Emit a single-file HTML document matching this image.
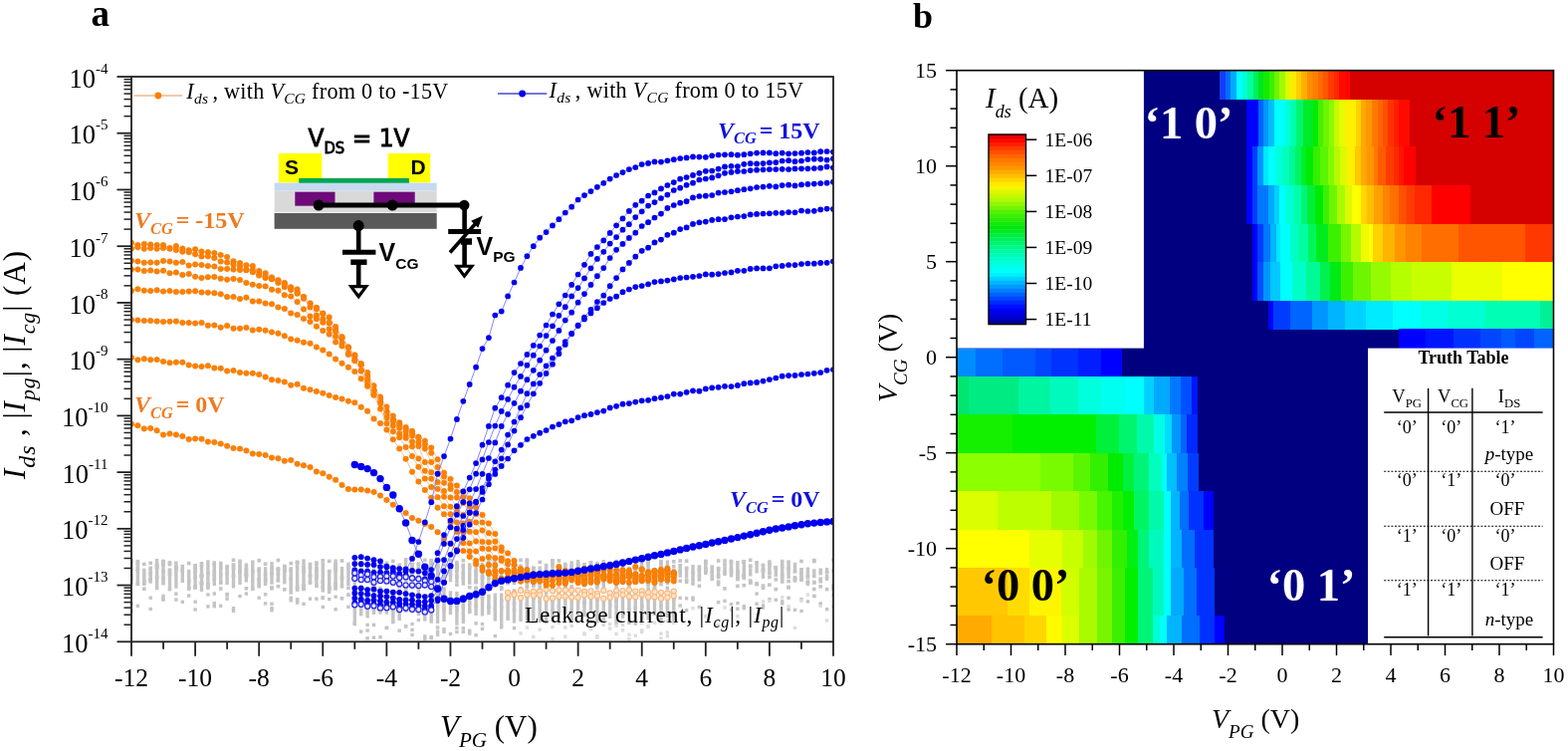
<!DOCTYPE html>
<html><head><meta charset="utf-8"><title>Figure</title>
<style>
html,body{margin:0;padding:0;background:#fff;}
body{width:1575px;height:754px;overflow:hidden;}
svg{display:block;}
</style></head><body>
<svg width="1575" height="754" viewBox="0 0 1575 754">
<rect x="0" y="0" width="1575" height="754" fill="#fff"/>
<rect x="961.0" y="70.7" width="599.5" height="576.0" fill="#000080"/>
<rect x="1225.20" y="70.70" width="5.90" height="29.60" fill="#143cff" shape-rendering="crispEdges"/>
<rect x="1230.80" y="70.70" width="5.80" height="29.60" fill="#006eff" shape-rendering="crispEdges"/>
<rect x="1236.30" y="70.70" width="5.90" height="29.60" fill="#00aaff" shape-rendering="crispEdges"/>
<rect x="1241.90" y="70.70" width="5.90" height="29.60" fill="#00ffff" shape-rendering="crispEdges"/>
<rect x="1247.50" y="70.70" width="5.90" height="29.60" fill="#00ffd2" shape-rendering="crispEdges"/>
<rect x="1253.10" y="70.70" width="5.90" height="29.60" fill="#00ffa0" shape-rendering="crispEdges"/>
<rect x="1258.70" y="70.70" width="5.40" height="29.60" fill="#00f05a" shape-rendering="crispEdges"/>
<rect x="1263.80" y="70.70" width="5.40" height="29.60" fill="#00e61e" shape-rendering="crispEdges"/>
<rect x="1268.90" y="70.70" width="6.40" height="29.60" fill="#14eb00" shape-rendering="crispEdges"/>
<rect x="1275.00" y="70.70" width="5.30" height="29.60" fill="#3cf000" shape-rendering="crispEdges"/>
<rect x="1280.00" y="70.70" width="5.30" height="29.60" fill="#6ef500" shape-rendering="crispEdges"/>
<rect x="1285.00" y="70.70" width="6.00" height="29.60" fill="#a0fa00" shape-rendering="crispEdges"/>
<rect x="1290.70" y="70.70" width="5.90" height="29.60" fill="#dcfa00" shape-rendering="crispEdges"/>
<rect x="1296.30" y="70.70" width="5.90" height="29.60" fill="#ffeb00" shape-rendering="crispEdges"/>
<rect x="1301.90" y="70.70" width="5.40" height="29.60" fill="#ffcd00" shape-rendering="crispEdges"/>
<rect x="1307.00" y="70.70" width="5.90" height="29.60" fill="#ffaf00" shape-rendering="crispEdges"/>
<rect x="1312.60" y="70.70" width="5.80" height="29.60" fill="#ff8c00" shape-rendering="crispEdges"/>
<rect x="1318.10" y="70.70" width="5.90" height="29.60" fill="#ff8000" shape-rendering="crispEdges"/>
<rect x="1323.70" y="70.70" width="5.40" height="29.60" fill="#ff6900" shape-rendering="crispEdges"/>
<rect x="1328.80" y="70.70" width="5.90" height="29.60" fill="#ff5500" shape-rendering="crispEdges"/>
<rect x="1334.40" y="70.70" width="5.90" height="29.60" fill="#ff3c00" shape-rendering="crispEdges"/>
<rect x="1340.00" y="70.70" width="5.30" height="29.60" fill="#ff2800" shape-rendering="crispEdges"/>
<rect x="1345.00" y="70.70" width="6.50" height="29.60" fill="#ff0a00" shape-rendering="crispEdges"/>
<rect x="1351.20" y="70.70" width="5.40" height="29.60" fill="#ff0500" shape-rendering="crispEdges"/>
<rect x="1356.30" y="70.70" width="204.50" height="29.60" fill="#d50000" shape-rendering="crispEdges"/>
<rect x="1252.00" y="100.00" width="11.80" height="47.40" fill="#0000ff" shape-rendering="crispEdges"/>
<rect x="1263.50" y="100.00" width="6.00" height="47.40" fill="#0064ff" shape-rendering="crispEdges"/>
<rect x="1269.20" y="100.00" width="5.40" height="47.40" fill="#0096ff" shape-rendering="crispEdges"/>
<rect x="1274.30" y="100.00" width="6.00" height="47.40" fill="#00beff" shape-rendering="crispEdges"/>
<rect x="1280.00" y="100.00" width="11.10" height="47.40" fill="#00ffff" shape-rendering="crispEdges"/>
<rect x="1290.80" y="100.00" width="6.00" height="47.40" fill="#00ffd2" shape-rendering="crispEdges"/>
<rect x="1296.50" y="100.00" width="6.00" height="47.40" fill="#00ffaa" shape-rendering="crispEdges"/>
<rect x="1302.20" y="100.00" width="6.70" height="47.40" fill="#00f56e" shape-rendering="crispEdges"/>
<rect x="1308.60" y="100.00" width="10.40" height="47.40" fill="#00eb28" shape-rendering="crispEdges"/>
<rect x="1318.70" y="100.00" width="5.40" height="47.40" fill="#00eb00" shape-rendering="crispEdges"/>
<rect x="1323.80" y="100.00" width="5.40" height="47.40" fill="#46f000" shape-rendering="crispEdges"/>
<rect x="1328.90" y="100.00" width="6.60" height="47.40" fill="#6ef500" shape-rendering="crispEdges"/>
<rect x="1335.20" y="100.00" width="5.40" height="47.40" fill="#8cfa00" shape-rendering="crispEdges"/>
<rect x="1340.30" y="100.00" width="5.40" height="47.40" fill="#c8fa00" shape-rendering="crispEdges"/>
<rect x="1345.40" y="100.00" width="5.40" height="47.40" fill="#e6fa00" shape-rendering="crispEdges"/>
<rect x="1350.50" y="100.00" width="11.80" height="47.40" fill="#fff000" shape-rendering="crispEdges"/>
<rect x="1362.00" y="100.00" width="5.30" height="47.40" fill="#ffd200" shape-rendering="crispEdges"/>
<rect x="1367.00" y="100.00" width="5.30" height="47.40" fill="#ffaa00" shape-rendering="crispEdges"/>
<rect x="1372.00" y="100.00" width="6.10" height="47.40" fill="#ff9600" shape-rendering="crispEdges"/>
<rect x="1377.80" y="100.00" width="6.00" height="47.40" fill="#ff7800" shape-rendering="crispEdges"/>
<rect x="1383.50" y="100.00" width="5.40" height="47.40" fill="#ff6400" shape-rendering="crispEdges"/>
<rect x="1388.60" y="100.00" width="6.00" height="47.40" fill="#ff5000" shape-rendering="crispEdges"/>
<rect x="1394.30" y="100.00" width="6.00" height="47.40" fill="#ff3200" shape-rendering="crispEdges"/>
<rect x="1400.00" y="100.00" width="5.30" height="47.40" fill="#ff1e00" shape-rendering="crispEdges"/>
<rect x="1405.00" y="100.00" width="11.20" height="47.40" fill="#ff0a00" shape-rendering="crispEdges"/>
<rect x="1415.90" y="100.00" width="144.90" height="47.40" fill="#d50000" shape-rendering="crispEdges"/>
<rect x="1252.00" y="147.10" width="6.60" height="39.20" fill="#0000ff" shape-rendering="crispEdges"/>
<rect x="1258.30" y="147.10" width="5.00" height="39.20" fill="#003cff" shape-rendering="crispEdges"/>
<rect x="1263.00" y="147.10" width="6.70" height="39.20" fill="#0096ff" shape-rendering="crispEdges"/>
<rect x="1269.40" y="147.10" width="4.90" height="39.20" fill="#00e6ff" shape-rendering="crispEdges"/>
<rect x="1274.00" y="147.10" width="7.60" height="39.20" fill="#00ffff" shape-rendering="crispEdges"/>
<rect x="1281.30" y="147.10" width="6.60" height="39.20" fill="#00ffdc" shape-rendering="crispEdges"/>
<rect x="1287.60" y="147.10" width="7.50" height="39.20" fill="#00ffbe" shape-rendering="crispEdges"/>
<rect x="1294.80" y="147.10" width="6.50" height="39.20" fill="#00fa96" shape-rendering="crispEdges"/>
<rect x="1301.00" y="147.10" width="6.00" height="39.20" fill="#00f564" shape-rendering="crispEdges"/>
<rect x="1306.70" y="147.10" width="5.80" height="39.20" fill="#00f028" shape-rendering="crispEdges"/>
<rect x="1312.20" y="147.10" width="7.50" height="39.20" fill="#00eb00" shape-rendering="crispEdges"/>
<rect x="1319.40" y="147.10" width="6.60" height="39.20" fill="#32f000" shape-rendering="crispEdges"/>
<rect x="1325.70" y="147.10" width="8.30" height="39.20" fill="#5af500" shape-rendering="crispEdges"/>
<rect x="1333.70" y="147.10" width="6.60" height="39.20" fill="#82fa00" shape-rendering="crispEdges"/>
<rect x="1340.00" y="147.10" width="6.60" height="39.20" fill="#b4fa00" shape-rendering="crispEdges"/>
<rect x="1346.30" y="147.10" width="6.70" height="39.20" fill="#dcfa00" shape-rendering="crispEdges"/>
<rect x="1352.70" y="147.10" width="8.20" height="39.20" fill="#fff000" shape-rendering="crispEdges"/>
<rect x="1360.60" y="147.10" width="6.70" height="39.20" fill="#ffc800" shape-rendering="crispEdges"/>
<rect x="1367.00" y="147.10" width="6.60" height="39.20" fill="#ffaa00" shape-rendering="crispEdges"/>
<rect x="1373.30" y="147.10" width="6.70" height="39.20" fill="#ff9600" shape-rendering="crispEdges"/>
<rect x="1379.70" y="147.10" width="5.00" height="39.20" fill="#ff7800" shape-rendering="crispEdges"/>
<rect x="1384.40" y="147.10" width="8.30" height="39.20" fill="#ff5a00" shape-rendering="crispEdges"/>
<rect x="1392.40" y="147.10" width="7.40" height="39.20" fill="#ff3c00" shape-rendering="crispEdges"/>
<rect x="1399.50" y="147.10" width="5.80" height="39.20" fill="#ff2800" shape-rendering="crispEdges"/>
<rect x="1405.00" y="147.10" width="5.10" height="39.20" fill="#ff1400" shape-rendering="crispEdges"/>
<rect x="1409.80" y="147.10" width="12.20" height="39.20" fill="#ff0000" shape-rendering="crispEdges"/>
<rect x="1421.70" y="147.10" width="139.10" height="39.20" fill="#d50000" shape-rendering="crispEdges"/>
<rect x="1252.00" y="186.00" width="6.60" height="39.00" fill="#0000ff" shape-rendering="crispEdges"/>
<rect x="1258.30" y="186.00" width="5.00" height="39.00" fill="#003cff" shape-rendering="crispEdges"/>
<rect x="1263.00" y="186.00" width="11.30" height="39.00" fill="#0078ff" shape-rendering="crispEdges"/>
<rect x="1274.00" y="186.00" width="6.00" height="39.00" fill="#00aaff" shape-rendering="crispEdges"/>
<rect x="1279.70" y="186.00" width="5.80" height="39.00" fill="#00d2ff" shape-rendering="crispEdges"/>
<rect x="1285.20" y="186.00" width="7.50" height="39.00" fill="#00ffff" shape-rendering="crispEdges"/>
<rect x="1292.40" y="186.00" width="8.20" height="39.00" fill="#00ffd2" shape-rendering="crispEdges"/>
<rect x="1300.30" y="186.00" width="6.70" height="39.00" fill="#00ffaa" shape-rendering="crispEdges"/>
<rect x="1306.70" y="186.00" width="6.60" height="39.00" fill="#00f578" shape-rendering="crispEdges"/>
<rect x="1313.00" y="186.00" width="8.30" height="39.00" fill="#00f03c" shape-rendering="crispEdges"/>
<rect x="1321.00" y="186.00" width="8.20" height="39.00" fill="#00eb00" shape-rendering="crispEdges"/>
<rect x="1328.90" y="186.00" width="6.60" height="39.00" fill="#3cf000" shape-rendering="crispEdges"/>
<rect x="1335.20" y="186.00" width="8.30" height="39.00" fill="#6ef500" shape-rendering="crispEdges"/>
<rect x="1343.20" y="186.00" width="8.10" height="39.00" fill="#aafa00" shape-rendering="crispEdges"/>
<rect x="1351.00" y="186.00" width="6.80" height="39.00" fill="#dcfa00" shape-rendering="crispEdges"/>
<rect x="1357.50" y="186.00" width="9.80" height="39.00" fill="#ffff00" shape-rendering="crispEdges"/>
<rect x="1367.00" y="186.00" width="6.60" height="39.00" fill="#ffd700" shape-rendering="crispEdges"/>
<rect x="1373.30" y="186.00" width="6.70" height="39.00" fill="#ffbe00" shape-rendering="crispEdges"/>
<rect x="1379.70" y="186.00" width="9.80" height="39.00" fill="#ffa000" shape-rendering="crispEdges"/>
<rect x="1389.20" y="186.00" width="7.40" height="39.00" fill="#ff8200" shape-rendering="crispEdges"/>
<rect x="1396.30" y="186.00" width="9.00" height="39.00" fill="#ff6e00" shape-rendering="crispEdges"/>
<rect x="1405.00" y="186.00" width="8.30" height="39.00" fill="#ff5000" shape-rendering="crispEdges"/>
<rect x="1413.00" y="186.00" width="8.30" height="39.00" fill="#ff3c00" shape-rendering="crispEdges"/>
<rect x="1421.00" y="186.00" width="17.70" height="39.00" fill="#ff2800" shape-rendering="crispEdges"/>
<rect x="1438.40" y="186.00" width="38.40" height="39.00" fill="#ff0000" shape-rendering="crispEdges"/>
<rect x="1476.50" y="186.00" width="84.30" height="39.00" fill="#d50000" shape-rendering="crispEdges"/>
<rect x="1257.60" y="224.70" width="6.00" height="38.40" fill="#0000ff" shape-rendering="crispEdges"/>
<rect x="1263.30" y="224.70" width="6.40" height="38.40" fill="#003cff" shape-rendering="crispEdges"/>
<rect x="1269.40" y="224.70" width="6.40" height="38.40" fill="#0078ff" shape-rendering="crispEdges"/>
<rect x="1275.50" y="224.70" width="6.40" height="38.40" fill="#00b4ff" shape-rendering="crispEdges"/>
<rect x="1281.60" y="224.70" width="4.30" height="38.40" fill="#00e6ff" shape-rendering="crispEdges"/>
<rect x="1285.60" y="224.70" width="10.50" height="38.40" fill="#00ffff" shape-rendering="crispEdges"/>
<rect x="1295.80" y="224.70" width="8.40" height="38.40" fill="#00ffc8" shape-rendering="crispEdges"/>
<rect x="1303.90" y="224.70" width="10.40" height="38.40" fill="#00ffa0" shape-rendering="crispEdges"/>
<rect x="1314.00" y="224.70" width="8.50" height="38.40" fill="#00f55a" shape-rendering="crispEdges"/>
<rect x="1322.20" y="224.70" width="12.50" height="38.40" fill="#00eb1e" shape-rendering="crispEdges"/>
<rect x="1334.40" y="224.70" width="12.50" height="38.40" fill="#3cf000" shape-rendering="crispEdges"/>
<rect x="1346.60" y="224.70" width="10.40" height="38.40" fill="#78f500" shape-rendering="crispEdges"/>
<rect x="1356.70" y="224.70" width="10.60" height="38.40" fill="#b4fa00" shape-rendering="crispEdges"/>
<rect x="1367.00" y="224.70" width="8.30" height="38.40" fill="#f0fa00" shape-rendering="crispEdges"/>
<rect x="1375.00" y="224.70" width="4.30" height="38.40" fill="#ffff00" shape-rendering="crispEdges"/>
<rect x="1379.00" y="224.70" width="10.60" height="38.40" fill="#ffd200" shape-rendering="crispEdges"/>
<rect x="1389.30" y="224.70" width="12.40" height="38.40" fill="#ffb400" shape-rendering="crispEdges"/>
<rect x="1401.40" y="224.70" width="10.50" height="38.40" fill="#ff9600" shape-rendering="crispEdges"/>
<rect x="1411.60" y="224.70" width="16.60" height="38.40" fill="#ff8200" shape-rendering="crispEdges"/>
<rect x="1427.90" y="224.70" width="37.80" height="38.40" fill="#ff6e00" shape-rendering="crispEdges"/>
<rect x="1465.40" y="224.70" width="66.40" height="38.40" fill="#ff5500" shape-rendering="crispEdges"/>
<rect x="1531.50" y="224.70" width="29.30" height="38.40" fill="#ff3700" shape-rendering="crispEdges"/>
<rect x="1257.60" y="262.80" width="6.00" height="39.00" fill="#0000ff" shape-rendering="crispEdges"/>
<rect x="1263.30" y="262.80" width="6.40" height="39.00" fill="#0050ff" shape-rendering="crispEdges"/>
<rect x="1269.40" y="262.80" width="6.40" height="39.00" fill="#0096ff" shape-rendering="crispEdges"/>
<rect x="1275.50" y="262.80" width="10.40" height="39.00" fill="#00c8ff" shape-rendering="crispEdges"/>
<rect x="1285.60" y="262.80" width="12.50" height="39.00" fill="#00ffff" shape-rendering="crispEdges"/>
<rect x="1297.80" y="262.80" width="14.50" height="39.00" fill="#00ffc8" shape-rendering="crispEdges"/>
<rect x="1312.00" y="262.80" width="14.60" height="39.00" fill="#00fa96" shape-rendering="crispEdges"/>
<rect x="1326.30" y="262.80" width="10.40" height="39.00" fill="#00f050" shape-rendering="crispEdges"/>
<rect x="1336.40" y="262.80" width="10.50" height="39.00" fill="#00eb14" shape-rendering="crispEdges"/>
<rect x="1346.60" y="262.80" width="12.50" height="39.00" fill="#3cf000" shape-rendering="crispEdges"/>
<rect x="1358.80" y="262.80" width="18.50" height="39.00" fill="#6ef500" shape-rendering="crispEdges"/>
<rect x="1377.00" y="262.80" width="20.70" height="39.00" fill="#96fa00" shape-rendering="crispEdges"/>
<rect x="1397.40" y="262.80" width="20.60" height="39.00" fill="#b4ff00" shape-rendering="crispEdges"/>
<rect x="1417.70" y="262.80" width="40.90" height="39.00" fill="#c8ff00" shape-rendering="crispEdges"/>
<rect x="1458.30" y="262.80" width="51.00" height="39.00" fill="#ebff00" shape-rendering="crispEdges"/>
<rect x="1509.00" y="262.80" width="51.80" height="39.00" fill="#ffff00" shape-rendering="crispEdges"/>
<rect x="1273.90" y="301.50" width="5.80" height="29.10" fill="#0000ff" shape-rendering="crispEdges"/>
<rect x="1279.40" y="301.50" width="16.70" height="29.10" fill="#003cff" shape-rendering="crispEdges"/>
<rect x="1295.80" y="301.50" width="22.50" height="29.10" fill="#0064ff" shape-rendering="crispEdges"/>
<rect x="1318.00" y="301.50" width="15.90" height="29.10" fill="#0096ff" shape-rendering="crispEdges"/>
<rect x="1333.60" y="301.50" width="17.70" height="29.10" fill="#00b4ff" shape-rendering="crispEdges"/>
<rect x="1351.00" y="301.50" width="21.60" height="29.10" fill="#00d2ff" shape-rendering="crispEdges"/>
<rect x="1372.30" y="301.50" width="27.40" height="29.10" fill="#00ebff" shape-rendering="crispEdges"/>
<rect x="1399.40" y="301.50" width="27.40" height="29.10" fill="#00ffff" shape-rendering="crispEdges"/>
<rect x="1426.50" y="301.50" width="27.40" height="29.10" fill="#00ffe6" shape-rendering="crispEdges"/>
<rect x="1453.60" y="301.50" width="39.10" height="29.10" fill="#00ffd2" shape-rendering="crispEdges"/>
<rect x="1492.40" y="301.50" width="54.50" height="29.10" fill="#00ffb4" shape-rendering="crispEdges"/>
<rect x="1546.60" y="301.50" width="14.20" height="29.10" fill="#00f096" shape-rendering="crispEdges"/>
<rect x="1405.20" y="330.30" width="27.40" height="19.60" fill="#0000ff" shape-rendering="crispEdges"/>
<rect x="1432.30" y="330.30" width="27.50" height="19.60" fill="#0014ff" shape-rendering="crispEdges"/>
<rect x="1459.50" y="330.30" width="27.40" height="19.60" fill="#0032ff" shape-rendering="crispEdges"/>
<rect x="1486.60" y="330.30" width="21.70" height="19.60" fill="#0046ff" shape-rendering="crispEdges"/>
<rect x="1508.00" y="330.30" width="13.80" height="19.60" fill="#005aff" shape-rendering="crispEdges"/>
<rect x="1521.50" y="330.30" width="19.60" height="19.60" fill="#0046ff" shape-rendering="crispEdges"/>
<rect x="1540.80" y="330.30" width="20.00" height="19.60" fill="#0064ff" shape-rendering="crispEdges"/>
<rect x="961.00" y="349.60" width="19.20" height="28.90" fill="#008cff" shape-rendering="crispEdges"/>
<rect x="979.90" y="349.60" width="27.00" height="28.90" fill="#006eff" shape-rendering="crispEdges"/>
<rect x="1006.60" y="349.60" width="34.00" height="28.90" fill="#005aff" shape-rendering="crispEdges"/>
<rect x="1040.30" y="349.60" width="16.30" height="28.90" fill="#0046ff" shape-rendering="crispEdges"/>
<rect x="1056.30" y="349.60" width="27.00" height="28.90" fill="#0032ff" shape-rendering="crispEdges"/>
<rect x="1083.00" y="349.60" width="23.30" height="28.90" fill="#001eff" shape-rendering="crispEdges"/>
<rect x="1106.00" y="349.60" width="20.90" height="28.90" fill="#0000ff" shape-rendering="crispEdges"/>
<rect x="1126.60" y="349.60" width="434.20" height="28.90" fill="#000080" shape-rendering="crispEdges"/>
<rect x="961.00" y="378.20" width="12.10" height="38.50" fill="#00e66e" shape-rendering="crispEdges"/>
<rect x="972.80" y="378.20" width="50.10" height="38.50" fill="#00eb82" shape-rendering="crispEdges"/>
<rect x="1022.60" y="378.20" width="32.30" height="38.50" fill="#00f5a0" shape-rendering="crispEdges"/>
<rect x="1054.60" y="378.20" width="28.70" height="38.50" fill="#00fabe" shape-rendering="crispEdges"/>
<rect x="1083.00" y="378.20" width="23.30" height="38.50" fill="#00ffdc" shape-rendering="crispEdges"/>
<rect x="1106.00" y="378.20" width="25.30" height="38.50" fill="#00fff0" shape-rendering="crispEdges"/>
<rect x="1131.00" y="378.20" width="18.10" height="38.50" fill="#00ffff" shape-rendering="crispEdges"/>
<rect x="1148.80" y="378.20" width="10.90" height="38.50" fill="#00d2ff" shape-rendering="crispEdges"/>
<rect x="1159.40" y="378.20" width="16.30" height="38.50" fill="#00aaff" shape-rendering="crispEdges"/>
<rect x="1175.40" y="378.20" width="10.90" height="38.50" fill="#0078ff" shape-rendering="crispEdges"/>
<rect x="1186.00" y="378.20" width="11.10" height="38.50" fill="#0050ff" shape-rendering="crispEdges"/>
<rect x="1196.80" y="378.20" width="6.50" height="38.50" fill="#0014ff" shape-rendering="crispEdges"/>
<rect x="1203.00" y="378.20" width="357.80" height="38.50" fill="#000080" shape-rendering="crispEdges"/>
<rect x="961.00" y="416.40" width="56.50" height="38.50" fill="#14f000" shape-rendering="crispEdges"/>
<rect x="1017.20" y="416.40" width="83.90" height="38.50" fill="#00f000" shape-rendering="crispEdges"/>
<rect x="1100.80" y="416.40" width="23.40" height="38.50" fill="#00f03c" shape-rendering="crispEdges"/>
<rect x="1123.90" y="416.40" width="18.10" height="38.50" fill="#00f56e" shape-rendering="crispEdges"/>
<rect x="1141.70" y="416.40" width="18.00" height="38.50" fill="#00faaa" shape-rendering="crispEdges"/>
<rect x="1159.40" y="416.40" width="10.90" height="38.50" fill="#00ffe6" shape-rendering="crispEdges"/>
<rect x="1170.00" y="416.40" width="7.50" height="38.50" fill="#00dcff" shape-rendering="crispEdges"/>
<rect x="1177.20" y="416.40" width="9.10" height="38.50" fill="#0096ff" shape-rendering="crispEdges"/>
<rect x="1186.00" y="416.40" width="6.60" height="38.50" fill="#0064ff" shape-rendering="crispEdges"/>
<rect x="1192.30" y="416.40" width="11.00" height="38.50" fill="#0028ff" shape-rendering="crispEdges"/>
<rect x="1203.00" y="416.40" width="357.80" height="38.50" fill="#000080" shape-rendering="crispEdges"/>
<rect x="961.00" y="454.60" width="84.50" height="39.00" fill="#8cff00" shape-rendering="crispEdges"/>
<rect x="1045.20" y="454.60" width="33.50" height="39.00" fill="#78fa00" shape-rendering="crispEdges"/>
<rect x="1078.40" y="454.60" width="16.90" height="39.00" fill="#5af500" shape-rendering="crispEdges"/>
<rect x="1095.00" y="454.60" width="18.70" height="39.00" fill="#32f000" shape-rendering="crispEdges"/>
<rect x="1113.40" y="454.60" width="14.90" height="39.00" fill="#00eb00" shape-rendering="crispEdges"/>
<rect x="1128.00" y="454.60" width="11.30" height="39.00" fill="#00f03c" shape-rendering="crispEdges"/>
<rect x="1139.00" y="454.60" width="15.20" height="39.00" fill="#00f578" shape-rendering="crispEdges"/>
<rect x="1153.90" y="454.60" width="13.10" height="39.00" fill="#00ffbe" shape-rendering="crispEdges"/>
<rect x="1166.70" y="454.60" width="5.90" height="39.00" fill="#00ffff" shape-rendering="crispEdges"/>
<rect x="1172.30" y="454.60" width="9.50" height="39.00" fill="#00beff" shape-rendering="crispEdges"/>
<rect x="1181.50" y="454.60" width="11.30" height="39.00" fill="#0082ff" shape-rendering="crispEdges"/>
<rect x="1192.50" y="454.60" width="11.40" height="39.00" fill="#003cff" shape-rendering="crispEdges"/>
<rect x="1203.60" y="454.60" width="357.20" height="39.00" fill="#000080" shape-rendering="crispEdges"/>
<rect x="961.00" y="493.30" width="41.30" height="39.00" fill="#dcff00" shape-rendering="crispEdges"/>
<rect x="1002.00" y="493.30" width="54.60" height="39.00" fill="#beff00" shape-rendering="crispEdges"/>
<rect x="1056.30" y="493.30" width="27.90" height="39.00" fill="#a0fa00" shape-rendering="crispEdges"/>
<rect x="1083.90" y="493.30" width="18.70" height="39.00" fill="#78fa00" shape-rendering="crispEdges"/>
<rect x="1102.30" y="493.30" width="15.00" height="39.00" fill="#46f500" shape-rendering="crispEdges"/>
<rect x="1117.00" y="493.30" width="11.30" height="39.00" fill="#1ef000" shape-rendering="crispEdges"/>
<rect x="1128.00" y="493.30" width="11.30" height="39.00" fill="#00f000" shape-rendering="crispEdges"/>
<rect x="1139.00" y="493.30" width="15.20" height="39.00" fill="#00f564" shape-rendering="crispEdges"/>
<rect x="1153.90" y="493.30" width="15.00" height="39.00" fill="#00faaa" shape-rendering="crispEdges"/>
<rect x="1168.60" y="493.30" width="7.70" height="39.00" fill="#00ffff" shape-rendering="crispEdges"/>
<rect x="1176.00" y="493.30" width="9.50" height="39.00" fill="#00b4ff" shape-rendering="crispEdges"/>
<rect x="1185.20" y="493.30" width="9.50" height="39.00" fill="#006eff" shape-rendering="crispEdges"/>
<rect x="1194.40" y="493.30" width="14.90" height="39.00" fill="#0032ff" shape-rendering="crispEdges"/>
<rect x="1209.00" y="493.30" width="10.50" height="39.00" fill="#0000ff" shape-rendering="crispEdges"/>
<rect x="1219.20" y="493.30" width="341.60" height="39.00" fill="#000080" shape-rendering="crispEdges"/>
<rect x="961.00" y="532.00" width="73.50" height="38.40" fill="#ffff00" shape-rendering="crispEdges"/>
<rect x="1034.20" y="532.00" width="33.40" height="38.40" fill="#e6ff00" shape-rendering="crispEdges"/>
<rect x="1067.30" y="532.00" width="20.60" height="38.40" fill="#c8ff00" shape-rendering="crispEdges"/>
<rect x="1087.60" y="532.00" width="15.00" height="38.40" fill="#a0fa00" shape-rendering="crispEdges"/>
<rect x="1102.30" y="532.00" width="15.00" height="38.40" fill="#6ef500" shape-rendering="crispEdges"/>
<rect x="1117.00" y="532.00" width="15.10" height="38.40" fill="#32f000" shape-rendering="crispEdges"/>
<rect x="1131.80" y="532.00" width="11.30" height="38.40" fill="#00f014" shape-rendering="crispEdges"/>
<rect x="1142.80" y="532.00" width="11.40" height="38.40" fill="#00f578" shape-rendering="crispEdges"/>
<rect x="1153.90" y="532.00" width="15.00" height="38.40" fill="#00fabe" shape-rendering="crispEdges"/>
<rect x="1168.60" y="532.00" width="7.70" height="38.40" fill="#00ffff" shape-rendering="crispEdges"/>
<rect x="1176.00" y="532.00" width="11.30" height="38.40" fill="#00b4ff" shape-rendering="crispEdges"/>
<rect x="1187.00" y="532.00" width="13.30" height="38.40" fill="#006eff" shape-rendering="crispEdges"/>
<rect x="1200.00" y="532.00" width="19.50" height="38.40" fill="#0032ff" shape-rendering="crispEdges"/>
<rect x="1219.20" y="532.00" width="341.60" height="38.40" fill="#000080" shape-rendering="crispEdges"/>
<rect x="961.00" y="570.10" width="51.30" height="48.20" fill="#ffc800" shape-rendering="crispEdges"/>
<rect x="1012.00" y="570.10" width="22.50" height="48.20" fill="#ffdc00" shape-rendering="crispEdges"/>
<rect x="1034.20" y="570.10" width="31.60" height="48.20" fill="#fff500" shape-rendering="crispEdges"/>
<rect x="1065.50" y="570.10" width="18.70" height="48.20" fill="#d2ff00" shape-rendering="crispEdges"/>
<rect x="1083.90" y="570.10" width="18.70" height="48.20" fill="#aafa00" shape-rendering="crispEdges"/>
<rect x="1102.30" y="570.10" width="15.00" height="48.20" fill="#78f500" shape-rendering="crispEdges"/>
<rect x="1117.00" y="570.10" width="13.30" height="48.20" fill="#3cf000" shape-rendering="crispEdges"/>
<rect x="1130.00" y="570.10" width="13.10" height="48.20" fill="#00f000" shape-rendering="crispEdges"/>
<rect x="1142.80" y="570.10" width="15.00" height="48.20" fill="#00f578" shape-rendering="crispEdges"/>
<rect x="1157.50" y="570.10" width="11.40" height="48.20" fill="#00fabe" shape-rendering="crispEdges"/>
<rect x="1168.60" y="570.10" width="7.70" height="48.20" fill="#00ffff" shape-rendering="crispEdges"/>
<rect x="1176.00" y="570.10" width="13.10" height="48.20" fill="#00aaff" shape-rendering="crispEdges"/>
<rect x="1188.80" y="570.10" width="13.20" height="48.20" fill="#006eff" shape-rendering="crispEdges"/>
<rect x="1201.70" y="570.10" width="18.70" height="48.20" fill="#0032ff" shape-rendering="crispEdges"/>
<rect x="1220.10" y="570.10" width="340.70" height="48.20" fill="#000080" shape-rendering="crispEdges"/>
<rect x="961.00" y="618.00" width="34.80" height="29.00" fill="#ffaa00" shape-rendering="crispEdges"/>
<rect x="995.50" y="618.00" width="33.40" height="29.00" fill="#ffc300" shape-rendering="crispEdges"/>
<rect x="1028.60" y="618.00" width="22.40" height="29.00" fill="#ffd700" shape-rendering="crispEdges"/>
<rect x="1050.70" y="618.00" width="16.90" height="29.00" fill="#fffa00" shape-rendering="crispEdges"/>
<rect x="1067.30" y="618.00" width="16.90" height="29.00" fill="#dcff00" shape-rendering="crispEdges"/>
<rect x="1083.90" y="618.00" width="18.70" height="29.00" fill="#aafa00" shape-rendering="crispEdges"/>
<rect x="1102.30" y="618.00" width="15.00" height="29.00" fill="#78f500" shape-rendering="crispEdges"/>
<rect x="1117.00" y="618.00" width="13.30" height="29.00" fill="#3cf000" shape-rendering="crispEdges"/>
<rect x="1130.00" y="618.00" width="13.10" height="29.00" fill="#00f000" shape-rendering="crispEdges"/>
<rect x="1142.80" y="618.00" width="15.00" height="29.00" fill="#00f578" shape-rendering="crispEdges"/>
<rect x="1157.50" y="618.00" width="7.80" height="29.00" fill="#00ffd2" shape-rendering="crispEdges"/>
<rect x="1165.00" y="618.00" width="7.60" height="29.00" fill="#00ffff" shape-rendering="crispEdges"/>
<rect x="1172.30" y="618.00" width="15.00" height="29.00" fill="#00b4ff" shape-rendering="crispEdges"/>
<rect x="1187.00" y="618.00" width="18.70" height="29.00" fill="#006eff" shape-rendering="crispEdges"/>
<rect x="1205.40" y="618.00" width="15.00" height="29.00" fill="#0032ff" shape-rendering="crispEdges"/>
<rect x="1220.10" y="618.00" width="10.50" height="29.00" fill="#0000ff" shape-rendering="crispEdges"/>
<rect x="1230.30" y="618.00" width="330.50" height="29.00" fill="#000080" shape-rendering="crispEdges"/>
<rect x="961.0" y="70.7" width="187.9" height="278.9" fill="#fff"/>
<rect x="1374.0" y="349.6" width="186.5" height="297.1" fill="#fff"/>
<rect x="993.0" y="135.00" width="37.5" height="4.37" fill="#e40000"/>
<rect x="993.0" y="138.97" width="37.5" height="4.37" fill="#ff0500"/>
<rect x="993.0" y="142.94" width="37.5" height="4.37" fill="#ff1f00"/>
<rect x="993.0" y="146.91" width="37.5" height="4.37" fill="#ff3a00"/>
<rect x="993.0" y="150.88" width="37.5" height="4.37" fill="#ff5000"/>
<rect x="993.0" y="154.85" width="37.5" height="4.37" fill="#ff6600"/>
<rect x="993.0" y="158.82" width="37.5" height="4.37" fill="#ff7700"/>
<rect x="993.0" y="162.80" width="37.5" height="4.37" fill="#ff8600"/>
<rect x="993.0" y="166.77" width="37.5" height="4.37" fill="#ff9500"/>
<rect x="993.0" y="170.74" width="37.5" height="4.37" fill="#ffaa00"/>
<rect x="993.0" y="174.71" width="37.5" height="4.37" fill="#ffc000"/>
<rect x="993.0" y="178.68" width="37.5" height="4.37" fill="#ffd500"/>
<rect x="993.0" y="182.65" width="37.5" height="4.37" fill="#ffe900"/>
<rect x="993.0" y="186.62" width="37.5" height="4.37" fill="#f6f600"/>
<rect x="993.0" y="190.59" width="37.5" height="4.37" fill="#dff700"/>
<rect x="993.0" y="194.56" width="37.5" height="4.37" fill="#c7f800"/>
<rect x="993.0" y="198.53" width="37.5" height="4.37" fill="#b0fa00"/>
<rect x="993.0" y="202.50" width="37.5" height="4.37" fill="#93f800"/>
<rect x="993.0" y="206.48" width="37.5" height="4.37" fill="#73f500"/>
<rect x="993.0" y="210.45" width="37.5" height="4.37" fill="#54f100"/>
<rect x="993.0" y="214.42" width="37.5" height="4.37" fill="#3bee02"/>
<rect x="993.0" y="218.39" width="37.5" height="4.37" fill="#28ec04"/>
<rect x="993.0" y="222.36" width="37.5" height="4.37" fill="#15e907"/>
<rect x="993.0" y="226.33" width="37.5" height="4.37" fill="#01e60a"/>
<rect x="993.0" y="230.30" width="37.5" height="4.37" fill="#00e923"/>
<rect x="993.0" y="234.27" width="37.5" height="4.37" fill="#00ed3e"/>
<rect x="993.0" y="238.24" width="37.5" height="4.37" fill="#00f159"/>
<rect x="993.0" y="242.21" width="37.5" height="4.37" fill="#00f474"/>
<rect x="993.0" y="246.18" width="37.5" height="4.37" fill="#00f78a"/>
<rect x="993.0" y="250.15" width="37.5" height="4.37" fill="#00faa1"/>
<rect x="993.0" y="254.12" width="37.5" height="4.37" fill="#00fdb7"/>
<rect x="993.0" y="258.10" width="37.5" height="4.37" fill="#00ffcb"/>
<rect x="993.0" y="262.07" width="37.5" height="4.37" fill="#00ffda"/>
<rect x="993.0" y="266.04" width="37.5" height="4.37" fill="#00ffe9"/>
<rect x="993.0" y="270.01" width="37.5" height="4.37" fill="#00fff9"/>
<rect x="993.0" y="273.98" width="37.5" height="4.37" fill="#00efff"/>
<rect x="993.0" y="277.95" width="37.5" height="4.37" fill="#00d2ff"/>
<rect x="993.0" y="281.92" width="37.5" height="4.37" fill="#00b6ff"/>
<rect x="993.0" y="285.89" width="37.5" height="4.37" fill="#0099ff"/>
<rect x="993.0" y="289.86" width="37.5" height="4.37" fill="#007dff"/>
<rect x="993.0" y="293.83" width="37.5" height="4.37" fill="#0061ff"/>
<rect x="993.0" y="297.80" width="37.5" height="4.37" fill="#0045ff"/>
<rect x="993.0" y="301.77" width="37.5" height="4.37" fill="#002aff"/>
<rect x="993.0" y="305.75" width="37.5" height="4.37" fill="#000eff"/>
<rect x="993.0" y="309.72" width="37.5" height="4.37" fill="#0000f5"/>
<rect x="993.0" y="313.69" width="37.5" height="4.37" fill="#0000e2"/>
<rect x="993.0" y="317.66" width="37.5" height="4.37" fill="#0000c8"/>
<rect x="993.0" y="321.63" width="37.5" height="4.37" fill="#00009b"/>
<rect x="993.0" y="135.0" width="37.5" height="190.6" fill="none" stroke="#000" stroke-width="1.4"/>
<line x1="1030.5" y1="140.2" x2="1041.3" y2="140.2" stroke="#000" stroke-width="1.5"/>
<text x="1049.5" y="146.5" font-family="'Liberation Serif','Times New Roman',serif" font-size="19.5" fill="#000">1E-06</text>
<line x1="1030.5" y1="176.3" x2="1041.3" y2="176.3" stroke="#000" stroke-width="1.5"/>
<text x="1049.5" y="182.6" font-family="'Liberation Serif','Times New Roman',serif" font-size="19.5" fill="#000">1E-07</text>
<line x1="1030.5" y1="212.4" x2="1041.3" y2="212.4" stroke="#000" stroke-width="1.5"/>
<text x="1049.5" y="218.7" font-family="'Liberation Serif','Times New Roman',serif" font-size="19.5" fill="#000">1E-08</text>
<line x1="1030.5" y1="248.4" x2="1041.3" y2="248.4" stroke="#000" stroke-width="1.5"/>
<text x="1049.5" y="254.7" font-family="'Liberation Serif','Times New Roman',serif" font-size="19.5" fill="#000">1E-09</text>
<line x1="1030.5" y1="284.5" x2="1041.3" y2="284.5" stroke="#000" stroke-width="1.5"/>
<text x="1049.5" y="290.8" font-family="'Liberation Serif','Times New Roman',serif" font-size="19.5" fill="#000">1E-10</text>
<line x1="1030.5" y1="320.6" x2="1041.3" y2="320.6" stroke="#000" stroke-width="1.5"/>
<text x="1049.5" y="326.9" font-family="'Liberation Serif','Times New Roman',serif" font-size="19.5" fill="#000">1E-11</text>
<text x="990" y="107.9" font-family="'Liberation Serif','Times New Roman',serif" font-size="29" fill="#000"><tspan font-style="italic">I</tspan><tspan font-style="italic" font-size="18" dy="10">ds</tspan><tspan dy="-10"> (A)</tspan></text>
<rect x="961.0" y="70.7" width="599.5" height="576.0" fill="none" stroke="#000" stroke-width="1.6"/>
<line x1="950.0" y1="646.70" x2="961.0" y2="646.70" stroke="#000" stroke-width="1.5"/>
<text x="941" y="654.3" font-family="'Liberation Serif','Times New Roman',serif" font-size="22" text-anchor="end" fill="#000">-15</text>
<line x1="954.5" y1="627.50" x2="961.0" y2="627.50" stroke="#000" stroke-width="1.5"/>
<line x1="954.5" y1="608.30" x2="961.0" y2="608.30" stroke="#000" stroke-width="1.5"/>
<line x1="954.5" y1="589.10" x2="961.0" y2="589.10" stroke="#000" stroke-width="1.5"/>
<line x1="954.5" y1="569.90" x2="961.0" y2="569.90" stroke="#000" stroke-width="1.5"/>
<line x1="950.0" y1="550.70" x2="961.0" y2="550.70" stroke="#000" stroke-width="1.5"/>
<text x="941" y="558.3" font-family="'Liberation Serif','Times New Roman',serif" font-size="22" text-anchor="end" fill="#000">-10</text>
<line x1="954.5" y1="531.50" x2="961.0" y2="531.50" stroke="#000" stroke-width="1.5"/>
<line x1="954.5" y1="512.30" x2="961.0" y2="512.30" stroke="#000" stroke-width="1.5"/>
<line x1="954.5" y1="493.10" x2="961.0" y2="493.10" stroke="#000" stroke-width="1.5"/>
<line x1="954.5" y1="473.90" x2="961.0" y2="473.90" stroke="#000" stroke-width="1.5"/>
<line x1="950.0" y1="454.70" x2="961.0" y2="454.70" stroke="#000" stroke-width="1.5"/>
<text x="941" y="462.3" font-family="'Liberation Serif','Times New Roman',serif" font-size="22" text-anchor="end" fill="#000">-5</text>
<line x1="954.5" y1="435.50" x2="961.0" y2="435.50" stroke="#000" stroke-width="1.5"/>
<line x1="954.5" y1="416.30" x2="961.0" y2="416.30" stroke="#000" stroke-width="1.5"/>
<line x1="954.5" y1="397.10" x2="961.0" y2="397.10" stroke="#000" stroke-width="1.5"/>
<line x1="954.5" y1="377.90" x2="961.0" y2="377.90" stroke="#000" stroke-width="1.5"/>
<line x1="950.0" y1="358.70" x2="961.0" y2="358.70" stroke="#000" stroke-width="1.5"/>
<text x="941" y="366.3" font-family="'Liberation Serif','Times New Roman',serif" font-size="22" text-anchor="end" fill="#000">0</text>
<line x1="954.5" y1="339.50" x2="961.0" y2="339.50" stroke="#000" stroke-width="1.5"/>
<line x1="954.5" y1="320.30" x2="961.0" y2="320.30" stroke="#000" stroke-width="1.5"/>
<line x1="954.5" y1="301.10" x2="961.0" y2="301.10" stroke="#000" stroke-width="1.5"/>
<line x1="954.5" y1="281.90" x2="961.0" y2="281.90" stroke="#000" stroke-width="1.5"/>
<line x1="950.0" y1="262.70" x2="961.0" y2="262.70" stroke="#000" stroke-width="1.5"/>
<text x="941" y="270.3" font-family="'Liberation Serif','Times New Roman',serif" font-size="22" text-anchor="end" fill="#000">5</text>
<line x1="954.5" y1="243.50" x2="961.0" y2="243.50" stroke="#000" stroke-width="1.5"/>
<line x1="954.5" y1="224.30" x2="961.0" y2="224.30" stroke="#000" stroke-width="1.5"/>
<line x1="954.5" y1="205.10" x2="961.0" y2="205.10" stroke="#000" stroke-width="1.5"/>
<line x1="954.5" y1="185.90" x2="961.0" y2="185.90" stroke="#000" stroke-width="1.5"/>
<line x1="950.0" y1="166.70" x2="961.0" y2="166.70" stroke="#000" stroke-width="1.5"/>
<text x="941" y="174.3" font-family="'Liberation Serif','Times New Roman',serif" font-size="22" text-anchor="end" fill="#000">10</text>
<line x1="954.5" y1="147.50" x2="961.0" y2="147.50" stroke="#000" stroke-width="1.5"/>
<line x1="954.5" y1="128.30" x2="961.0" y2="128.30" stroke="#000" stroke-width="1.5"/>
<line x1="954.5" y1="109.10" x2="961.0" y2="109.10" stroke="#000" stroke-width="1.5"/>
<line x1="954.5" y1="89.90" x2="961.0" y2="89.90" stroke="#000" stroke-width="1.5"/>
<line x1="950.0" y1="70.70" x2="961.0" y2="70.70" stroke="#000" stroke-width="1.5"/>
<text x="941" y="78.3" font-family="'Liberation Serif','Times New Roman',serif" font-size="22" text-anchor="end" fill="#000">15</text>
<line x1="961.00" y1="646.7" x2="961.00" y2="658.1" stroke="#000" stroke-width="1.5"/>
<text x="961.0" y="684.5" font-family="'Liberation Serif','Times New Roman',serif" font-size="22" text-anchor="middle" fill="#000">-12</text>
<line x1="988.25" y1="646.7" x2="988.25" y2="653.0" stroke="#000" stroke-width="1.5"/>
<line x1="1015.50" y1="646.7" x2="1015.50" y2="658.1" stroke="#000" stroke-width="1.5"/>
<text x="1015.5" y="684.5" font-family="'Liberation Serif','Times New Roman',serif" font-size="22" text-anchor="middle" fill="#000">-10</text>
<line x1="1042.75" y1="646.7" x2="1042.75" y2="653.0" stroke="#000" stroke-width="1.5"/>
<line x1="1070.00" y1="646.7" x2="1070.00" y2="658.1" stroke="#000" stroke-width="1.5"/>
<text x="1070.0" y="684.5" font-family="'Liberation Serif','Times New Roman',serif" font-size="22" text-anchor="middle" fill="#000">-8</text>
<line x1="1097.25" y1="646.7" x2="1097.25" y2="653.0" stroke="#000" stroke-width="1.5"/>
<line x1="1124.50" y1="646.7" x2="1124.50" y2="658.1" stroke="#000" stroke-width="1.5"/>
<text x="1124.5" y="684.5" font-family="'Liberation Serif','Times New Roman',serif" font-size="22" text-anchor="middle" fill="#000">-6</text>
<line x1="1151.75" y1="646.7" x2="1151.75" y2="653.0" stroke="#000" stroke-width="1.5"/>
<line x1="1179.00" y1="646.7" x2="1179.00" y2="658.1" stroke="#000" stroke-width="1.5"/>
<text x="1179.0" y="684.5" font-family="'Liberation Serif','Times New Roman',serif" font-size="22" text-anchor="middle" fill="#000">-4</text>
<line x1="1206.25" y1="646.7" x2="1206.25" y2="653.0" stroke="#000" stroke-width="1.5"/>
<line x1="1233.50" y1="646.7" x2="1233.50" y2="658.1" stroke="#000" stroke-width="1.5"/>
<text x="1233.5" y="684.5" font-family="'Liberation Serif','Times New Roman',serif" font-size="22" text-anchor="middle" fill="#000">-2</text>
<line x1="1260.75" y1="646.7" x2="1260.75" y2="653.0" stroke="#000" stroke-width="1.5"/>
<line x1="1288.00" y1="646.7" x2="1288.00" y2="658.1" stroke="#000" stroke-width="1.5"/>
<text x="1288.0" y="684.5" font-family="'Liberation Serif','Times New Roman',serif" font-size="22" text-anchor="middle" fill="#000">0</text>
<line x1="1315.25" y1="646.7" x2="1315.25" y2="653.0" stroke="#000" stroke-width="1.5"/>
<line x1="1342.50" y1="646.7" x2="1342.50" y2="658.1" stroke="#000" stroke-width="1.5"/>
<text x="1342.5" y="684.5" font-family="'Liberation Serif','Times New Roman',serif" font-size="22" text-anchor="middle" fill="#000">2</text>
<line x1="1369.75" y1="646.7" x2="1369.75" y2="653.0" stroke="#000" stroke-width="1.5"/>
<line x1="1397.00" y1="646.7" x2="1397.00" y2="658.1" stroke="#000" stroke-width="1.5"/>
<text x="1397.0" y="684.5" font-family="'Liberation Serif','Times New Roman',serif" font-size="22" text-anchor="middle" fill="#000">4</text>
<line x1="1424.25" y1="646.7" x2="1424.25" y2="653.0" stroke="#000" stroke-width="1.5"/>
<line x1="1451.50" y1="646.7" x2="1451.50" y2="658.1" stroke="#000" stroke-width="1.5"/>
<text x="1451.5" y="684.5" font-family="'Liberation Serif','Times New Roman',serif" font-size="22" text-anchor="middle" fill="#000">6</text>
<line x1="1478.75" y1="646.7" x2="1478.75" y2="653.0" stroke="#000" stroke-width="1.5"/>
<line x1="1506.00" y1="646.7" x2="1506.00" y2="658.1" stroke="#000" stroke-width="1.5"/>
<text x="1506.0" y="684.5" font-family="'Liberation Serif','Times New Roman',serif" font-size="22" text-anchor="middle" fill="#000">8</text>
<line x1="1533.25" y1="646.7" x2="1533.25" y2="653.0" stroke="#000" stroke-width="1.5"/>
<line x1="1560.50" y1="646.7" x2="1560.50" y2="658.1" stroke="#000" stroke-width="1.5"/>
<text x="1560.5" y="684.5" font-family="'Liberation Serif','Times New Roman',serif" font-size="22" text-anchor="middle" fill="#000">10</text>
<text x="1217" y="731" font-family="'Liberation Serif','Times New Roman',serif" font-size="28" fill="#000"><tspan font-style="italic">V</tspan><tspan font-style="italic" font-size="19" dy="10">PG</tspan><tspan dy="-10"> (V)</tspan></text>
<text transform="translate(900.5,404) rotate(-90)" font-family="'Liberation Serif','Times New Roman',serif" font-size="28" fill="#000"><tspan font-style="italic">V</tspan><tspan font-style="italic" font-size="19" dy="10">CG</tspan><tspan dy="-10"> (V)</tspan></text>
<text x="917" y="27.5" font-family="'Liberation Serif','Times New Roman',serif" font-size="36" font-weight="bold" fill="#000">b</text>
<text x="1149.5" y="139" font-family="'Liberation Serif','Times New Roman',serif" font-size="46.5" font-weight="bold" fill="#fff">&#8216;1 0&#8217;</text>
<text x="1438.5" y="137.8" font-family="'Liberation Serif','Times New Roman',serif" font-size="46.5" font-weight="bold" fill="#000">&#8216;1 1&#8217;</text>
<text x="1272.5" y="603.4" font-family="'Liberation Serif','Times New Roman',serif" font-size="46.5" font-weight="bold" fill="#fff">&#8216;0 1&#8217;</text>
<text x="985.5" y="603.3" font-family="'Liberation Serif','Times New Roman',serif" font-size="46.5" font-weight="bold" fill="#000">&#8216;0 0&#8217;</text>
<text x="1470" y="364.7" font-family="'Liberation Serif','Times New Roman',serif" font-size="18" font-weight="bold" text-anchor="middle" fill="#000">Truth Table</text>
<line x1="1434.6" y1="389.8" x2="1434.6" y2="638.5" stroke="#000" stroke-width="1.4"/>
<line x1="1478.9" y1="389.8" x2="1478.9" y2="638.5" stroke="#000" stroke-width="1.4"/>
<line x1="1390.2" y1="414" x2="1549.6" y2="414" stroke="#000" stroke-width="1.4"/>
<line x1="1390.2" y1="639.7" x2="1549.6" y2="639.7" stroke="#000" stroke-width="1.4"/>
<line x1="1390.2" y1="473.3" x2="1549.6" y2="473.3" stroke="#000" stroke-width="1.1" stroke-dasharray="2,1.6"/>
<line x1="1390.2" y1="528.2" x2="1549.6" y2="528.2" stroke="#000" stroke-width="1.1" stroke-dasharray="2,1.6"/>
<line x1="1390.2" y1="582.8" x2="1549.6" y2="582.8" stroke="#000" stroke-width="1.1" stroke-dasharray="2,1.6"/>
<text x="1398.3" y="404.1" font-family="'Liberation Serif','Times New Roman',serif" font-size="18.5" fill="#000">V<tspan font-size="12.7" dy="4.8">PG</tspan></text>
<text x="1444" y="404.1" font-family="'Liberation Serif','Times New Roman',serif" font-size="18.5" fill="#000">V<tspan font-size="12.7" dy="4.8">CG</tspan></text>
<text x="1504.8" y="404.1" font-family="'Liberation Serif','Times New Roman',serif" font-size="18.5" fill="#000">I<tspan font-size="12.7" dy="4.8">DS</tspan></text>
<text x="1413.3" y="434.5" font-family="'Liberation Serif','Times New Roman',serif" font-size="18" text-anchor="middle" fill="#000">&#8216;0&#8217;</text>
<text x="1457.8" y="434.5" font-family="'Liberation Serif','Times New Roman',serif" font-size="18" text-anchor="middle" fill="#000">&#8216;0&#8217;</text>
<text x="1512" y="434.5" font-family="'Liberation Serif','Times New Roman',serif" font-size="18" text-anchor="middle" fill="#000">&#8216;1&#8217;</text>
<text x="1516" y="461.8" font-family="'Liberation Serif','Times New Roman',serif" font-size="19" text-anchor="middle" fill="#000"><tspan font-style="italic">p</tspan>-type</text>
<text x="1413.3" y="488.3" font-family="'Liberation Serif','Times New Roman',serif" font-size="18" text-anchor="middle" fill="#000">&#8216;0&#8217;</text>
<text x="1457.8" y="488.3" font-family="'Liberation Serif','Times New Roman',serif" font-size="18" text-anchor="middle" fill="#000">&#8216;1&#8217;</text>
<text x="1512" y="488.3" font-family="'Liberation Serif','Times New Roman',serif" font-size="18" text-anchor="middle" fill="#000">&#8216;0&#8217;</text>
<text x="1514" y="516.8" font-family="'Liberation Serif','Times New Roman',serif" font-size="19" text-anchor="middle" fill="#000">OFF</text>
<text x="1413.3" y="544.3" font-family="'Liberation Serif','Times New Roman',serif" font-size="18" text-anchor="middle" fill="#000">&#8216;1&#8217;</text>
<text x="1457.8" y="544.3" font-family="'Liberation Serif','Times New Roman',serif" font-size="18" text-anchor="middle" fill="#000">&#8216;0&#8217;</text>
<text x="1512" y="544.3" font-family="'Liberation Serif','Times New Roman',serif" font-size="18" text-anchor="middle" fill="#000">&#8216;0&#8217;</text>
<text x="1514" y="572.3" font-family="'Liberation Serif','Times New Roman',serif" font-size="19" text-anchor="middle" fill="#000">OFF</text>
<text x="1413.3" y="597.9" font-family="'Liberation Serif','Times New Roman',serif" font-size="18" text-anchor="middle" fill="#000">&#8216;1&#8217;</text>
<text x="1457.8" y="597.9" font-family="'Liberation Serif','Times New Roman',serif" font-size="18" text-anchor="middle" fill="#000">&#8216;1&#8217;</text>
<text x="1512" y="597.9" font-family="'Liberation Serif','Times New Roman',serif" font-size="18" text-anchor="middle" fill="#000">&#8216;1&#8217;</text>
<text x="1516" y="627.8" font-family="'Liberation Serif','Times New Roman',serif" font-size="19" text-anchor="middle" fill="#000"><tspan font-style="italic">n</tspan>-type</text>
<defs><clipPath id="cpa"><rect x="132.0" y="77.0" width="705.0" height="567.3"/></clipPath></defs>
<g clip-path="url(#cpa)"><rect x="130.2" y="569.7" width="3.6" height="3.6" fill="#c4c4c4"/>
<rect x="130.2" y="579.5" width="3.6" height="3.6" fill="#c4c4c4"/>
<rect x="130.2" y="576.1" width="3.6" height="3.6" fill="#c4c4c4"/>
<rect x="130.2" y="561.7" width="3.6" height="3.6" fill="#c4c4c4"/>
<rect x="130.2" y="561.1" width="3.6" height="3.6" fill="#c4c4c4"/>
<rect x="130.2" y="562.1" width="3.6" height="3.6" fill="#c4c4c4"/>
<rect x="130.3" y="562.4" width="3.4" height="24.5" fill="#c4c4c4"/>
<rect x="130.3" y="604.4" width="3.4" height="3.4" fill="#c4c4c4"/>
<rect x="130.3" y="611.6" width="3.4" height="3.4" fill="#c4c4c4"/>
<rect x="136.6" y="568.7" width="3.6" height="3.6" fill="#c4c4c4"/>
<rect x="136.6" y="563.5" width="3.6" height="3.6" fill="#c4c4c4"/>
<rect x="136.6" y="584.5" width="3.6" height="3.6" fill="#c4c4c4"/>
<rect x="136.6" y="571.2" width="3.6" height="3.6" fill="#c4c4c4"/>
<rect x="136.6" y="561.9" width="3.6" height="3.6" fill="#c4c4c4"/>
<rect x="136.7" y="565.7" width="3.4" height="22.4" fill="#c4c4c4"/>
<rect x="136.7" y="606.6" width="3.4" height="3.4" fill="#c4c4c4"/>
<rect x="143.0" y="581.9" width="3.6" height="3.6" fill="#c4c4c4"/>
<rect x="143.0" y="589.4" width="3.6" height="3.6" fill="#c4c4c4"/>
<rect x="143.0" y="564.6" width="3.6" height="3.6" fill="#c4c4c4"/>
<rect x="143.0" y="582.9" width="3.6" height="3.6" fill="#c4c4c4"/>
<rect x="143.1" y="570.6" width="3.4" height="17.4" fill="#c4c4c4"/>
<rect x="149.4" y="579.9" width="3.6" height="3.6" fill="#c4c4c4"/>
<rect x="149.4" y="568.5" width="3.6" height="3.6" fill="#c4c4c4"/>
<rect x="149.4" y="580.1" width="3.6" height="3.6" fill="#c4c4c4"/>
<rect x="149.4" y="573.9" width="3.6" height="3.6" fill="#c4c4c4"/>
<rect x="149.4" y="563.5" width="3.6" height="3.6" fill="#c4c4c4"/>
<rect x="149.5" y="569.5" width="3.4" height="16.2" fill="#c4c4c4"/>
<rect x="149.5" y="598.5" width="3.4" height="3.4" fill="#c4c4c4"/>
<rect x="149.5" y="609.7" width="3.4" height="3.4" fill="#c4c4c4"/>
<rect x="155.8" y="568.4" width="3.6" height="3.6" fill="#c4c4c4"/>
<rect x="155.8" y="588.7" width="3.6" height="3.6" fill="#c4c4c4"/>
<rect x="155.8" y="565.3" width="3.6" height="3.6" fill="#c4c4c4"/>
<rect x="155.8" y="567.0" width="3.6" height="3.6" fill="#c4c4c4"/>
<rect x="155.8" y="577.7" width="3.6" height="3.6" fill="#c4c4c4"/>
<rect x="155.9" y="561.0" width="3.4" height="28.4" fill="#c4c4c4"/>
<rect x="162.2" y="583.9" width="3.6" height="3.6" fill="#c4c4c4"/>
<rect x="162.2" y="572.0" width="3.6" height="3.6" fill="#c4c4c4"/>
<rect x="162.2" y="579.0" width="3.6" height="3.6" fill="#c4c4c4"/>
<rect x="162.2" y="562.0" width="3.6" height="3.6" fill="#c4c4c4"/>
<rect x="162.2" y="564.9" width="3.6" height="3.6" fill="#c4c4c4"/>
<rect x="162.3" y="561.6" width="3.4" height="22.4" fill="#c4c4c4"/>
<rect x="162.3" y="596.7" width="3.4" height="3.4" fill="#c4c4c4"/>
<rect x="162.3" y="600.5" width="3.4" height="3.4" fill="#c4c4c4"/>
<rect x="162.3" y="599.3" width="3.4" height="3.4" fill="#c4c4c4"/>
<rect x="168.7" y="570.4" width="3.6" height="3.6" fill="#c4c4c4"/>
<rect x="168.7" y="589.8" width="3.6" height="3.6" fill="#c4c4c4"/>
<rect x="168.7" y="574.5" width="3.6" height="3.6" fill="#c4c4c4"/>
<rect x="168.7" y="563.1" width="3.6" height="3.6" fill="#c4c4c4"/>
<rect x="168.7" y="564.8" width="3.6" height="3.6" fill="#c4c4c4"/>
<rect x="168.8" y="571.5" width="3.4" height="19.4" fill="#c4c4c4"/>
<rect x="175.1" y="567.8" width="3.6" height="3.6" fill="#c4c4c4"/>
<rect x="175.1" y="569.9" width="3.6" height="3.6" fill="#c4c4c4"/>
<rect x="175.2" y="563.5" width="3.4" height="27.2" fill="#c4c4c4"/>
<rect x="175.2" y="600.4" width="3.4" height="3.4" fill="#c4c4c4"/>
<rect x="175.2" y="594.5" width="3.4" height="3.4" fill="#c4c4c4"/>
<rect x="181.5" y="570.9" width="3.6" height="3.6" fill="#c4c4c4"/>
<rect x="181.5" y="566.8" width="3.6" height="3.6" fill="#c4c4c4"/>
<rect x="181.6" y="569.8" width="3.4" height="15.3" fill="#c4c4c4"/>
<rect x="181.6" y="602.6" width="3.4" height="3.4" fill="#c4c4c4"/>
<rect x="187.9" y="589.1" width="3.6" height="3.6" fill="#c4c4c4"/>
<rect x="187.9" y="581.7" width="3.6" height="3.6" fill="#c4c4c4"/>
<rect x="187.9" y="563.8" width="3.6" height="3.6" fill="#c4c4c4"/>
<rect x="188.0" y="571.8" width="3.4" height="20.8" fill="#c4c4c4"/>
<rect x="188.0" y="596.4" width="3.4" height="3.4" fill="#c4c4c4"/>
<rect x="194.3" y="588.0" width="3.6" height="3.6" fill="#c4c4c4"/>
<rect x="194.3" y="566.3" width="3.6" height="3.6" fill="#c4c4c4"/>
<rect x="194.3" y="568.8" width="3.6" height="3.6" fill="#c4c4c4"/>
<rect x="194.3" y="577.6" width="3.6" height="3.6" fill="#c4c4c4"/>
<rect x="194.3" y="572.6" width="3.6" height="3.6" fill="#c4c4c4"/>
<rect x="194.3" y="587.3" width="3.6" height="3.6" fill="#c4c4c4"/>
<rect x="194.4" y="566.0" width="3.4" height="25.5" fill="#c4c4c4"/>
<rect x="194.4" y="610.3" width="3.4" height="3.4" fill="#c4c4c4"/>
<rect x="194.4" y="602.5" width="3.4" height="3.4" fill="#c4c4c4"/>
<rect x="200.7" y="565.5" width="3.6" height="3.6" fill="#c4c4c4"/>
<rect x="200.7" y="584.0" width="3.6" height="3.6" fill="#c4c4c4"/>
<rect x="200.7" y="576.7" width="3.6" height="3.6" fill="#c4c4c4"/>
<rect x="200.7" y="575.6" width="3.6" height="3.6" fill="#c4c4c4"/>
<rect x="200.7" y="583.5" width="3.6" height="3.6" fill="#c4c4c4"/>
<rect x="200.7" y="576.8" width="3.6" height="3.6" fill="#c4c4c4"/>
<rect x="200.8" y="564.0" width="3.4" height="30.0" fill="#c4c4c4"/>
<rect x="207.1" y="573.6" width="3.6" height="3.6" fill="#c4c4c4"/>
<rect x="207.1" y="588.3" width="3.6" height="3.6" fill="#c4c4c4"/>
<rect x="207.1" y="585.2" width="3.6" height="3.6" fill="#c4c4c4"/>
<rect x="207.2" y="562.3" width="3.4" height="27.4" fill="#c4c4c4"/>
<rect x="207.2" y="595.3" width="3.4" height="3.4" fill="#c4c4c4"/>
<rect x="207.2" y="607.2" width="3.4" height="3.4" fill="#c4c4c4"/>
<rect x="213.5" y="579.8" width="3.6" height="3.6" fill="#c4c4c4"/>
<rect x="213.5" y="571.9" width="3.6" height="3.6" fill="#c4c4c4"/>
<rect x="213.5" y="564.8" width="3.6" height="3.6" fill="#c4c4c4"/>
<rect x="213.5" y="575.5" width="3.6" height="3.6" fill="#c4c4c4"/>
<rect x="213.6" y="563.2" width="3.4" height="25.0" fill="#c4c4c4"/>
<rect x="213.6" y="607.0" width="3.4" height="3.4" fill="#c4c4c4"/>
<rect x="213.6" y="604.0" width="3.4" height="3.4" fill="#c4c4c4"/>
<rect x="213.6" y="594.3" width="3.4" height="3.4" fill="#c4c4c4"/>
<rect x="219.9" y="575.4" width="3.6" height="3.6" fill="#c4c4c4"/>
<rect x="219.9" y="589.2" width="3.6" height="3.6" fill="#c4c4c4"/>
<rect x="219.9" y="568.0" width="3.6" height="3.6" fill="#c4c4c4"/>
<rect x="219.9" y="583.4" width="3.6" height="3.6" fill="#c4c4c4"/>
<rect x="219.9" y="563.9" width="3.6" height="3.6" fill="#c4c4c4"/>
<rect x="220.0" y="563.8" width="3.4" height="22.1" fill="#c4c4c4"/>
<rect x="220.0" y="606.6" width="3.4" height="3.4" fill="#c4c4c4"/>
<rect x="226.3" y="573.6" width="3.6" height="3.6" fill="#c4c4c4"/>
<rect x="226.3" y="568.0" width="3.6" height="3.6" fill="#c4c4c4"/>
<rect x="226.4" y="566.8" width="3.4" height="20.3" fill="#c4c4c4"/>
<rect x="226.4" y="596.0" width="3.4" height="3.4" fill="#c4c4c4"/>
<rect x="226.4" y="594.9" width="3.4" height="3.4" fill="#c4c4c4"/>
<rect x="226.4" y="599.6" width="3.4" height="3.4" fill="#c4c4c4"/>
<rect x="232.7" y="568.7" width="3.6" height="3.6" fill="#c4c4c4"/>
<rect x="232.7" y="565.3" width="3.6" height="3.6" fill="#c4c4c4"/>
<rect x="232.7" y="560.5" width="3.6" height="3.6" fill="#c4c4c4"/>
<rect x="232.7" y="576.5" width="3.6" height="3.6" fill="#c4c4c4"/>
<rect x="232.8" y="565.8" width="3.4" height="24.7" fill="#c4c4c4"/>
<rect x="232.8" y="609.0" width="3.4" height="3.4" fill="#c4c4c4"/>
<rect x="232.8" y="611.7" width="3.4" height="3.4" fill="#c4c4c4"/>
<rect x="239.2" y="572.1" width="3.6" height="3.6" fill="#c4c4c4"/>
<rect x="239.2" y="561.6" width="3.6" height="3.6" fill="#c4c4c4"/>
<rect x="239.2" y="567.7" width="3.6" height="3.6" fill="#c4c4c4"/>
<rect x="239.3" y="564.1" width="3.4" height="23.0" fill="#c4c4c4"/>
<rect x="239.3" y="596.8" width="3.4" height="3.4" fill="#c4c4c4"/>
<rect x="245.6" y="576.4" width="3.6" height="3.6" fill="#c4c4c4"/>
<rect x="245.6" y="589.0" width="3.6" height="3.6" fill="#c4c4c4"/>
<rect x="245.6" y="570.7" width="3.6" height="3.6" fill="#c4c4c4"/>
<rect x="245.6" y="571.4" width="3.6" height="3.6" fill="#c4c4c4"/>
<rect x="245.6" y="575.1" width="3.6" height="3.6" fill="#c4c4c4"/>
<rect x="245.6" y="575.1" width="3.6" height="3.6" fill="#c4c4c4"/>
<rect x="245.6" y="567.9" width="3.6" height="3.6" fill="#c4c4c4"/>
<rect x="245.7" y="565.4" width="3.4" height="19.1" fill="#c4c4c4"/>
<rect x="245.7" y="594.4" width="3.4" height="3.4" fill="#c4c4c4"/>
<rect x="252.0" y="571.7" width="3.6" height="3.6" fill="#c4c4c4"/>
<rect x="252.0" y="589.5" width="3.6" height="3.6" fill="#c4c4c4"/>
<rect x="252.1" y="562.5" width="3.4" height="28.3" fill="#c4c4c4"/>
<rect x="258.4" y="580.8" width="3.6" height="3.6" fill="#c4c4c4"/>
<rect x="258.4" y="560.9" width="3.6" height="3.6" fill="#c4c4c4"/>
<rect x="258.4" y="570.8" width="3.6" height="3.6" fill="#c4c4c4"/>
<rect x="258.4" y="585.1" width="3.6" height="3.6" fill="#c4c4c4"/>
<rect x="258.4" y="580.4" width="3.6" height="3.6" fill="#c4c4c4"/>
<rect x="258.5" y="569.2" width="3.4" height="21.3" fill="#c4c4c4"/>
<rect x="258.5" y="598.5" width="3.4" height="3.4" fill="#c4c4c4"/>
<rect x="264.8" y="581.9" width="3.6" height="3.6" fill="#c4c4c4"/>
<rect x="264.8" y="574.8" width="3.6" height="3.6" fill="#c4c4c4"/>
<rect x="264.8" y="579.3" width="3.6" height="3.6" fill="#c4c4c4"/>
<rect x="264.8" y="564.4" width="3.6" height="3.6" fill="#c4c4c4"/>
<rect x="264.9" y="569.2" width="3.4" height="18.8" fill="#c4c4c4"/>
<rect x="264.9" y="604.2" width="3.4" height="3.4" fill="#c4c4c4"/>
<rect x="264.9" y="595.1" width="3.4" height="3.4" fill="#c4c4c4"/>
<rect x="271.2" y="568.7" width="3.6" height="3.6" fill="#c4c4c4"/>
<rect x="271.2" y="573.9" width="3.6" height="3.6" fill="#c4c4c4"/>
<rect x="271.2" y="588.1" width="3.6" height="3.6" fill="#c4c4c4"/>
<rect x="271.2" y="589.0" width="3.6" height="3.6" fill="#c4c4c4"/>
<rect x="271.3" y="564.0" width="3.4" height="22.8" fill="#c4c4c4"/>
<rect x="271.3" y="611.0" width="3.4" height="3.4" fill="#c4c4c4"/>
<rect x="271.3" y="604.5" width="3.4" height="3.4" fill="#c4c4c4"/>
<rect x="271.3" y="608.9" width="3.4" height="3.4" fill="#c4c4c4"/>
<rect x="277.6" y="581.1" width="3.6" height="3.6" fill="#c4c4c4"/>
<rect x="277.6" y="586.9" width="3.6" height="3.6" fill="#c4c4c4"/>
<rect x="277.6" y="560.7" width="3.6" height="3.6" fill="#c4c4c4"/>
<rect x="277.6" y="574.8" width="3.6" height="3.6" fill="#c4c4c4"/>
<rect x="277.6" y="569.1" width="3.6" height="3.6" fill="#c4c4c4"/>
<rect x="277.6" y="570.3" width="3.6" height="3.6" fill="#c4c4c4"/>
<rect x="277.7" y="570.2" width="3.4" height="13.8" fill="#c4c4c4"/>
<rect x="284.0" y="571.2" width="3.6" height="3.6" fill="#c4c4c4"/>
<rect x="284.0" y="590.0" width="3.6" height="3.6" fill="#c4c4c4"/>
<rect x="284.0" y="570.8" width="3.6" height="3.6" fill="#c4c4c4"/>
<rect x="284.0" y="568.3" width="3.6" height="3.6" fill="#c4c4c4"/>
<rect x="284.0" y="567.5" width="3.6" height="3.6" fill="#c4c4c4"/>
<rect x="284.1" y="566.6" width="3.4" height="19.8" fill="#c4c4c4"/>
<rect x="290.4" y="579.3" width="3.6" height="3.6" fill="#c4c4c4"/>
<rect x="290.4" y="563.8" width="3.6" height="3.6" fill="#c4c4c4"/>
<rect x="290.4" y="570.3" width="3.6" height="3.6" fill="#c4c4c4"/>
<rect x="290.5" y="569.1" width="3.4" height="27.6" fill="#c4c4c4"/>
<rect x="290.5" y="601.1" width="3.4" height="3.4" fill="#c4c4c4"/>
<rect x="290.5" y="598.5" width="3.4" height="3.4" fill="#c4c4c4"/>
<rect x="296.8" y="587.2" width="3.6" height="3.6" fill="#c4c4c4"/>
<rect x="296.8" y="589.9" width="3.6" height="3.6" fill="#c4c4c4"/>
<rect x="296.8" y="564.2" width="3.6" height="3.6" fill="#c4c4c4"/>
<rect x="296.8" y="562.7" width="3.6" height="3.6" fill="#c4c4c4"/>
<rect x="296.8" y="562.7" width="3.6" height="3.6" fill="#c4c4c4"/>
<rect x="296.8" y="567.8" width="3.6" height="3.6" fill="#c4c4c4"/>
<rect x="296.9" y="570.8" width="3.4" height="23.0" fill="#c4c4c4"/>
<rect x="296.9" y="601.4" width="3.4" height="3.4" fill="#c4c4c4"/>
<rect x="296.9" y="603.4" width="3.4" height="3.4" fill="#c4c4c4"/>
<rect x="296.9" y="600.1" width="3.4" height="3.4" fill="#c4c4c4"/>
<rect x="303.2" y="589.0" width="3.6" height="3.6" fill="#c4c4c4"/>
<rect x="303.2" y="585.9" width="3.6" height="3.6" fill="#c4c4c4"/>
<rect x="303.2" y="568.1" width="3.6" height="3.6" fill="#c4c4c4"/>
<rect x="303.2" y="572.0" width="3.6" height="3.6" fill="#c4c4c4"/>
<rect x="303.2" y="586.2" width="3.6" height="3.6" fill="#c4c4c4"/>
<rect x="303.3" y="561.4" width="3.4" height="31.9" fill="#c4c4c4"/>
<rect x="303.3" y="604.6" width="3.4" height="3.4" fill="#c4c4c4"/>
<rect x="309.7" y="567.5" width="3.6" height="3.6" fill="#c4c4c4"/>
<rect x="309.7" y="564.6" width="3.6" height="3.6" fill="#c4c4c4"/>
<rect x="309.7" y="582.9" width="3.6" height="3.6" fill="#c4c4c4"/>
<rect x="309.7" y="576.5" width="3.6" height="3.6" fill="#c4c4c4"/>
<rect x="309.8" y="569.6" width="3.4" height="17.4" fill="#c4c4c4"/>
<rect x="309.8" y="599.5" width="3.4" height="3.4" fill="#c4c4c4"/>
<rect x="316.1" y="563.4" width="3.6" height="3.6" fill="#c4c4c4"/>
<rect x="316.1" y="575.7" width="3.6" height="3.6" fill="#c4c4c4"/>
<rect x="316.1" y="571.6" width="3.6" height="3.6" fill="#c4c4c4"/>
<rect x="316.1" y="578.0" width="3.6" height="3.6" fill="#c4c4c4"/>
<rect x="316.1" y="569.0" width="3.6" height="3.6" fill="#c4c4c4"/>
<rect x="316.1" y="586.5" width="3.6" height="3.6" fill="#c4c4c4"/>
<rect x="316.2" y="563.6" width="3.4" height="23.6" fill="#c4c4c4"/>
<rect x="316.2" y="599.5" width="3.4" height="3.4" fill="#c4c4c4"/>
<rect x="322.5" y="587.8" width="3.6" height="3.6" fill="#c4c4c4"/>
<rect x="322.5" y="561.0" width="3.6" height="3.6" fill="#c4c4c4"/>
<rect x="322.5" y="582.2" width="3.6" height="3.6" fill="#c4c4c4"/>
<rect x="322.6" y="564.4" width="3.4" height="30.2" fill="#c4c4c4"/>
<rect x="322.6" y="598.2" width="3.4" height="3.4" fill="#c4c4c4"/>
<rect x="322.6" y="607.7" width="3.4" height="3.4" fill="#c4c4c4"/>
<rect x="322.6" y="598.8" width="3.4" height="3.4" fill="#c4c4c4"/>
<rect x="328.9" y="588.5" width="3.6" height="3.6" fill="#c4c4c4"/>
<rect x="328.9" y="571.8" width="3.6" height="3.6" fill="#c4c4c4"/>
<rect x="328.9" y="589.2" width="3.6" height="3.6" fill="#c4c4c4"/>
<rect x="328.9" y="561.6" width="3.6" height="3.6" fill="#c4c4c4"/>
<rect x="329.0" y="572.0" width="3.4" height="24.1" fill="#c4c4c4"/>
<rect x="329.0" y="599.9" width="3.4" height="3.4" fill="#c4c4c4"/>
<rect x="335.3" y="571.2" width="3.6" height="3.6" fill="#c4c4c4"/>
<rect x="335.3" y="565.1" width="3.6" height="3.6" fill="#c4c4c4"/>
<rect x="335.3" y="568.4" width="3.6" height="3.6" fill="#c4c4c4"/>
<rect x="335.3" y="588.7" width="3.6" height="3.6" fill="#c4c4c4"/>
<rect x="335.3" y="588.9" width="3.6" height="3.6" fill="#c4c4c4"/>
<rect x="335.3" y="584.7" width="3.6" height="3.6" fill="#c4c4c4"/>
<rect x="335.4" y="561.5" width="3.4" height="28.6" fill="#c4c4c4"/>
<rect x="335.4" y="597.5" width="3.4" height="3.4" fill="#c4c4c4"/>
<rect x="335.4" y="610.1" width="3.4" height="3.4" fill="#c4c4c4"/>
<rect x="341.7" y="561.2" width="3.6" height="3.6" fill="#c4c4c4"/>
<rect x="341.7" y="587.0" width="3.6" height="3.6" fill="#c4c4c4"/>
<rect x="341.7" y="578.5" width="3.6" height="3.6" fill="#c4c4c4"/>
<rect x="341.8" y="568.9" width="3.4" height="19.2" fill="#c4c4c4"/>
<rect x="341.8" y="599.0" width="3.4" height="3.4" fill="#c4c4c4"/>
<rect x="341.8" y="599.0" width="3.4" height="3.4" fill="#c4c4c4"/>
<rect x="348.1" y="588.6" width="3.6" height="3.6" fill="#c4c4c4"/>
<rect x="348.1" y="567.5" width="3.6" height="3.6" fill="#c4c4c4"/>
<rect x="348.2" y="564.6" width="3.4" height="23.5" fill="#c4c4c4"/>
<rect x="348.2" y="595.4" width="3.4" height="3.4" fill="#c4c4c4"/>
<rect x="348.2" y="607.6" width="3.4" height="3.4" fill="#c4c4c4"/>
<rect x="348.2" y="595.6" width="3.4" height="3.4" fill="#c4c4c4"/>
<rect x="354.5" y="576.6" width="3.6" height="3.6" fill="#c4c4c4"/>
<rect x="354.5" y="589.6" width="3.6" height="3.6" fill="#c4c4c4"/>
<rect x="354.5" y="562.5" width="3.6" height="3.6" fill="#c4c4c4"/>
<rect x="354.5" y="573.4" width="3.6" height="3.6" fill="#c4c4c4"/>
<rect x="354.6" y="568.4" width="3.4" height="21.1" fill="#c4c4c4"/>
<rect x="354.6" y="593.7" width="3.4" height="30.9" fill="#c4c4c4"/>
<rect x="354.6" y="624.0" width="3.4" height="3.4" fill="#c4c4c4"/>
<rect x="354.6" y="624.9" width="3.4" height="3.4" fill="#c4c4c4"/>
<rect x="360.9" y="569.8" width="3.6" height="3.6" fill="#c4c4c4"/>
<rect x="360.9" y="589.8" width="3.6" height="3.6" fill="#c4c4c4"/>
<rect x="360.9" y="563.1" width="3.6" height="3.6" fill="#c4c4c4"/>
<rect x="360.9" y="587.4" width="3.6" height="3.6" fill="#c4c4c4"/>
<rect x="361.0" y="564.2" width="3.4" height="19.0" fill="#c4c4c4"/>
<rect x="361.0" y="594.5" width="3.4" height="23.9" fill="#c4c4c4"/>
<rect x="361.0" y="632.4" width="3.4" height="3.4" fill="#c4c4c4"/>
<rect x="367.3" y="571.1" width="3.6" height="3.6" fill="#c4c4c4"/>
<rect x="367.3" y="566.1" width="3.6" height="3.6" fill="#c4c4c4"/>
<rect x="367.3" y="566.1" width="3.6" height="3.6" fill="#c4c4c4"/>
<rect x="367.3" y="565.6" width="3.6" height="3.6" fill="#c4c4c4"/>
<rect x="367.4" y="567.0" width="3.4" height="15.6" fill="#c4c4c4"/>
<rect x="367.4" y="595.8" width="3.4" height="3.4" fill="#c4c4c4"/>
<rect x="367.4" y="595.6" width="3.4" height="3.4" fill="#c4c4c4"/>
<rect x="367.4" y="597.0" width="3.4" height="23.4" fill="#c4c4c4"/>
<rect x="367.4" y="625.7" width="3.4" height="3.4" fill="#c4c4c4"/>
<rect x="367.4" y="639.1" width="3.4" height="3.4" fill="#c4c4c4"/>
<rect x="367.4" y="631.3" width="3.4" height="3.4" fill="#c4c4c4"/>
<rect x="373.7" y="589.9" width="3.6" height="3.6" fill="#c4c4c4"/>
<rect x="373.7" y="566.1" width="3.6" height="3.6" fill="#c4c4c4"/>
<rect x="373.7" y="587.0" width="3.6" height="3.6" fill="#c4c4c4"/>
<rect x="373.7" y="584.6" width="3.6" height="3.6" fill="#c4c4c4"/>
<rect x="373.7" y="586.5" width="3.6" height="3.6" fill="#c4c4c4"/>
<rect x="373.8" y="562.8" width="3.4" height="19.4" fill="#c4c4c4"/>
<rect x="373.8" y="610.4" width="3.4" height="3.4" fill="#c4c4c4"/>
<rect x="373.8" y="605.2" width="3.4" height="3.4" fill="#c4c4c4"/>
<rect x="373.8" y="595.0" width="3.4" height="21.9" fill="#c4c4c4"/>
<rect x="373.8" y="625.7" width="3.4" height="3.4" fill="#c4c4c4"/>
<rect x="373.8" y="638.5" width="3.4" height="3.4" fill="#c4c4c4"/>
<rect x="380.2" y="589.0" width="3.6" height="3.6" fill="#c4c4c4"/>
<rect x="380.2" y="589.3" width="3.6" height="3.6" fill="#c4c4c4"/>
<rect x="380.3" y="563.4" width="3.4" height="22.6" fill="#c4c4c4"/>
<rect x="380.3" y="597.3" width="3.4" height="3.4" fill="#c4c4c4"/>
<rect x="380.3" y="593.8" width="3.4" height="22.8" fill="#c4c4c4"/>
<rect x="380.3" y="637.9" width="3.4" height="3.4" fill="#c4c4c4"/>
<rect x="386.6" y="563.5" width="3.6" height="3.6" fill="#c4c4c4"/>
<rect x="386.6" y="569.2" width="3.6" height="3.6" fill="#c4c4c4"/>
<rect x="386.6" y="577.5" width="3.6" height="3.6" fill="#c4c4c4"/>
<rect x="386.6" y="579.8" width="3.6" height="3.6" fill="#c4c4c4"/>
<rect x="386.6" y="573.2" width="3.6" height="3.6" fill="#c4c4c4"/>
<rect x="386.7" y="567.8" width="3.4" height="19.1" fill="#c4c4c4"/>
<rect x="386.7" y="591.1" width="3.4" height="25.6" fill="#c4c4c4"/>
<rect x="386.7" y="628.6" width="3.4" height="3.4" fill="#c4c4c4"/>
<rect x="386.7" y="628.8" width="3.4" height="3.4" fill="#c4c4c4"/>
<rect x="393.0" y="583.3" width="3.6" height="3.6" fill="#c4c4c4"/>
<rect x="393.0" y="561.6" width="3.6" height="3.6" fill="#c4c4c4"/>
<rect x="393.0" y="584.4" width="3.6" height="3.6" fill="#c4c4c4"/>
<rect x="393.1" y="571.8" width="3.4" height="15.1" fill="#c4c4c4"/>
<rect x="393.1" y="610.8" width="3.4" height="3.4" fill="#c4c4c4"/>
<rect x="393.1" y="593.5" width="3.4" height="31.3" fill="#c4c4c4"/>
<rect x="393.1" y="622.9" width="3.4" height="3.4" fill="#c4c4c4"/>
<rect x="399.4" y="587.6" width="3.6" height="3.6" fill="#c4c4c4"/>
<rect x="399.4" y="567.9" width="3.6" height="3.6" fill="#c4c4c4"/>
<rect x="399.4" y="569.6" width="3.6" height="3.6" fill="#c4c4c4"/>
<rect x="399.4" y="565.5" width="3.6" height="3.6" fill="#c4c4c4"/>
<rect x="399.4" y="586.9" width="3.6" height="3.6" fill="#c4c4c4"/>
<rect x="399.4" y="583.5" width="3.6" height="3.6" fill="#c4c4c4"/>
<rect x="399.5" y="566.8" width="3.4" height="21.5" fill="#c4c4c4"/>
<rect x="399.5" y="609.9" width="3.4" height="3.4" fill="#c4c4c4"/>
<rect x="399.5" y="599.9" width="3.4" height="23.3" fill="#c4c4c4"/>
<rect x="399.5" y="631.5" width="3.4" height="3.4" fill="#c4c4c4"/>
<rect x="405.8" y="582.9" width="3.6" height="3.6" fill="#c4c4c4"/>
<rect x="405.8" y="589.5" width="3.6" height="3.6" fill="#c4c4c4"/>
<rect x="405.8" y="579.9" width="3.6" height="3.6" fill="#c4c4c4"/>
<rect x="405.8" y="560.1" width="3.6" height="3.6" fill="#c4c4c4"/>
<rect x="405.9" y="562.6" width="3.4" height="25.5" fill="#c4c4c4"/>
<rect x="405.9" y="610.1" width="3.4" height="3.4" fill="#c4c4c4"/>
<rect x="405.9" y="590.2" width="3.4" height="24.8" fill="#c4c4c4"/>
<rect x="405.9" y="627.1" width="3.4" height="3.4" fill="#c4c4c4"/>
<rect x="405.9" y="627.1" width="3.4" height="3.4" fill="#c4c4c4"/>
<rect x="412.2" y="574.2" width="3.6" height="3.6" fill="#c4c4c4"/>
<rect x="412.2" y="588.1" width="3.6" height="3.6" fill="#c4c4c4"/>
<rect x="412.2" y="564.5" width="3.6" height="3.6" fill="#c4c4c4"/>
<rect x="412.2" y="583.5" width="3.6" height="3.6" fill="#c4c4c4"/>
<rect x="412.2" y="567.9" width="3.6" height="3.6" fill="#c4c4c4"/>
<rect x="412.3" y="568.1" width="3.4" height="19.5" fill="#c4c4c4"/>
<rect x="412.3" y="607.2" width="3.4" height="3.4" fill="#c4c4c4"/>
<rect x="412.3" y="599.0" width="3.4" height="16.5" fill="#c4c4c4"/>
<rect x="412.3" y="630.6" width="3.4" height="3.4" fill="#c4c4c4"/>
<rect x="412.3" y="624.8" width="3.4" height="3.4" fill="#c4c4c4"/>
<rect x="412.3" y="635.6" width="3.4" height="3.4" fill="#c4c4c4"/>
<rect x="418.6" y="564.3" width="3.6" height="3.6" fill="#c4c4c4"/>
<rect x="418.6" y="578.2" width="3.6" height="3.6" fill="#c4c4c4"/>
<rect x="418.6" y="565.2" width="3.6" height="3.6" fill="#c4c4c4"/>
<rect x="418.6" y="569.0" width="3.6" height="3.6" fill="#c4c4c4"/>
<rect x="418.7" y="568.9" width="3.4" height="13.2" fill="#c4c4c4"/>
<rect x="418.7" y="602.1" width="3.4" height="3.4" fill="#c4c4c4"/>
<rect x="418.7" y="591.1" width="3.4" height="27.0" fill="#c4c4c4"/>
<rect x="418.7" y="620.8" width="3.4" height="3.4" fill="#c4c4c4"/>
<rect x="425.0" y="568.0" width="3.6" height="3.6" fill="#c4c4c4"/>
<rect x="425.0" y="575.7" width="3.6" height="3.6" fill="#c4c4c4"/>
<rect x="425.0" y="560.5" width="3.6" height="3.6" fill="#c4c4c4"/>
<rect x="425.1" y="571.4" width="3.4" height="18.1" fill="#c4c4c4"/>
<rect x="425.1" y="599.9" width="3.4" height="3.4" fill="#c4c4c4"/>
<rect x="425.1" y="596.9" width="3.4" height="26.7" fill="#c4c4c4"/>
<rect x="425.1" y="639.6" width="3.4" height="3.4" fill="#c4c4c4"/>
<rect x="425.1" y="637.2" width="3.4" height="3.4" fill="#c4c4c4"/>
<rect x="431.4" y="581.7" width="3.6" height="3.6" fill="#c4c4c4"/>
<rect x="431.4" y="569.2" width="3.6" height="3.6" fill="#c4c4c4"/>
<rect x="431.4" y="578.7" width="3.6" height="3.6" fill="#c4c4c4"/>
<rect x="431.4" y="587.3" width="3.6" height="3.6" fill="#c4c4c4"/>
<rect x="431.4" y="560.8" width="3.6" height="3.6" fill="#c4c4c4"/>
<rect x="431.4" y="587.9" width="3.6" height="3.6" fill="#c4c4c4"/>
<rect x="431.4" y="564.3" width="3.6" height="3.6" fill="#c4c4c4"/>
<rect x="431.5" y="561.5" width="3.4" height="27.5" fill="#c4c4c4"/>
<rect x="431.5" y="607.3" width="3.4" height="3.4" fill="#c4c4c4"/>
<rect x="431.5" y="604.6" width="3.4" height="3.4" fill="#c4c4c4"/>
<rect x="431.5" y="598.2" width="3.4" height="27.5" fill="#c4c4c4"/>
<rect x="431.5" y="637.8" width="3.4" height="3.4" fill="#c4c4c4"/>
<rect x="431.5" y="638.9" width="3.4" height="3.4" fill="#c4c4c4"/>
<rect x="437.8" y="566.2" width="3.6" height="3.6" fill="#c4c4c4"/>
<rect x="437.8" y="568.6" width="3.6" height="3.6" fill="#c4c4c4"/>
<rect x="437.8" y="566.1" width="3.6" height="3.6" fill="#c4c4c4"/>
<rect x="437.9" y="565.7" width="3.4" height="16.5" fill="#c4c4c4"/>
<rect x="437.9" y="598.6" width="3.4" height="3.4" fill="#c4c4c4"/>
<rect x="437.9" y="606.9" width="3.4" height="3.4" fill="#c4c4c4"/>
<rect x="437.9" y="595.0" width="3.4" height="31.0" fill="#c4c4c4"/>
<rect x="437.9" y="632.4" width="3.4" height="3.4" fill="#c4c4c4"/>
<rect x="437.9" y="628.3" width="3.4" height="3.4" fill="#c4c4c4"/>
<rect x="437.9" y="635.5" width="3.4" height="3.4" fill="#c4c4c4"/>
<rect x="444.2" y="581.1" width="3.6" height="3.6" fill="#c4c4c4"/>
<rect x="444.2" y="565.1" width="3.6" height="3.6" fill="#c4c4c4"/>
<rect x="444.2" y="589.3" width="3.6" height="3.6" fill="#c4c4c4"/>
<rect x="444.2" y="574.7" width="3.6" height="3.6" fill="#c4c4c4"/>
<rect x="444.3" y="569.8" width="3.4" height="14.1" fill="#c4c4c4"/>
<rect x="444.3" y="602.9" width="3.4" height="3.4" fill="#c4c4c4"/>
<rect x="444.3" y="609.0" width="3.4" height="3.4" fill="#c4c4c4"/>
<rect x="444.3" y="611.0" width="3.4" height="3.4" fill="#c4c4c4"/>
<rect x="444.3" y="592.1" width="3.4" height="31.9" fill="#c4c4c4"/>
<rect x="444.3" y="630.0" width="3.4" height="3.4" fill="#c4c4c4"/>
<rect x="444.3" y="632.7" width="3.4" height="3.4" fill="#c4c4c4"/>
<rect x="450.7" y="570.7" width="3.6" height="3.6" fill="#c4c4c4"/>
<rect x="450.7" y="560.8" width="3.6" height="3.6" fill="#c4c4c4"/>
<rect x="450.7" y="575.0" width="3.6" height="3.6" fill="#c4c4c4"/>
<rect x="450.8" y="570.7" width="3.4" height="13.6" fill="#c4c4c4"/>
<rect x="450.8" y="605.6" width="3.4" height="3.4" fill="#c4c4c4"/>
<rect x="450.8" y="593.3" width="3.4" height="23.8" fill="#c4c4c4"/>
<rect x="450.8" y="634.8" width="3.4" height="3.4" fill="#c4c4c4"/>
<rect x="457.1" y="577.4" width="3.6" height="3.6" fill="#c4c4c4"/>
<rect x="457.1" y="567.1" width="3.6" height="3.6" fill="#c4c4c4"/>
<rect x="457.1" y="585.3" width="3.6" height="3.6" fill="#c4c4c4"/>
<rect x="457.1" y="564.7" width="3.6" height="3.6" fill="#c4c4c4"/>
<rect x="457.1" y="569.8" width="3.6" height="3.6" fill="#c4c4c4"/>
<rect x="457.2" y="562.8" width="3.4" height="22.5" fill="#c4c4c4"/>
<rect x="457.2" y="607.1" width="3.4" height="3.4" fill="#c4c4c4"/>
<rect x="457.2" y="611.3" width="3.4" height="3.4" fill="#c4c4c4"/>
<rect x="457.2" y="593.8" width="3.4" height="33.9" fill="#c4c4c4"/>
<rect x="457.2" y="628.7" width="3.4" height="3.4" fill="#c4c4c4"/>
<rect x="457.2" y="632.8" width="3.4" height="3.4" fill="#c4c4c4"/>
<rect x="463.5" y="566.2" width="3.6" height="3.6" fill="#c4c4c4"/>
<rect x="463.5" y="561.0" width="3.6" height="3.6" fill="#c4c4c4"/>
<rect x="463.5" y="573.9" width="3.6" height="3.6" fill="#c4c4c4"/>
<rect x="463.5" y="578.1" width="3.6" height="3.6" fill="#c4c4c4"/>
<rect x="463.6" y="565.7" width="3.4" height="22.0" fill="#c4c4c4"/>
<rect x="463.6" y="607.5" width="3.4" height="3.4" fill="#c4c4c4"/>
<rect x="463.6" y="597.0" width="3.4" height="29.1" fill="#c4c4c4"/>
<rect x="463.6" y="629.1" width="3.4" height="3.4" fill="#c4c4c4"/>
<rect x="463.6" y="632.6" width="3.4" height="3.4" fill="#c4c4c4"/>
<rect x="469.9" y="567.5" width="3.6" height="3.6" fill="#c4c4c4"/>
<rect x="469.9" y="587.9" width="3.6" height="3.6" fill="#c4c4c4"/>
<rect x="470.0" y="565.3" width="3.4" height="21.6" fill="#c4c4c4"/>
<rect x="470.0" y="611.5" width="3.4" height="3.4" fill="#c4c4c4"/>
<rect x="470.0" y="603.8" width="3.4" height="3.4" fill="#c4c4c4"/>
<rect x="470.0" y="595.2" width="3.4" height="21.1" fill="#c4c4c4"/>
<rect x="470.0" y="631.5" width="3.4" height="3.4" fill="#c4c4c4"/>
<rect x="470.0" y="634.3" width="3.4" height="3.4" fill="#c4c4c4"/>
<rect x="476.3" y="575.7" width="3.6" height="3.6" fill="#c4c4c4"/>
<rect x="476.3" y="588.4" width="3.6" height="3.6" fill="#c4c4c4"/>
<rect x="476.3" y="580.5" width="3.6" height="3.6" fill="#c4c4c4"/>
<rect x="476.3" y="582.9" width="3.6" height="3.6" fill="#c4c4c4"/>
<rect x="476.3" y="589.5" width="3.6" height="3.6" fill="#c4c4c4"/>
<rect x="476.3" y="561.7" width="3.6" height="3.6" fill="#c4c4c4"/>
<rect x="476.3" y="572.0" width="3.6" height="3.6" fill="#c4c4c4"/>
<rect x="476.4" y="565.6" width="3.4" height="20.6" fill="#c4c4c4"/>
<rect x="476.4" y="606.6" width="3.4" height="3.4" fill="#c4c4c4"/>
<rect x="476.4" y="598.8" width="3.4" height="3.4" fill="#c4c4c4"/>
<rect x="476.4" y="595.3" width="3.4" height="22.6" fill="#c4c4c4"/>
<rect x="476.4" y="636.0" width="3.4" height="3.4" fill="#c4c4c4"/>
<rect x="476.4" y="624.2" width="3.4" height="3.4" fill="#c4c4c4"/>
<rect x="482.7" y="579.0" width="3.6" height="3.6" fill="#c4c4c4"/>
<rect x="482.7" y="576.9" width="3.6" height="3.6" fill="#c4c4c4"/>
<rect x="482.7" y="588.9" width="3.6" height="3.6" fill="#c4c4c4"/>
<rect x="482.7" y="584.5" width="3.6" height="3.6" fill="#c4c4c4"/>
<rect x="482.7" y="568.8" width="3.6" height="3.6" fill="#c4c4c4"/>
<rect x="482.8" y="564.9" width="3.4" height="25.6" fill="#c4c4c4"/>
<rect x="482.8" y="598.8" width="3.4" height="3.4" fill="#c4c4c4"/>
<rect x="482.8" y="598.6" width="3.4" height="3.4" fill="#c4c4c4"/>
<rect x="482.8" y="597.3" width="3.4" height="3.4" fill="#c4c4c4"/>
<rect x="482.8" y="597.2" width="3.4" height="21.4" fill="#c4c4c4"/>
<rect x="482.8" y="624.9" width="3.4" height="3.4" fill="#c4c4c4"/>
<rect x="482.8" y="629.6" width="3.4" height="3.4" fill="#c4c4c4"/>
<rect x="489.1" y="585.6" width="3.6" height="3.6" fill="#c4c4c4"/>
<rect x="489.1" y="583.5" width="3.6" height="3.6" fill="#c4c4c4"/>
<rect x="489.1" y="560.4" width="3.6" height="3.6" fill="#c4c4c4"/>
<rect x="489.2" y="563.8" width="3.4" height="19.3" fill="#c4c4c4"/>
<rect x="489.2" y="596.6" width="3.4" height="3.4" fill="#c4c4c4"/>
<rect x="489.2" y="608.0" width="3.4" height="3.4" fill="#c4c4c4"/>
<rect x="489.2" y="597.9" width="3.4" height="19.3" fill="#c4c4c4"/>
<rect x="495.5" y="585.2" width="3.6" height="3.6" fill="#c4c4c4"/>
<rect x="495.5" y="580.8" width="3.6" height="3.6" fill="#c4c4c4"/>
<rect x="495.5" y="582.3" width="3.6" height="3.6" fill="#c4c4c4"/>
<rect x="495.5" y="586.5" width="3.6" height="3.6" fill="#c4c4c4"/>
<rect x="495.5" y="567.9" width="3.6" height="3.6" fill="#c4c4c4"/>
<rect x="495.5" y="564.2" width="3.6" height="3.6" fill="#c4c4c4"/>
<rect x="495.5" y="561.8" width="3.6" height="3.6" fill="#c4c4c4"/>
<rect x="495.6" y="562.6" width="3.4" height="24.3" fill="#c4c4c4"/>
<rect x="495.6" y="609.5" width="3.4" height="3.4" fill="#c4c4c4"/>
<rect x="495.6" y="595.6" width="3.4" height="28.0" fill="#c4c4c4"/>
<rect x="495.6" y="636.8" width="3.4" height="3.4" fill="#c4c4c4"/>
<rect x="501.9" y="579.1" width="3.6" height="3.6" fill="#c4c4c4"/>
<rect x="501.9" y="587.9" width="3.6" height="3.6" fill="#c4c4c4"/>
<rect x="501.9" y="589.5" width="3.6" height="3.6" fill="#c4c4c4"/>
<rect x="501.9" y="578.8" width="3.6" height="3.6" fill="#c4c4c4"/>
<rect x="502.0" y="570.5" width="3.4" height="15.2" fill="#c4c4c4"/>
<rect x="502.0" y="607.9" width="3.4" height="3.4" fill="#c4c4c4"/>
<rect x="502.0" y="601.8" width="3.4" height="3.4" fill="#c4c4c4"/>
<rect x="502.0" y="595.5" width="3.4" height="30.2" fill="#c4c4c4"/>
<rect x="502.0" y="628.1" width="3.4" height="3.4" fill="#c4c4c4"/>
<rect x="502.0" y="625.4" width="3.4" height="3.4" fill="#c4c4c4"/>
<rect x="508.3" y="583.8" width="3.6" height="3.6" fill="#c4c4c4"/>
<rect x="508.3" y="569.5" width="3.6" height="3.6" fill="#c4c4c4"/>
<rect x="508.3" y="583.5" width="3.6" height="3.6" fill="#c4c4c4"/>
<rect x="508.3" y="576.4" width="3.6" height="3.6" fill="#c4c4c4"/>
<rect x="508.4" y="564.3" width="3.4" height="17.8" fill="#c4c4c4"/>
<rect x="508.4" y="596.1" width="3.4" height="26.9" fill="#c4c4c4"/>
<rect x="514.7" y="563.0" width="3.6" height="3.6" fill="#c4c4c4"/>
<rect x="514.7" y="583.6" width="3.6" height="3.6" fill="#c4c4c4"/>
<rect x="514.7" y="567.7" width="3.6" height="3.6" fill="#c4c4c4"/>
<rect x="514.8" y="565.6" width="3.4" height="19.5" fill="#c4c4c4"/>
<rect x="514.8" y="610.8" width="3.4" height="3.4" fill="#c4c4c4"/>
<rect x="514.8" y="604.2" width="3.4" height="3.4" fill="#c4c4c4"/>
<rect x="514.8" y="591.2" width="3.4" height="34.3" fill="#c4c4c4"/>
<rect x="514.8" y="628.9" width="3.4" height="3.4" fill="#c4c4c4"/>
<rect x="521.2" y="574.3" width="3.6" height="3.6" fill="#c4c4c4"/>
<rect x="521.2" y="566.4" width="3.6" height="3.6" fill="#c4c4c4"/>
<rect x="521.2" y="560.5" width="3.6" height="3.6" fill="#c4c4c4"/>
<rect x="521.2" y="580.5" width="3.6" height="3.6" fill="#c4c4c4"/>
<rect x="521.2" y="589.0" width="3.6" height="3.6" fill="#c4c4c4"/>
<rect x="521.3" y="570.6" width="3.4" height="12.7" fill="#c4c4c4"/>
<rect x="521.3" y="597.4" width="3.4" height="3.4" fill="#c4c4c4"/>
<rect x="521.3" y="597.7" width="3.4" height="26.5" fill="#c4c4c4"/>
<rect x="521.3" y="634.2" width="3.4" height="3.4" fill="#dddddd"/>
<rect x="527.6" y="588.0" width="3.6" height="3.6" fill="#c4c4c4"/>
<rect x="527.6" y="560.3" width="3.6" height="3.6" fill="#c4c4c4"/>
<rect x="527.6" y="562.4" width="3.6" height="3.6" fill="#c4c4c4"/>
<rect x="527.6" y="581.9" width="3.6" height="3.6" fill="#c4c4c4"/>
<rect x="527.6" y="585.8" width="3.6" height="3.6" fill="#c4c4c4"/>
<rect x="527.7" y="561.7" width="3.4" height="24.0" fill="#c4c4c4"/>
<rect x="527.7" y="604.3" width="3.4" height="3.4" fill="#c4c4c4"/>
<rect x="527.7" y="606.2" width="3.4" height="3.4" fill="#c4c4c4"/>
<rect x="527.7" y="608.4" width="3.4" height="3.4" fill="#c4c4c4"/>
<rect x="527.7" y="596.4" width="3.4" height="26.7" fill="#c4c4c4"/>
<rect x="527.7" y="628.4" width="3.4" height="3.4" fill="#dddddd"/>
<rect x="534.0" y="568.8" width="3.6" height="3.6" fill="#c4c4c4"/>
<rect x="534.0" y="584.8" width="3.6" height="3.6" fill="#c4c4c4"/>
<rect x="534.0" y="569.3" width="3.6" height="3.6" fill="#c4c4c4"/>
<rect x="534.0" y="586.6" width="3.6" height="3.6" fill="#c4c4c4"/>
<rect x="534.1" y="568.5" width="3.4" height="19.5" fill="#c4c4c4"/>
<rect x="534.1" y="599.1" width="3.4" height="3.4" fill="#c4c4c4"/>
<rect x="534.1" y="598.7" width="3.4" height="3.4" fill="#c4c4c4"/>
<rect x="534.1" y="595.9" width="3.4" height="29.7" fill="#c4c4c4"/>
<rect x="534.1" y="637.7" width="3.4" height="3.4" fill="#dddddd"/>
<rect x="540.4" y="587.4" width="3.6" height="3.6" fill="#c4c4c4"/>
<rect x="540.4" y="562.6" width="3.6" height="3.6" fill="#c4c4c4"/>
<rect x="540.4" y="583.9" width="3.6" height="3.6" fill="#c4c4c4"/>
<rect x="540.5" y="568.5" width="3.4" height="18.2" fill="#c4c4c4"/>
<rect x="540.5" y="597.7" width="3.4" height="3.4" fill="#c4c4c4"/>
<rect x="540.5" y="602.3" width="3.4" height="3.4" fill="#c4c4c4"/>
<rect x="540.5" y="598.1" width="3.4" height="27.0" fill="#c4c4c4"/>
<rect x="540.5" y="630.4" width="3.4" height="3.4" fill="#dddddd"/>
<rect x="546.8" y="577.7" width="3.6" height="3.6" fill="#c4c4c4"/>
<rect x="546.8" y="565.8" width="3.6" height="3.6" fill="#c4c4c4"/>
<rect x="546.8" y="581.0" width="3.6" height="3.6" fill="#c4c4c4"/>
<rect x="546.8" y="576.9" width="3.6" height="3.6" fill="#c4c4c4"/>
<rect x="546.8" y="575.5" width="3.6" height="3.6" fill="#c4c4c4"/>
<rect x="546.8" y="571.2" width="3.6" height="3.6" fill="#c4c4c4"/>
<rect x="546.9" y="568.0" width="3.4" height="21.9" fill="#c4c4c4"/>
<rect x="546.9" y="594.4" width="3.4" height="3.4" fill="#c4c4c4"/>
<rect x="546.9" y="599.9" width="3.4" height="26.4" fill="#c4c4c4"/>
<rect x="553.2" y="588.9" width="3.6" height="3.6" fill="#c4c4c4"/>
<rect x="553.2" y="561.1" width="3.6" height="3.6" fill="#c4c4c4"/>
<rect x="553.2" y="565.4" width="3.6" height="3.6" fill="#c4c4c4"/>
<rect x="553.2" y="561.5" width="3.6" height="3.6" fill="#c4c4c4"/>
<rect x="553.2" y="586.1" width="3.6" height="3.6" fill="#c4c4c4"/>
<rect x="553.3" y="561.7" width="3.4" height="26.3" fill="#c4c4c4"/>
<rect x="553.3" y="601.2" width="3.4" height="3.4" fill="#c4c4c4"/>
<rect x="553.3" y="611.3" width="3.4" height="3.4" fill="#c4c4c4"/>
<rect x="553.3" y="599.6" width="3.4" height="24.1" fill="#c4c4c4"/>
<rect x="553.3" y="627.9" width="3.4" height="3.4" fill="#dddddd"/>
<rect x="553.3" y="639.8" width="3.4" height="3.4" fill="#dddddd"/>
<rect x="559.6" y="561.2" width="3.6" height="3.6" fill="#c4c4c4"/>
<rect x="559.6" y="589.6" width="3.6" height="3.6" fill="#c4c4c4"/>
<rect x="559.7" y="571.3" width="3.4" height="17.4" fill="#c4c4c4"/>
<rect x="559.7" y="607.6" width="3.4" height="3.4" fill="#c4c4c4"/>
<rect x="559.7" y="599.8" width="3.4" height="3.4" fill="#c4c4c4"/>
<rect x="559.7" y="591.2" width="3.4" height="30.0" fill="#c4c4c4"/>
<rect x="559.7" y="623.4" width="3.4" height="3.4" fill="#dddddd"/>
<rect x="566.0" y="565.9" width="3.6" height="3.6" fill="#c4c4c4"/>
<rect x="566.0" y="587.8" width="3.6" height="3.6" fill="#c4c4c4"/>
<rect x="566.0" y="586.7" width="3.6" height="3.6" fill="#c4c4c4"/>
<rect x="566.0" y="573.4" width="3.6" height="3.6" fill="#c4c4c4"/>
<rect x="566.0" y="578.9" width="3.6" height="3.6" fill="#c4c4c4"/>
<rect x="566.1" y="564.7" width="3.4" height="25.5" fill="#c4c4c4"/>
<rect x="566.1" y="596.6" width="3.4" height="3.4" fill="#c4c4c4"/>
<rect x="566.1" y="595.5" width="3.4" height="21.3" fill="#c4c4c4"/>
<rect x="566.1" y="637.4" width="3.4" height="3.4" fill="#dddddd"/>
<rect x="566.1" y="628.2" width="3.4" height="3.4" fill="#dddddd"/>
<rect x="572.4" y="570.0" width="3.6" height="3.6" fill="#c4c4c4"/>
<rect x="572.4" y="574.7" width="3.6" height="3.6" fill="#c4c4c4"/>
<rect x="572.4" y="587.1" width="3.6" height="3.6" fill="#c4c4c4"/>
<rect x="572.4" y="589.4" width="3.6" height="3.6" fill="#c4c4c4"/>
<rect x="572.4" y="566.3" width="3.6" height="3.6" fill="#c4c4c4"/>
<rect x="572.4" y="568.6" width="3.6" height="3.6" fill="#c4c4c4"/>
<rect x="572.5" y="563.2" width="3.4" height="22.4" fill="#c4c4c4"/>
<rect x="572.5" y="610.7" width="3.4" height="3.4" fill="#c4c4c4"/>
<rect x="572.5" y="590.6" width="3.4" height="33.9" fill="#c4c4c4"/>
<rect x="572.5" y="626.8" width="3.4" height="3.4" fill="#dddddd"/>
<rect x="578.8" y="575.8" width="3.6" height="3.6" fill="#c4c4c4"/>
<rect x="578.8" y="566.5" width="3.6" height="3.6" fill="#c4c4c4"/>
<rect x="578.8" y="564.1" width="3.6" height="3.6" fill="#c4c4c4"/>
<rect x="578.8" y="565.9" width="3.6" height="3.6" fill="#c4c4c4"/>
<rect x="578.9" y="562.0" width="3.4" height="26.1" fill="#c4c4c4"/>
<rect x="578.9" y="602.9" width="3.4" height="3.4" fill="#c4c4c4"/>
<rect x="578.9" y="595.8" width="3.4" height="21.8" fill="#c4c4c4"/>
<rect x="585.2" y="585.9" width="3.6" height="3.6" fill="#c4c4c4"/>
<rect x="585.2" y="568.0" width="3.6" height="3.6" fill="#c4c4c4"/>
<rect x="585.2" y="584.9" width="3.6" height="3.6" fill="#c4c4c4"/>
<rect x="585.2" y="564.9" width="3.6" height="3.6" fill="#c4c4c4"/>
<rect x="585.3" y="567.5" width="3.4" height="14.5" fill="#c4c4c4"/>
<rect x="585.3" y="603.4" width="3.4" height="3.4" fill="#c4c4c4"/>
<rect x="585.3" y="603.3" width="3.4" height="3.4" fill="#c4c4c4"/>
<rect x="585.3" y="598.7" width="3.4" height="20.5" fill="#c4c4c4"/>
<rect x="585.3" y="634.2" width="3.4" height="3.4" fill="#dddddd"/>
<rect x="585.3" y="635.0" width="3.4" height="3.4" fill="#dddddd"/>
<rect x="591.7" y="574.8" width="3.6" height="3.6" fill="#c4c4c4"/>
<rect x="591.7" y="575.9" width="3.6" height="3.6" fill="#c4c4c4"/>
<rect x="591.7" y="566.7" width="3.6" height="3.6" fill="#c4c4c4"/>
<rect x="591.7" y="563.1" width="3.6" height="3.6" fill="#c4c4c4"/>
<rect x="591.7" y="584.5" width="3.6" height="3.6" fill="#c4c4c4"/>
<rect x="591.8" y="563.1" width="3.4" height="19.0" fill="#c4c4c4"/>
<rect x="591.8" y="597.2" width="3.4" height="18.4" fill="#c4c4c4"/>
<rect x="591.8" y="622.5" width="3.4" height="3.4" fill="#dddddd"/>
<rect x="591.8" y="630.0" width="3.4" height="3.4" fill="#dddddd"/>
<rect x="591.8" y="622.4" width="3.4" height="3.4" fill="#dddddd"/>
<rect x="598.1" y="564.1" width="3.6" height="3.6" fill="#c4c4c4"/>
<rect x="598.1" y="585.8" width="3.6" height="3.6" fill="#c4c4c4"/>
<rect x="598.1" y="588.1" width="3.6" height="3.6" fill="#c4c4c4"/>
<rect x="598.1" y="575.8" width="3.6" height="3.6" fill="#c4c4c4"/>
<rect x="598.2" y="571.4" width="3.4" height="18.4" fill="#c4c4c4"/>
<rect x="598.2" y="600.1" width="3.4" height="3.4" fill="#c4c4c4"/>
<rect x="598.2" y="600.0" width="3.4" height="3.4" fill="#c4c4c4"/>
<rect x="598.2" y="599.1" width="3.4" height="26.5" fill="#c4c4c4"/>
<rect x="598.2" y="637.0" width="3.4" height="3.4" fill="#dddddd"/>
<rect x="598.2" y="638.7" width="3.4" height="3.4" fill="#dddddd"/>
<rect x="604.5" y="570.9" width="3.6" height="3.6" fill="#c4c4c4"/>
<rect x="604.5" y="562.1" width="3.6" height="3.6" fill="#c4c4c4"/>
<rect x="604.5" y="575.1" width="3.6" height="3.6" fill="#c4c4c4"/>
<rect x="604.6" y="570.7" width="3.4" height="20.1" fill="#c4c4c4"/>
<rect x="604.6" y="599.2" width="3.4" height="23.8" fill="#c4c4c4"/>
<rect x="604.6" y="625.0" width="3.4" height="3.4" fill="#dddddd"/>
<rect x="604.6" y="625.8" width="3.4" height="3.4" fill="#dddddd"/>
<rect x="610.9" y="579.4" width="3.6" height="3.6" fill="#c4c4c4"/>
<rect x="610.9" y="575.4" width="3.6" height="3.6" fill="#c4c4c4"/>
<rect x="610.9" y="574.0" width="3.6" height="3.6" fill="#c4c4c4"/>
<rect x="610.9" y="564.5" width="3.6" height="3.6" fill="#c4c4c4"/>
<rect x="610.9" y="563.9" width="3.6" height="3.6" fill="#c4c4c4"/>
<rect x="610.9" y="572.2" width="3.6" height="3.6" fill="#c4c4c4"/>
<rect x="611.0" y="563.7" width="3.4" height="19.2" fill="#c4c4c4"/>
<rect x="611.0" y="605.7" width="3.4" height="3.4" fill="#c4c4c4"/>
<rect x="611.0" y="597.1" width="3.4" height="23.9" fill="#c4c4c4"/>
<rect x="611.0" y="629.4" width="3.4" height="3.4" fill="#dddddd"/>
<rect x="611.0" y="624.8" width="3.4" height="3.4" fill="#dddddd"/>
<rect x="617.3" y="575.4" width="3.6" height="3.6" fill="#c4c4c4"/>
<rect x="617.3" y="577.6" width="3.6" height="3.6" fill="#c4c4c4"/>
<rect x="617.3" y="567.2" width="3.6" height="3.6" fill="#c4c4c4"/>
<rect x="617.3" y="574.7" width="3.6" height="3.6" fill="#c4c4c4"/>
<rect x="617.3" y="589.6" width="3.6" height="3.6" fill="#c4c4c4"/>
<rect x="617.3" y="583.2" width="3.6" height="3.6" fill="#c4c4c4"/>
<rect x="617.4" y="561.7" width="3.4" height="29.0" fill="#c4c4c4"/>
<rect x="617.4" y="601.9" width="3.4" height="3.4" fill="#c4c4c4"/>
<rect x="617.4" y="601.0" width="3.4" height="3.4" fill="#c4c4c4"/>
<rect x="617.4" y="607.2" width="3.4" height="3.4" fill="#c4c4c4"/>
<rect x="617.4" y="592.3" width="3.4" height="35.2" fill="#c4c4c4"/>
<rect x="617.4" y="634.8" width="3.4" height="3.4" fill="#dddddd"/>
<rect x="617.4" y="626.7" width="3.4" height="3.4" fill="#dddddd"/>
<rect x="623.8" y="567.4" width="3.4" height="19.5" fill="#c4c4c4"/>
<rect x="623.8" y="593.8" width="3.4" height="27.1" fill="#c4c4c4"/>
<rect x="623.8" y="625.9" width="3.4" height="3.4" fill="#dddddd"/>
<rect x="623.8" y="631.1" width="3.4" height="3.4" fill="#dddddd"/>
<rect x="630.1" y="585.5" width="3.6" height="3.6" fill="#c4c4c4"/>
<rect x="630.1" y="573.3" width="3.6" height="3.6" fill="#c4c4c4"/>
<rect x="630.1" y="569.1" width="3.6" height="3.6" fill="#c4c4c4"/>
<rect x="630.1" y="577.3" width="3.6" height="3.6" fill="#c4c4c4"/>
<rect x="630.2" y="570.2" width="3.4" height="21.4" fill="#c4c4c4"/>
<rect x="630.2" y="597.7" width="3.4" height="3.4" fill="#c4c4c4"/>
<rect x="630.2" y="610.4" width="3.4" height="3.4" fill="#c4c4c4"/>
<rect x="630.2" y="595.0" width="3.4" height="32.0" fill="#c4c4c4"/>
<rect x="630.2" y="635.5" width="3.4" height="3.4" fill="#dddddd"/>
<rect x="630.2" y="640.0" width="3.4" height="3.4" fill="#dddddd"/>
<rect x="636.5" y="571.7" width="3.6" height="3.6" fill="#c4c4c4"/>
<rect x="636.5" y="577.8" width="3.6" height="3.6" fill="#c4c4c4"/>
<rect x="636.5" y="575.8" width="3.6" height="3.6" fill="#c4c4c4"/>
<rect x="636.5" y="571.2" width="3.6" height="3.6" fill="#c4c4c4"/>
<rect x="636.5" y="576.8" width="3.6" height="3.6" fill="#c4c4c4"/>
<rect x="636.6" y="566.4" width="3.4" height="20.0" fill="#c4c4c4"/>
<rect x="636.6" y="608.7" width="3.4" height="3.4" fill="#c4c4c4"/>
<rect x="636.6" y="593.2" width="3.4" height="34.5" fill="#c4c4c4"/>
<rect x="636.6" y="636.5" width="3.4" height="3.4" fill="#dddddd"/>
<rect x="642.9" y="572.6" width="3.6" height="3.6" fill="#c4c4c4"/>
<rect x="642.9" y="568.7" width="3.6" height="3.6" fill="#c4c4c4"/>
<rect x="642.9" y="575.1" width="3.6" height="3.6" fill="#c4c4c4"/>
<rect x="642.9" y="578.1" width="3.6" height="3.6" fill="#c4c4c4"/>
<rect x="643.0" y="561.5" width="3.4" height="24.6" fill="#c4c4c4"/>
<rect x="643.0" y="608.2" width="3.4" height="3.4" fill="#c4c4c4"/>
<rect x="643.0" y="606.4" width="3.4" height="3.4" fill="#c4c4c4"/>
<rect x="643.0" y="595.9" width="3.4" height="27.8" fill="#c4c4c4"/>
<rect x="643.0" y="623.9" width="3.4" height="3.4" fill="#dddddd"/>
<rect x="643.0" y="631.1" width="3.4" height="3.4" fill="#dddddd"/>
<rect x="643.0" y="632.9" width="3.4" height="3.4" fill="#dddddd"/>
<rect x="649.3" y="589.9" width="3.6" height="3.6" fill="#c4c4c4"/>
<rect x="649.3" y="572.3" width="3.6" height="3.6" fill="#c4c4c4"/>
<rect x="649.3" y="563.2" width="3.6" height="3.6" fill="#c4c4c4"/>
<rect x="649.3" y="565.1" width="3.6" height="3.6" fill="#c4c4c4"/>
<rect x="649.3" y="584.2" width="3.6" height="3.6" fill="#c4c4c4"/>
<rect x="649.4" y="561.1" width="3.4" height="28.6" fill="#c4c4c4"/>
<rect x="649.4" y="600.4" width="3.4" height="3.4" fill="#c4c4c4"/>
<rect x="649.4" y="598.8" width="3.4" height="3.4" fill="#c4c4c4"/>
<rect x="649.4" y="599.0" width="3.4" height="23.5" fill="#c4c4c4"/>
<rect x="649.4" y="627.0" width="3.4" height="3.4" fill="#dddddd"/>
<rect x="649.4" y="627.7" width="3.4" height="3.4" fill="#dddddd"/>
<rect x="655.7" y="588.8" width="3.6" height="3.6" fill="#c4c4c4"/>
<rect x="655.7" y="578.6" width="3.6" height="3.6" fill="#c4c4c4"/>
<rect x="655.7" y="585.6" width="3.6" height="3.6" fill="#c4c4c4"/>
<rect x="655.7" y="588.8" width="3.6" height="3.6" fill="#c4c4c4"/>
<rect x="655.8" y="571.4" width="3.4" height="13.0" fill="#c4c4c4"/>
<rect x="655.8" y="598.0" width="3.4" height="3.4" fill="#c4c4c4"/>
<rect x="655.8" y="597.9" width="3.4" height="20.2" fill="#c4c4c4"/>
<rect x="655.8" y="623.5" width="3.4" height="3.4" fill="#dddddd"/>
<rect x="662.2" y="563.4" width="3.6" height="3.6" fill="#c4c4c4"/>
<rect x="662.2" y="571.6" width="3.6" height="3.6" fill="#c4c4c4"/>
<rect x="662.2" y="562.0" width="3.6" height="3.6" fill="#c4c4c4"/>
<rect x="662.2" y="584.8" width="3.6" height="3.6" fill="#c4c4c4"/>
<rect x="662.2" y="567.3" width="3.6" height="3.6" fill="#c4c4c4"/>
<rect x="662.2" y="568.5" width="3.6" height="3.6" fill="#c4c4c4"/>
<rect x="662.3" y="564.8" width="3.4" height="18.8" fill="#c4c4c4"/>
<rect x="662.3" y="606.7" width="3.4" height="3.4" fill="#c4c4c4"/>
<rect x="662.3" y="596.3" width="3.4" height="3.4" fill="#c4c4c4"/>
<rect x="662.3" y="598.4" width="3.4" height="27.1" fill="#c4c4c4"/>
<rect x="662.3" y="623.2" width="3.4" height="3.4" fill="#dddddd"/>
<rect x="662.3" y="634.4" width="3.4" height="3.4" fill="#dddddd"/>
<rect x="662.3" y="639.2" width="3.4" height="3.4" fill="#dddddd"/>
<rect x="668.6" y="588.5" width="3.6" height="3.6" fill="#c4c4c4"/>
<rect x="668.6" y="566.8" width="3.6" height="3.6" fill="#c4c4c4"/>
<rect x="668.6" y="577.6" width="3.6" height="3.6" fill="#c4c4c4"/>
<rect x="668.7" y="562.4" width="3.4" height="24.8" fill="#c4c4c4"/>
<rect x="668.7" y="603.8" width="3.4" height="3.4" fill="#c4c4c4"/>
<rect x="668.7" y="607.9" width="3.4" height="3.4" fill="#c4c4c4"/>
<rect x="668.7" y="593.1" width="3.4" height="27.0" fill="#c4c4c4"/>
<rect x="668.7" y="621.7" width="3.4" height="3.4" fill="#dddddd"/>
<rect x="668.7" y="637.0" width="3.4" height="3.4" fill="#dddddd"/>
<rect x="668.7" y="633.3" width="3.4" height="3.4" fill="#dddddd"/>
<rect x="675.0" y="576.9" width="3.6" height="3.6" fill="#c4c4c4"/>
<rect x="675.0" y="575.0" width="3.6" height="3.6" fill="#c4c4c4"/>
<rect x="675.0" y="562.0" width="3.6" height="3.6" fill="#c4c4c4"/>
<rect x="675.0" y="566.8" width="3.6" height="3.6" fill="#c4c4c4"/>
<rect x="675.0" y="581.5" width="3.6" height="3.6" fill="#c4c4c4"/>
<rect x="675.1" y="570.5" width="3.4" height="12.8" fill="#c4c4c4"/>
<rect x="675.1" y="599.0" width="3.4" height="3.4" fill="#c4c4c4"/>
<rect x="675.1" y="600.3" width="3.4" height="3.4" fill="#c4c4c4"/>
<rect x="675.1" y="596.6" width="3.4" height="27.5" fill="#c4c4c4"/>
<rect x="675.1" y="623.6" width="3.4" height="3.4" fill="#dddddd"/>
<rect x="681.4" y="581.4" width="3.6" height="3.6" fill="#c4c4c4"/>
<rect x="681.4" y="561.2" width="3.6" height="3.6" fill="#c4c4c4"/>
<rect x="681.4" y="565.9" width="3.6" height="3.6" fill="#c4c4c4"/>
<rect x="681.4" y="571.4" width="3.6" height="3.6" fill="#c4c4c4"/>
<rect x="681.5" y="567.3" width="3.4" height="12.5" fill="#c4c4c4"/>
<rect x="681.5" y="598.6" width="3.4" height="3.4" fill="#c4c4c4"/>
<rect x="681.5" y="606.3" width="3.4" height="3.4" fill="#c4c4c4"/>
<rect x="687.8" y="568.6" width="3.6" height="3.6" fill="#c4c4c4"/>
<rect x="687.8" y="561.4" width="3.6" height="3.6" fill="#c4c4c4"/>
<rect x="687.8" y="582.5" width="3.6" height="3.6" fill="#c4c4c4"/>
<rect x="687.8" y="580.8" width="3.6" height="3.6" fill="#c4c4c4"/>
<rect x="687.9" y="569.2" width="3.4" height="11.4" fill="#c4c4c4"/>
<rect x="687.9" y="599.1" width="3.4" height="3.4" fill="#c4c4c4"/>
<rect x="687.9" y="611.0" width="3.4" height="3.4" fill="#c4c4c4"/>
<rect x="694.2" y="573.6" width="3.6" height="3.6" fill="#c4c4c4"/>
<rect x="694.2" y="580.9" width="3.6" height="3.6" fill="#c4c4c4"/>
<rect x="694.2" y="584.2" width="3.6" height="3.6" fill="#c4c4c4"/>
<rect x="694.3" y="567.0" width="3.4" height="14.7" fill="#c4c4c4"/>
<rect x="694.3" y="598.5" width="3.4" height="3.4" fill="#c4c4c4"/>
<rect x="694.3" y="600.4" width="3.4" height="3.4" fill="#c4c4c4"/>
<rect x="694.3" y="609.0" width="3.4" height="3.4" fill="#dddddd"/>
<rect x="700.6" y="580.1" width="3.6" height="3.6" fill="#c4c4c4"/>
<rect x="700.6" y="567.3" width="3.6" height="3.6" fill="#c4c4c4"/>
<rect x="700.6" y="570.5" width="3.6" height="3.6" fill="#c4c4c4"/>
<rect x="700.6" y="586.5" width="3.6" height="3.6" fill="#c4c4c4"/>
<rect x="700.6" y="576.9" width="3.6" height="3.6" fill="#c4c4c4"/>
<rect x="700.7" y="570.0" width="3.4" height="8.4" fill="#c4c4c4"/>
<rect x="700.7" y="607.7" width="3.4" height="3.4" fill="#c4c4c4"/>
<rect x="707.0" y="563.4" width="3.6" height="3.6" fill="#c4c4c4"/>
<rect x="707.0" y="570.8" width="3.6" height="3.6" fill="#c4c4c4"/>
<rect x="707.0" y="561.8" width="3.6" height="3.6" fill="#c4c4c4"/>
<rect x="707.0" y="573.4" width="3.6" height="3.6" fill="#c4c4c4"/>
<rect x="707.0" y="569.7" width="3.6" height="3.6" fill="#c4c4c4"/>
<rect x="707.0" y="570.9" width="3.6" height="3.6" fill="#c4c4c4"/>
<rect x="707.1" y="561.8" width="3.4" height="12.3" fill="#c4c4c4"/>
<rect x="707.1" y="617.0" width="3.4" height="3.4" fill="#dddddd"/>
<rect x="713.4" y="573.0" width="3.6" height="3.6" fill="#c4c4c4"/>
<rect x="713.4" y="576.3" width="3.6" height="3.6" fill="#c4c4c4"/>
<rect x="713.4" y="579.6" width="3.6" height="3.6" fill="#c4c4c4"/>
<rect x="713.4" y="567.4" width="3.6" height="3.6" fill="#c4c4c4"/>
<rect x="713.5" y="570.2" width="3.4" height="6.1" fill="#c4c4c4"/>
<rect x="719.8" y="582.3" width="3.6" height="3.6" fill="#c4c4c4"/>
<rect x="719.8" y="569.6" width="3.6" height="3.6" fill="#c4c4c4"/>
<rect x="719.8" y="576.5" width="3.6" height="3.6" fill="#c4c4c4"/>
<rect x="719.8" y="584.9" width="3.6" height="3.6" fill="#c4c4c4"/>
<rect x="719.8" y="561.2" width="3.6" height="3.6" fill="#c4c4c4"/>
<rect x="719.9" y="568.8" width="3.4" height="12.5" fill="#c4c4c4"/>
<rect x="719.9" y="603.0" width="3.4" height="3.4" fill="#c4c4c4"/>
<rect x="719.9" y="626.0" width="3.4" height="3.4" fill="#dddddd"/>
<rect x="726.2" y="564.9" width="3.6" height="3.6" fill="#c4c4c4"/>
<rect x="726.2" y="589.1" width="3.6" height="3.6" fill="#c4c4c4"/>
<rect x="726.2" y="561.2" width="3.6" height="3.6" fill="#c4c4c4"/>
<rect x="726.2" y="572.8" width="3.6" height="3.6" fill="#c4c4c4"/>
<rect x="726.3" y="568.3" width="3.4" height="9.8" fill="#c4c4c4"/>
<rect x="726.3" y="601.6" width="3.4" height="3.4" fill="#c4c4c4"/>
<rect x="726.3" y="608.3" width="3.4" height="3.4" fill="#dddddd"/>
<rect x="732.7" y="573.3" width="3.6" height="3.6" fill="#c4c4c4"/>
<rect x="732.7" y="570.4" width="3.6" height="3.6" fill="#c4c4c4"/>
<rect x="732.7" y="562.6" width="3.6" height="3.6" fill="#c4c4c4"/>
<rect x="732.8" y="561.7" width="3.4" height="17.8" fill="#c4c4c4"/>
<rect x="732.8" y="605.0" width="3.4" height="3.4" fill="#c4c4c4"/>
<rect x="732.8" y="610.5" width="3.4" height="3.4" fill="#dddddd"/>
<rect x="739.1" y="586.6" width="3.6" height="3.6" fill="#c4c4c4"/>
<rect x="739.1" y="573.4" width="3.6" height="3.6" fill="#c4c4c4"/>
<rect x="739.1" y="579.8" width="3.6" height="3.6" fill="#c4c4c4"/>
<rect x="739.1" y="577.4" width="3.6" height="3.6" fill="#c4c4c4"/>
<rect x="739.1" y="575.9" width="3.6" height="3.6" fill="#c4c4c4"/>
<rect x="739.1" y="571.9" width="3.6" height="3.6" fill="#c4c4c4"/>
<rect x="739.2" y="563.0" width="3.4" height="18.1" fill="#c4c4c4"/>
<rect x="739.2" y="603.9" width="3.4" height="3.4" fill="#c4c4c4"/>
<rect x="739.2" y="609.5" width="3.4" height="3.4" fill="#c4c4c4"/>
<rect x="739.2" y="617.0" width="3.4" height="3.4" fill="#dddddd"/>
<rect x="745.5" y="576.6" width="3.6" height="3.6" fill="#c4c4c4"/>
<rect x="745.5" y="577.2" width="3.6" height="3.6" fill="#c4c4c4"/>
<rect x="745.5" y="575.4" width="3.6" height="3.6" fill="#c4c4c4"/>
<rect x="745.5" y="562.4" width="3.6" height="3.6" fill="#c4c4c4"/>
<rect x="745.5" y="562.2" width="3.6" height="3.6" fill="#c4c4c4"/>
<rect x="745.5" y="585.9" width="3.6" height="3.6" fill="#c4c4c4"/>
<rect x="745.6" y="562.3" width="3.4" height="19.7" fill="#c4c4c4"/>
<rect x="745.6" y="607.0" width="3.4" height="3.4" fill="#c4c4c4"/>
<rect x="745.6" y="608.9" width="3.4" height="3.4" fill="#c4c4c4"/>
<rect x="751.9" y="583.2" width="3.6" height="3.6" fill="#c4c4c4"/>
<rect x="751.9" y="583.3" width="3.6" height="3.6" fill="#c4c4c4"/>
<rect x="751.9" y="567.1" width="3.6" height="3.6" fill="#c4c4c4"/>
<rect x="751.9" y="560.5" width="3.6" height="3.6" fill="#c4c4c4"/>
<rect x="751.9" y="566.4" width="3.6" height="3.6" fill="#c4c4c4"/>
<rect x="751.9" y="581.2" width="3.6" height="3.6" fill="#c4c4c4"/>
<rect x="752.0" y="570.6" width="3.4" height="7.9" fill="#c4c4c4"/>
<rect x="758.3" y="584.8" width="3.6" height="3.6" fill="#c4c4c4"/>
<rect x="758.3" y="563.0" width="3.6" height="3.6" fill="#c4c4c4"/>
<rect x="758.3" y="584.1" width="3.6" height="3.6" fill="#c4c4c4"/>
<rect x="758.4" y="563.8" width="3.4" height="11.7" fill="#c4c4c4"/>
<rect x="758.4" y="604.5" width="3.4" height="3.4" fill="#c4c4c4"/>
<rect x="758.4" y="594.4" width="3.4" height="3.4" fill="#c4c4c4"/>
<rect x="764.7" y="565.6" width="3.6" height="3.6" fill="#c4c4c4"/>
<rect x="764.7" y="571.4" width="3.6" height="3.6" fill="#c4c4c4"/>
<rect x="764.7" y="586.3" width="3.6" height="3.6" fill="#c4c4c4"/>
<rect x="764.7" y="588.5" width="3.6" height="3.6" fill="#c4c4c4"/>
<rect x="764.7" y="570.3" width="3.6" height="3.6" fill="#c4c4c4"/>
<rect x="764.8" y="566.5" width="3.4" height="14.5" fill="#c4c4c4"/>
<rect x="764.8" y="608.4" width="3.4" height="3.4" fill="#c4c4c4"/>
<rect x="764.8" y="606.2" width="3.4" height="3.4" fill="#c4c4c4"/>
<rect x="764.8" y="602.1" width="3.4" height="3.4" fill="#dddddd"/>
<rect x="771.1" y="585.4" width="3.6" height="3.6" fill="#c4c4c4"/>
<rect x="771.1" y="562.3" width="3.6" height="3.6" fill="#c4c4c4"/>
<rect x="771.1" y="577.7" width="3.6" height="3.6" fill="#c4c4c4"/>
<rect x="771.1" y="565.1" width="3.6" height="3.6" fill="#c4c4c4"/>
<rect x="771.1" y="574.0" width="3.6" height="3.6" fill="#c4c4c4"/>
<rect x="771.2" y="565.3" width="3.4" height="11.6" fill="#c4c4c4"/>
<rect x="771.2" y="600.0" width="3.4" height="3.4" fill="#c4c4c4"/>
<rect x="771.2" y="601.6" width="3.4" height="3.4" fill="#dddddd"/>
<rect x="777.5" y="580.1" width="3.6" height="3.6" fill="#c4c4c4"/>
<rect x="777.5" y="568.2" width="3.6" height="3.6" fill="#c4c4c4"/>
<rect x="777.5" y="567.9" width="3.6" height="3.6" fill="#c4c4c4"/>
<rect x="777.5" y="589.8" width="3.6" height="3.6" fill="#c4c4c4"/>
<rect x="777.6" y="568.0" width="3.4" height="11.1" fill="#c4c4c4"/>
<rect x="777.6" y="600.5" width="3.4" height="3.4" fill="#c4c4c4"/>
<rect x="777.6" y="629.3" width="3.4" height="3.4" fill="#dddddd"/>
<rect x="783.9" y="582.2" width="3.6" height="3.6" fill="#c4c4c4"/>
<rect x="783.9" y="579.1" width="3.6" height="3.6" fill="#c4c4c4"/>
<rect x="783.9" y="576.5" width="3.6" height="3.6" fill="#c4c4c4"/>
<rect x="783.9" y="561.8" width="3.6" height="3.6" fill="#c4c4c4"/>
<rect x="783.9" y="574.4" width="3.6" height="3.6" fill="#c4c4c4"/>
<rect x="783.9" y="567.3" width="3.6" height="3.6" fill="#c4c4c4"/>
<rect x="784.0" y="564.8" width="3.4" height="10.2" fill="#c4c4c4"/>
<rect x="784.0" y="602.2" width="3.4" height="3.4" fill="#c4c4c4"/>
<rect x="784.0" y="604.2" width="3.4" height="3.4" fill="#c4c4c4"/>
<rect x="784.0" y="598.0" width="3.4" height="3.4" fill="#dddddd"/>
<rect x="790.3" y="569.0" width="3.6" height="3.6" fill="#c4c4c4"/>
<rect x="790.3" y="581.8" width="3.6" height="3.6" fill="#c4c4c4"/>
<rect x="790.3" y="588.1" width="3.6" height="3.6" fill="#c4c4c4"/>
<rect x="790.3" y="587.6" width="3.6" height="3.6" fill="#c4c4c4"/>
<rect x="790.3" y="562.4" width="3.6" height="3.6" fill="#c4c4c4"/>
<rect x="790.4" y="565.7" width="3.4" height="15.2" fill="#c4c4c4"/>
<rect x="790.4" y="610.2" width="3.4" height="3.4" fill="#c4c4c4"/>
<rect x="790.4" y="598.6" width="3.4" height="3.4" fill="#c4c4c4"/>
<rect x="790.4" y="607.1" width="3.4" height="3.4" fill="#dddddd"/>
<rect x="796.7" y="581.1" width="3.6" height="3.6" fill="#c4c4c4"/>
<rect x="796.7" y="572.0" width="3.6" height="3.6" fill="#c4c4c4"/>
<rect x="796.7" y="579.4" width="3.6" height="3.6" fill="#c4c4c4"/>
<rect x="796.7" y="578.0" width="3.6" height="3.6" fill="#c4c4c4"/>
<rect x="796.8" y="564.8" width="3.4" height="10.3" fill="#c4c4c4"/>
<rect x="796.8" y="610.6" width="3.4" height="3.4" fill="#c4c4c4"/>
<rect x="796.8" y="628.7" width="3.4" height="3.4" fill="#dddddd"/>
<rect x="803.2" y="579.5" width="3.6" height="3.6" fill="#c4c4c4"/>
<rect x="803.2" y="580.4" width="3.6" height="3.6" fill="#c4c4c4"/>
<rect x="803.2" y="561.7" width="3.6" height="3.6" fill="#c4c4c4"/>
<rect x="803.2" y="570.0" width="3.6" height="3.6" fill="#c4c4c4"/>
<rect x="803.2" y="577.9" width="3.6" height="3.6" fill="#c4c4c4"/>
<rect x="803.2" y="573.9" width="3.6" height="3.6" fill="#c4c4c4"/>
<rect x="803.3" y="571.2" width="3.4" height="7.3" fill="#c4c4c4"/>
<rect x="803.3" y="611.8" width="3.4" height="3.4" fill="#c4c4c4"/>
<rect x="803.3" y="599.9" width="3.4" height="3.4" fill="#c4c4c4"/>
<rect x="803.3" y="601.4" width="3.4" height="3.4" fill="#dddddd"/>
<rect x="809.6" y="583.0" width="3.6" height="3.6" fill="#c4c4c4"/>
<rect x="809.6" y="584.4" width="3.6" height="3.6" fill="#c4c4c4"/>
<rect x="809.6" y="576.2" width="3.6" height="3.6" fill="#c4c4c4"/>
<rect x="809.6" y="578.0" width="3.6" height="3.6" fill="#c4c4c4"/>
<rect x="809.6" y="582.2" width="3.6" height="3.6" fill="#c4c4c4"/>
<rect x="809.7" y="569.5" width="3.4" height="6.9" fill="#c4c4c4"/>
<rect x="809.7" y="602.2" width="3.4" height="3.4" fill="#c4c4c4"/>
<rect x="809.7" y="595.4" width="3.4" height="3.4" fill="#dddddd"/>
<rect x="816.0" y="583.2" width="3.6" height="3.6" fill="#c4c4c4"/>
<rect x="816.0" y="589.7" width="3.6" height="3.6" fill="#c4c4c4"/>
<rect x="816.0" y="582.7" width="3.6" height="3.6" fill="#c4c4c4"/>
<rect x="816.0" y="560.8" width="3.6" height="3.6" fill="#c4c4c4"/>
<rect x="816.0" y="561.8" width="3.6" height="3.6" fill="#c4c4c4"/>
<rect x="816.0" y="576.7" width="3.6" height="3.6" fill="#c4c4c4"/>
<rect x="816.1" y="571.3" width="3.4" height="5.6" fill="#c4c4c4"/>
<rect x="816.1" y="596.7" width="3.4" height="3.4" fill="#c4c4c4"/>
<rect x="816.1" y="596.9" width="3.4" height="3.4" fill="#c4c4c4"/>
<rect x="822.4" y="573.8" width="3.6" height="3.6" fill="#c4c4c4"/>
<rect x="822.4" y="587.1" width="3.6" height="3.6" fill="#c4c4c4"/>
<rect x="822.4" y="582.0" width="3.6" height="3.6" fill="#c4c4c4"/>
<rect x="822.4" y="579.4" width="3.6" height="3.6" fill="#c4c4c4"/>
<rect x="822.5" y="570.5" width="3.4" height="4.0" fill="#c4c4c4"/>
<rect x="822.5" y="604.2" width="3.4" height="3.4" fill="#c4c4c4"/>
<rect x="822.5" y="605.3" width="3.4" height="3.4" fill="#c4c4c4"/>
<rect x="822.5" y="606.8" width="3.4" height="3.4" fill="#dddddd"/>
<rect x="828.8" y="573.0" width="3.6" height="3.6" fill="#c4c4c4"/>
<rect x="828.8" y="579.3" width="3.6" height="3.6" fill="#c4c4c4"/>
<rect x="828.8" y="589.8" width="3.6" height="3.6" fill="#c4c4c4"/>
<rect x="828.8" y="577.1" width="3.6" height="3.6" fill="#c4c4c4"/>
<rect x="828.9" y="570.1" width="3.4" height="6.2" fill="#c4c4c4"/>
<rect x="828.9" y="610.0" width="3.4" height="3.4" fill="#c4c4c4"/>
<rect x="828.9" y="621.1" width="3.4" height="3.4" fill="#dddddd"/>
<rect x="835.2" y="586.5" width="3.6" height="3.6" fill="#c4c4c4"/>
<rect x="835.2" y="586.5" width="3.6" height="3.6" fill="#c4c4c4"/>
<rect x="835.2" y="589.8" width="3.6" height="3.6" fill="#c4c4c4"/>
<rect x="835.2" y="560.7" width="3.6" height="3.6" fill="#c4c4c4"/>
<rect x="835.2" y="589.2" width="3.6" height="3.6" fill="#c4c4c4"/>
<rect x="835.3" y="571.0" width="3.4" height="4.2" fill="#c4c4c4"/>
<rect x="835.3" y="607.2" width="3.4" height="3.4" fill="#c4c4c4"/>
<rect x="835.3" y="595.6" width="3.4" height="3.4" fill="#c4c4c4"/>
<circle cx="510.1" cy="594.9" r="2.6" fill="#fde3cc" stroke="#f9b77a" stroke-width="1.1"/>
<circle cx="510.1" cy="600.5" r="2.6" fill="#fde3cc" stroke="#f9b77a" stroke-width="1.1"/>
<circle cx="516.5" cy="595.9" r="2.6" fill="#fde3cc" stroke="#f9b77a" stroke-width="1.1"/>
<circle cx="516.5" cy="597.1" r="2.6" fill="#fde3cc" stroke="#f9b77a" stroke-width="1.1"/>
<circle cx="523.0" cy="592.9" r="2.6" fill="#fde3cc" stroke="#f9b77a" stroke-width="1.1"/>
<circle cx="523.0" cy="600.2" r="2.6" fill="#fde3cc" stroke="#f9b77a" stroke-width="1.1"/>
<circle cx="529.4" cy="594.8" r="2.6" fill="#fde3cc" stroke="#f9b77a" stroke-width="1.1"/>
<circle cx="529.4" cy="597.2" r="2.6" fill="#fde3cc" stroke="#f9b77a" stroke-width="1.1"/>
<circle cx="535.8" cy="594.0" r="2.6" fill="#fde3cc" stroke="#f9b77a" stroke-width="1.1"/>
<circle cx="535.8" cy="597.9" r="2.6" fill="#fde3cc" stroke="#f9b77a" stroke-width="1.1"/>
<circle cx="542.2" cy="593.7" r="2.6" fill="#fde3cc" stroke="#f9b77a" stroke-width="1.1"/>
<circle cx="542.2" cy="597.4" r="2.6" fill="#fde3cc" stroke="#f9b77a" stroke-width="1.1"/>
<circle cx="548.6" cy="592.1" r="2.6" fill="#fde3cc" stroke="#f9b77a" stroke-width="1.1"/>
<circle cx="548.6" cy="601.0" r="2.6" fill="#fde3cc" stroke="#f9b77a" stroke-width="1.1"/>
<circle cx="555.0" cy="593.3" r="2.6" fill="#fde3cc" stroke="#f9b77a" stroke-width="1.1"/>
<circle cx="555.0" cy="600.5" r="2.6" fill="#fde3cc" stroke="#f9b77a" stroke-width="1.1"/>
<circle cx="561.4" cy="592.5" r="2.6" fill="#fde3cc" stroke="#f9b77a" stroke-width="1.1"/>
<circle cx="561.4" cy="598.9" r="2.6" fill="#fde3cc" stroke="#f9b77a" stroke-width="1.1"/>
<circle cx="567.8" cy="592.5" r="2.6" fill="#fde3cc" stroke="#f9b77a" stroke-width="1.1"/>
<circle cx="567.8" cy="598.7" r="2.6" fill="#fde3cc" stroke="#f9b77a" stroke-width="1.1"/>
<circle cx="574.2" cy="592.7" r="2.6" fill="#fde3cc" stroke="#f9b77a" stroke-width="1.1"/>
<circle cx="574.2" cy="599.7" r="2.6" fill="#fde3cc" stroke="#f9b77a" stroke-width="1.1"/>
<circle cx="580.6" cy="592.6" r="2.6" fill="#fde3cc" stroke="#f9b77a" stroke-width="1.1"/>
<circle cx="580.6" cy="600.0" r="2.6" fill="#fde3cc" stroke="#f9b77a" stroke-width="1.1"/>
<circle cx="587.0" cy="594.0" r="2.6" fill="#fde3cc" stroke="#f9b77a" stroke-width="1.1"/>
<circle cx="587.0" cy="597.4" r="2.6" fill="#fde3cc" stroke="#f9b77a" stroke-width="1.1"/>
<circle cx="593.5" cy="593.4" r="2.6" fill="#fde3cc" stroke="#f9b77a" stroke-width="1.1"/>
<circle cx="593.5" cy="599.0" r="2.6" fill="#fde3cc" stroke="#f9b77a" stroke-width="1.1"/>
<circle cx="599.9" cy="595.7" r="2.6" fill="#fde3cc" stroke="#f9b77a" stroke-width="1.1"/>
<circle cx="599.9" cy="598.4" r="2.6" fill="#fde3cc" stroke="#f9b77a" stroke-width="1.1"/>
<circle cx="606.3" cy="592.9" r="2.6" fill="#fde3cc" stroke="#f9b77a" stroke-width="1.1"/>
<circle cx="606.3" cy="600.9" r="2.6" fill="#fde3cc" stroke="#f9b77a" stroke-width="1.1"/>
<circle cx="612.7" cy="595.5" r="2.6" fill="#fde3cc" stroke="#f9b77a" stroke-width="1.1"/>
<circle cx="612.7" cy="599.9" r="2.6" fill="#fde3cc" stroke="#f9b77a" stroke-width="1.1"/>
<circle cx="619.1" cy="593.1" r="2.6" fill="#fde3cc" stroke="#f9b77a" stroke-width="1.1"/>
<circle cx="619.1" cy="597.7" r="2.6" fill="#fde3cc" stroke="#f9b77a" stroke-width="1.1"/>
<circle cx="625.5" cy="593.1" r="2.6" fill="#fde3cc" stroke="#f9b77a" stroke-width="1.1"/>
<circle cx="625.5" cy="597.3" r="2.6" fill="#fde3cc" stroke="#f9b77a" stroke-width="1.1"/>
<circle cx="631.9" cy="592.2" r="2.6" fill="#fde3cc" stroke="#f9b77a" stroke-width="1.1"/>
<circle cx="631.9" cy="599.0" r="2.6" fill="#fde3cc" stroke="#f9b77a" stroke-width="1.1"/>
<circle cx="638.3" cy="593.6" r="2.6" fill="#fde3cc" stroke="#f9b77a" stroke-width="1.1"/>
<circle cx="638.3" cy="599.2" r="2.6" fill="#fde3cc" stroke="#f9b77a" stroke-width="1.1"/>
<circle cx="644.7" cy="593.5" r="2.6" fill="#fde3cc" stroke="#f9b77a" stroke-width="1.1"/>
<circle cx="644.7" cy="597.0" r="2.6" fill="#fde3cc" stroke="#f9b77a" stroke-width="1.1"/>
<circle cx="651.1" cy="594.8" r="2.6" fill="#fde3cc" stroke="#f9b77a" stroke-width="1.1"/>
<circle cx="651.1" cy="599.6" r="2.6" fill="#fde3cc" stroke="#f9b77a" stroke-width="1.1"/>
<circle cx="657.5" cy="594.2" r="2.6" fill="#fde3cc" stroke="#f9b77a" stroke-width="1.1"/>
<circle cx="657.5" cy="599.2" r="2.6" fill="#fde3cc" stroke="#f9b77a" stroke-width="1.1"/>
<circle cx="664.0" cy="594.8" r="2.6" fill="#fde3cc" stroke="#f9b77a" stroke-width="1.1"/>
<circle cx="664.0" cy="600.9" r="2.6" fill="#fde3cc" stroke="#f9b77a" stroke-width="1.1"/>
<circle cx="670.4" cy="595.5" r="2.6" fill="#fde3cc" stroke="#f9b77a" stroke-width="1.1"/>
<circle cx="670.4" cy="599.9" r="2.6" fill="#fde3cc" stroke="#f9b77a" stroke-width="1.1"/>
<circle cx="676.8" cy="593.6" r="2.6" fill="#fde3cc" stroke="#f9b77a" stroke-width="1.1"/>
<circle cx="676.8" cy="598.3" r="2.6" fill="#fde3cc" stroke="#f9b77a" stroke-width="1.1"/>
<polyline points="132.0,243.8 138.4,245.9 144.8,244.9 151.2,245.5 157.6,246.1 164.0,246.0 170.5,249.0 176.9,247.0 183.3,249.6 189.7,251.3 196.1,250.3 202.5,252.6 208.9,253.2 215.3,254.1 221.7,256.1 228.1,258.1 234.5,262.3 241.0,264.0 247.4,266.3 253.8,267.1 260.2,272.1 266.6,274.3 273.0,278.4 279.4,281.3 285.8,283.9 292.2,289.4 298.6,290.4 305.0,298.2 311.5,304.4 317.9,308.8 324.3,314.6 330.7,324.2 337.1,330.4 343.5,340.0 349.9,348.9 356.3,356.4 362.7,365.7 369.1,374.0 375.5,387.2 382.0,398.5 388.4,408.6 394.8,417.6 401.2,424.3 407.6,428.9 414.0,432.8 420.4,438.8 426.8,442.7 433.2,449.6 439.6,461.2 446.0,474.7 452.5,480.9 458.9,487.6 465.3,493.7 471.7,500.3 478.1,509.6 484.5,516.9 490.9,525.5 497.3,535.9 503.7,549.5 510.1,555.4 516.5,563.0 523.0,572.6 529.4,572.0 535.8,576.9 542.2,581.9 548.6,581.8 555.0,577.8 561.4,568.9 567.8,573.0 574.2,578.2 580.6,578.0 587.0,570.9 593.5,571.0 599.9,571.8 606.3,570.1 612.7,572.4 619.1,576.7 625.5,573.7 631.9,572.8 638.3,569.0 644.7,571.9 651.1,577.7 657.5,574.5 664.0,571.9 670.4,572.0 676.8,575.0" fill="none" stroke="#f5b57a" stroke-width="0.8"/>
<circle cx="132.0" cy="243.8" r="2.75" fill="#ff8000" stroke="#e87400" stroke-width="0.5"/>
<circle cx="138.4" cy="245.9" r="2.75" fill="#ff8000" stroke="#e87400" stroke-width="0.5"/>
<circle cx="144.8" cy="244.9" r="2.75" fill="#ff8000" stroke="#e87400" stroke-width="0.5"/>
<circle cx="151.2" cy="245.5" r="2.75" fill="#ff8000" stroke="#e87400" stroke-width="0.5"/>
<circle cx="157.6" cy="246.1" r="2.75" fill="#ff8000" stroke="#e87400" stroke-width="0.5"/>
<circle cx="164.0" cy="246.0" r="2.75" fill="#ff8000" stroke="#e87400" stroke-width="0.5"/>
<circle cx="170.5" cy="249.0" r="2.75" fill="#ff8000" stroke="#e87400" stroke-width="0.5"/>
<circle cx="176.9" cy="247.0" r="2.75" fill="#ff8000" stroke="#e87400" stroke-width="0.5"/>
<circle cx="183.3" cy="249.6" r="2.75" fill="#ff8000" stroke="#e87400" stroke-width="0.5"/>
<circle cx="189.7" cy="251.3" r="2.75" fill="#ff8000" stroke="#e87400" stroke-width="0.5"/>
<circle cx="196.1" cy="250.3" r="2.75" fill="#ff8000" stroke="#e87400" stroke-width="0.5"/>
<circle cx="202.5" cy="252.6" r="2.75" fill="#ff8000" stroke="#e87400" stroke-width="0.5"/>
<circle cx="208.9" cy="253.2" r="2.75" fill="#ff8000" stroke="#e87400" stroke-width="0.5"/>
<circle cx="215.3" cy="254.1" r="2.75" fill="#ff8000" stroke="#e87400" stroke-width="0.5"/>
<circle cx="221.7" cy="256.1" r="2.75" fill="#ff8000" stroke="#e87400" stroke-width="0.5"/>
<circle cx="228.1" cy="258.1" r="2.75" fill="#ff8000" stroke="#e87400" stroke-width="0.5"/>
<circle cx="234.5" cy="262.3" r="2.75" fill="#ff8000" stroke="#e87400" stroke-width="0.5"/>
<circle cx="241.0" cy="264.0" r="2.75" fill="#ff8000" stroke="#e87400" stroke-width="0.5"/>
<circle cx="247.4" cy="266.3" r="2.75" fill="#ff8000" stroke="#e87400" stroke-width="0.5"/>
<circle cx="253.8" cy="267.1" r="2.75" fill="#ff8000" stroke="#e87400" stroke-width="0.5"/>
<circle cx="260.2" cy="272.1" r="2.75" fill="#ff8000" stroke="#e87400" stroke-width="0.5"/>
<circle cx="266.6" cy="274.3" r="2.75" fill="#ff8000" stroke="#e87400" stroke-width="0.5"/>
<circle cx="273.0" cy="278.4" r="2.75" fill="#ff8000" stroke="#e87400" stroke-width="0.5"/>
<circle cx="279.4" cy="281.3" r="2.75" fill="#ff8000" stroke="#e87400" stroke-width="0.5"/>
<circle cx="285.8" cy="283.9" r="2.75" fill="#ff8000" stroke="#e87400" stroke-width="0.5"/>
<circle cx="292.2" cy="289.4" r="2.75" fill="#ff8000" stroke="#e87400" stroke-width="0.5"/>
<circle cx="298.6" cy="290.4" r="2.75" fill="#ff8000" stroke="#e87400" stroke-width="0.5"/>
<circle cx="305.0" cy="298.2" r="2.75" fill="#ff8000" stroke="#e87400" stroke-width="0.5"/>
<circle cx="311.5" cy="304.4" r="2.75" fill="#ff8000" stroke="#e87400" stroke-width="0.5"/>
<circle cx="317.9" cy="308.8" r="2.75" fill="#ff8000" stroke="#e87400" stroke-width="0.5"/>
<circle cx="324.3" cy="314.6" r="2.75" fill="#ff8000" stroke="#e87400" stroke-width="0.5"/>
<circle cx="330.7" cy="324.2" r="2.75" fill="#ff8000" stroke="#e87400" stroke-width="0.5"/>
<circle cx="337.1" cy="330.4" r="2.75" fill="#ff8000" stroke="#e87400" stroke-width="0.5"/>
<circle cx="343.5" cy="340.0" r="2.75" fill="#ff8000" stroke="#e87400" stroke-width="0.5"/>
<circle cx="349.9" cy="348.9" r="2.75" fill="#ff8000" stroke="#e87400" stroke-width="0.5"/>
<circle cx="356.3" cy="356.4" r="2.75" fill="#ff8000" stroke="#e87400" stroke-width="0.5"/>
<circle cx="362.7" cy="365.7" r="2.75" fill="#ff8000" stroke="#e87400" stroke-width="0.5"/>
<circle cx="369.1" cy="374.0" r="2.75" fill="#ff8000" stroke="#e87400" stroke-width="0.5"/>
<circle cx="375.5" cy="387.2" r="2.75" fill="#ff8000" stroke="#e87400" stroke-width="0.5"/>
<circle cx="382.0" cy="398.5" r="2.75" fill="#ff8000" stroke="#e87400" stroke-width="0.5"/>
<circle cx="388.4" cy="408.6" r="2.75" fill="#ff8000" stroke="#e87400" stroke-width="0.5"/>
<circle cx="394.8" cy="417.6" r="2.75" fill="#ff8000" stroke="#e87400" stroke-width="0.5"/>
<circle cx="401.2" cy="424.3" r="2.75" fill="#ff8000" stroke="#e87400" stroke-width="0.5"/>
<circle cx="407.6" cy="428.9" r="2.75" fill="#ff8000" stroke="#e87400" stroke-width="0.5"/>
<circle cx="414.0" cy="432.8" r="2.75" fill="#ff8000" stroke="#e87400" stroke-width="0.5"/>
<circle cx="420.4" cy="438.8" r="2.75" fill="#ff8000" stroke="#e87400" stroke-width="0.5"/>
<circle cx="426.8" cy="442.7" r="2.75" fill="#ff8000" stroke="#e87400" stroke-width="0.5"/>
<circle cx="433.2" cy="449.6" r="2.75" fill="#ff8000" stroke="#e87400" stroke-width="0.5"/>
<circle cx="439.6" cy="461.2" r="2.75" fill="#ff8000" stroke="#e87400" stroke-width="0.5"/>
<circle cx="446.0" cy="474.7" r="2.75" fill="#ff8000" stroke="#e87400" stroke-width="0.5"/>
<circle cx="452.5" cy="480.9" r="2.75" fill="#ff8000" stroke="#e87400" stroke-width="0.5"/>
<circle cx="458.9" cy="487.6" r="2.75" fill="#ff8000" stroke="#e87400" stroke-width="0.5"/>
<circle cx="465.3" cy="493.7" r="2.75" fill="#ff8000" stroke="#e87400" stroke-width="0.5"/>
<circle cx="471.7" cy="500.3" r="2.75" fill="#ff8000" stroke="#e87400" stroke-width="0.5"/>
<circle cx="478.1" cy="509.6" r="2.75" fill="#ff8000" stroke="#e87400" stroke-width="0.5"/>
<circle cx="484.5" cy="516.9" r="2.75" fill="#ff8000" stroke="#e87400" stroke-width="0.5"/>
<circle cx="490.9" cy="525.5" r="2.75" fill="#ff8000" stroke="#e87400" stroke-width="0.5"/>
<circle cx="497.3" cy="535.9" r="2.75" fill="#ff8000" stroke="#e87400" stroke-width="0.5"/>
<circle cx="503.7" cy="549.5" r="2.75" fill="#ff8000" stroke="#e87400" stroke-width="0.5"/>
<circle cx="510.1" cy="555.4" r="2.75" fill="#ff8000" stroke="#e87400" stroke-width="0.5"/>
<circle cx="516.5" cy="563.0" r="2.75" fill="#ff8000" stroke="#e87400" stroke-width="0.5"/>
<circle cx="523.0" cy="572.6" r="2.75" fill="#ff8000" stroke="#e87400" stroke-width="0.5"/>
<circle cx="529.4" cy="572.0" r="2.75" fill="#ff8000" stroke="#e87400" stroke-width="0.5"/>
<circle cx="535.8" cy="576.9" r="2.75" fill="#ff8000" stroke="#e87400" stroke-width="0.5"/>
<circle cx="542.2" cy="581.9" r="2.75" fill="#ff8000" stroke="#e87400" stroke-width="0.5"/>
<circle cx="548.6" cy="581.8" r="2.75" fill="#ff8000" stroke="#e87400" stroke-width="0.5"/>
<circle cx="555.0" cy="577.8" r="2.75" fill="#ff8000" stroke="#e87400" stroke-width="0.5"/>
<circle cx="561.4" cy="568.9" r="2.75" fill="#ff8000" stroke="#e87400" stroke-width="0.5"/>
<circle cx="567.8" cy="573.0" r="2.75" fill="#ff8000" stroke="#e87400" stroke-width="0.5"/>
<circle cx="574.2" cy="578.2" r="2.75" fill="#ff8000" stroke="#e87400" stroke-width="0.5"/>
<circle cx="580.6" cy="578.0" r="2.75" fill="#ff8000" stroke="#e87400" stroke-width="0.5"/>
<circle cx="587.0" cy="570.9" r="2.75" fill="#ff8000" stroke="#e87400" stroke-width="0.5"/>
<circle cx="593.5" cy="571.0" r="2.75" fill="#ff8000" stroke="#e87400" stroke-width="0.5"/>
<circle cx="599.9" cy="571.8" r="2.75" fill="#ff8000" stroke="#e87400" stroke-width="0.5"/>
<circle cx="606.3" cy="570.1" r="2.75" fill="#ff8000" stroke="#e87400" stroke-width="0.5"/>
<circle cx="612.7" cy="572.4" r="2.75" fill="#ff8000" stroke="#e87400" stroke-width="0.5"/>
<circle cx="619.1" cy="576.7" r="2.75" fill="#ff8000" stroke="#e87400" stroke-width="0.5"/>
<circle cx="625.5" cy="573.7" r="2.75" fill="#ff8000" stroke="#e87400" stroke-width="0.5"/>
<circle cx="631.9" cy="572.8" r="2.75" fill="#ff8000" stroke="#e87400" stroke-width="0.5"/>
<circle cx="638.3" cy="569.0" r="2.75" fill="#ff8000" stroke="#e87400" stroke-width="0.5"/>
<circle cx="644.7" cy="571.9" r="2.75" fill="#ff8000" stroke="#e87400" stroke-width="0.5"/>
<circle cx="651.1" cy="577.7" r="2.75" fill="#ff8000" stroke="#e87400" stroke-width="0.5"/>
<circle cx="657.5" cy="574.5" r="2.75" fill="#ff8000" stroke="#e87400" stroke-width="0.5"/>
<circle cx="664.0" cy="571.9" r="2.75" fill="#ff8000" stroke="#e87400" stroke-width="0.5"/>
<circle cx="670.4" cy="572.0" r="2.75" fill="#ff8000" stroke="#e87400" stroke-width="0.5"/>
<circle cx="676.8" cy="575.0" r="2.75" fill="#ff8000" stroke="#e87400" stroke-width="0.5"/>
<polyline points="132.0,249.7 138.4,248.2 144.8,249.8 151.2,249.1 157.6,249.7 164.0,249.1 170.5,249.7 176.9,251.1 183.3,252.7 189.7,253.2 196.1,255.2 202.5,257.5 208.9,257.3 215.3,259.0 221.7,262.6 228.1,263.5 234.5,265.8 241.0,267.6 247.4,271.2 253.8,271.2 260.2,275.6 266.6,279.1 273.0,280.2 279.4,284.0 285.8,288.2 292.2,290.9 298.6,293.5 305.0,298.1 311.5,304.9 317.9,310.2 324.3,315.1 330.7,318.4 337.1,328.1 343.5,338.2 349.9,348.4 356.3,357.0 362.7,366.8 369.1,376.9 375.5,391.7 382.0,401.1 388.4,412.9 394.8,421.2 401.2,425.2 407.6,431.0 414.0,435.1 420.4,439.3 426.8,446.2 433.2,454.7 439.6,469.0 446.0,478.6 452.5,487.0 458.9,493.9 465.3,499.2 471.7,508.2 478.1,516.2 484.5,524.6 490.9,535.3 497.3,543.7 503.7,552.9 510.1,566.2 516.5,567.0 523.0,571.2 529.4,575.1 535.8,582.0 542.2,580.3 548.6,578.9 555.0,575.6 561.4,572.7 567.8,579.8 574.2,578.4 580.6,580.3 587.0,580.2 593.5,573.5 599.9,574.3 606.3,572.7 612.7,579.9 619.1,572.6 625.5,572.3 631.9,578.8 638.3,576.7 644.7,571.4 651.1,577.5 657.5,577.6 664.0,575.2 670.4,570.7 676.8,576.9" fill="none" stroke="#f5b57a" stroke-width="0.8"/>
<circle cx="132.0" cy="249.7" r="2.75" fill="#ff8000" stroke="#e87400" stroke-width="0.5"/>
<circle cx="138.4" cy="248.2" r="2.75" fill="#ff8000" stroke="#e87400" stroke-width="0.5"/>
<circle cx="144.8" cy="249.8" r="2.75" fill="#ff8000" stroke="#e87400" stroke-width="0.5"/>
<circle cx="151.2" cy="249.1" r="2.75" fill="#ff8000" stroke="#e87400" stroke-width="0.5"/>
<circle cx="157.6" cy="249.7" r="2.75" fill="#ff8000" stroke="#e87400" stroke-width="0.5"/>
<circle cx="164.0" cy="249.1" r="2.75" fill="#ff8000" stroke="#e87400" stroke-width="0.5"/>
<circle cx="170.5" cy="249.7" r="2.75" fill="#ff8000" stroke="#e87400" stroke-width="0.5"/>
<circle cx="176.9" cy="251.1" r="2.75" fill="#ff8000" stroke="#e87400" stroke-width="0.5"/>
<circle cx="183.3" cy="252.7" r="2.75" fill="#ff8000" stroke="#e87400" stroke-width="0.5"/>
<circle cx="189.7" cy="253.2" r="2.75" fill="#ff8000" stroke="#e87400" stroke-width="0.5"/>
<circle cx="196.1" cy="255.2" r="2.75" fill="#ff8000" stroke="#e87400" stroke-width="0.5"/>
<circle cx="202.5" cy="257.5" r="2.75" fill="#ff8000" stroke="#e87400" stroke-width="0.5"/>
<circle cx="208.9" cy="257.3" r="2.75" fill="#ff8000" stroke="#e87400" stroke-width="0.5"/>
<circle cx="215.3" cy="259.0" r="2.75" fill="#ff8000" stroke="#e87400" stroke-width="0.5"/>
<circle cx="221.7" cy="262.6" r="2.75" fill="#ff8000" stroke="#e87400" stroke-width="0.5"/>
<circle cx="228.1" cy="263.5" r="2.75" fill="#ff8000" stroke="#e87400" stroke-width="0.5"/>
<circle cx="234.5" cy="265.8" r="2.75" fill="#ff8000" stroke="#e87400" stroke-width="0.5"/>
<circle cx="241.0" cy="267.6" r="2.75" fill="#ff8000" stroke="#e87400" stroke-width="0.5"/>
<circle cx="247.4" cy="271.2" r="2.75" fill="#ff8000" stroke="#e87400" stroke-width="0.5"/>
<circle cx="253.8" cy="271.2" r="2.75" fill="#ff8000" stroke="#e87400" stroke-width="0.5"/>
<circle cx="260.2" cy="275.6" r="2.75" fill="#ff8000" stroke="#e87400" stroke-width="0.5"/>
<circle cx="266.6" cy="279.1" r="2.75" fill="#ff8000" stroke="#e87400" stroke-width="0.5"/>
<circle cx="273.0" cy="280.2" r="2.75" fill="#ff8000" stroke="#e87400" stroke-width="0.5"/>
<circle cx="279.4" cy="284.0" r="2.75" fill="#ff8000" stroke="#e87400" stroke-width="0.5"/>
<circle cx="285.8" cy="288.2" r="2.75" fill="#ff8000" stroke="#e87400" stroke-width="0.5"/>
<circle cx="292.2" cy="290.9" r="2.75" fill="#ff8000" stroke="#e87400" stroke-width="0.5"/>
<circle cx="298.6" cy="293.5" r="2.75" fill="#ff8000" stroke="#e87400" stroke-width="0.5"/>
<circle cx="305.0" cy="298.1" r="2.75" fill="#ff8000" stroke="#e87400" stroke-width="0.5"/>
<circle cx="311.5" cy="304.9" r="2.75" fill="#ff8000" stroke="#e87400" stroke-width="0.5"/>
<circle cx="317.9" cy="310.2" r="2.75" fill="#ff8000" stroke="#e87400" stroke-width="0.5"/>
<circle cx="324.3" cy="315.1" r="2.75" fill="#ff8000" stroke="#e87400" stroke-width="0.5"/>
<circle cx="330.7" cy="318.4" r="2.75" fill="#ff8000" stroke="#e87400" stroke-width="0.5"/>
<circle cx="337.1" cy="328.1" r="2.75" fill="#ff8000" stroke="#e87400" stroke-width="0.5"/>
<circle cx="343.5" cy="338.2" r="2.75" fill="#ff8000" stroke="#e87400" stroke-width="0.5"/>
<circle cx="349.9" cy="348.4" r="2.75" fill="#ff8000" stroke="#e87400" stroke-width="0.5"/>
<circle cx="356.3" cy="357.0" r="2.75" fill="#ff8000" stroke="#e87400" stroke-width="0.5"/>
<circle cx="362.7" cy="366.8" r="2.75" fill="#ff8000" stroke="#e87400" stroke-width="0.5"/>
<circle cx="369.1" cy="376.9" r="2.75" fill="#ff8000" stroke="#e87400" stroke-width="0.5"/>
<circle cx="375.5" cy="391.7" r="2.75" fill="#ff8000" stroke="#e87400" stroke-width="0.5"/>
<circle cx="382.0" cy="401.1" r="2.75" fill="#ff8000" stroke="#e87400" stroke-width="0.5"/>
<circle cx="388.4" cy="412.9" r="2.75" fill="#ff8000" stroke="#e87400" stroke-width="0.5"/>
<circle cx="394.8" cy="421.2" r="2.75" fill="#ff8000" stroke="#e87400" stroke-width="0.5"/>
<circle cx="401.2" cy="425.2" r="2.75" fill="#ff8000" stroke="#e87400" stroke-width="0.5"/>
<circle cx="407.6" cy="431.0" r="2.75" fill="#ff8000" stroke="#e87400" stroke-width="0.5"/>
<circle cx="414.0" cy="435.1" r="2.75" fill="#ff8000" stroke="#e87400" stroke-width="0.5"/>
<circle cx="420.4" cy="439.3" r="2.75" fill="#ff8000" stroke="#e87400" stroke-width="0.5"/>
<circle cx="426.8" cy="446.2" r="2.75" fill="#ff8000" stroke="#e87400" stroke-width="0.5"/>
<circle cx="433.2" cy="454.7" r="2.75" fill="#ff8000" stroke="#e87400" stroke-width="0.5"/>
<circle cx="439.6" cy="469.0" r="2.75" fill="#ff8000" stroke="#e87400" stroke-width="0.5"/>
<circle cx="446.0" cy="478.6" r="2.75" fill="#ff8000" stroke="#e87400" stroke-width="0.5"/>
<circle cx="452.5" cy="487.0" r="2.75" fill="#ff8000" stroke="#e87400" stroke-width="0.5"/>
<circle cx="458.9" cy="493.9" r="2.75" fill="#ff8000" stroke="#e87400" stroke-width="0.5"/>
<circle cx="465.3" cy="499.2" r="2.75" fill="#ff8000" stroke="#e87400" stroke-width="0.5"/>
<circle cx="471.7" cy="508.2" r="2.75" fill="#ff8000" stroke="#e87400" stroke-width="0.5"/>
<circle cx="478.1" cy="516.2" r="2.75" fill="#ff8000" stroke="#e87400" stroke-width="0.5"/>
<circle cx="484.5" cy="524.6" r="2.75" fill="#ff8000" stroke="#e87400" stroke-width="0.5"/>
<circle cx="490.9" cy="535.3" r="2.75" fill="#ff8000" stroke="#e87400" stroke-width="0.5"/>
<circle cx="497.3" cy="543.7" r="2.75" fill="#ff8000" stroke="#e87400" stroke-width="0.5"/>
<circle cx="503.7" cy="552.9" r="2.75" fill="#ff8000" stroke="#e87400" stroke-width="0.5"/>
<circle cx="510.1" cy="566.2" r="2.75" fill="#ff8000" stroke="#e87400" stroke-width="0.5"/>
<circle cx="516.5" cy="567.0" r="2.75" fill="#ff8000" stroke="#e87400" stroke-width="0.5"/>
<circle cx="523.0" cy="571.2" r="2.75" fill="#ff8000" stroke="#e87400" stroke-width="0.5"/>
<circle cx="529.4" cy="575.1" r="2.75" fill="#ff8000" stroke="#e87400" stroke-width="0.5"/>
<circle cx="535.8" cy="582.0" r="2.75" fill="#ff8000" stroke="#e87400" stroke-width="0.5"/>
<circle cx="542.2" cy="580.3" r="2.75" fill="#ff8000" stroke="#e87400" stroke-width="0.5"/>
<circle cx="548.6" cy="578.9" r="2.75" fill="#ff8000" stroke="#e87400" stroke-width="0.5"/>
<circle cx="555.0" cy="575.6" r="2.75" fill="#ff8000" stroke="#e87400" stroke-width="0.5"/>
<circle cx="561.4" cy="572.7" r="2.75" fill="#ff8000" stroke="#e87400" stroke-width="0.5"/>
<circle cx="567.8" cy="579.8" r="2.75" fill="#ff8000" stroke="#e87400" stroke-width="0.5"/>
<circle cx="574.2" cy="578.4" r="2.75" fill="#ff8000" stroke="#e87400" stroke-width="0.5"/>
<circle cx="580.6" cy="580.3" r="2.75" fill="#ff8000" stroke="#e87400" stroke-width="0.5"/>
<circle cx="587.0" cy="580.2" r="2.75" fill="#ff8000" stroke="#e87400" stroke-width="0.5"/>
<circle cx="593.5" cy="573.5" r="2.75" fill="#ff8000" stroke="#e87400" stroke-width="0.5"/>
<circle cx="599.9" cy="574.3" r="2.75" fill="#ff8000" stroke="#e87400" stroke-width="0.5"/>
<circle cx="606.3" cy="572.7" r="2.75" fill="#ff8000" stroke="#e87400" stroke-width="0.5"/>
<circle cx="612.7" cy="579.9" r="2.75" fill="#ff8000" stroke="#e87400" stroke-width="0.5"/>
<circle cx="619.1" cy="572.6" r="2.75" fill="#ff8000" stroke="#e87400" stroke-width="0.5"/>
<circle cx="625.5" cy="572.3" r="2.75" fill="#ff8000" stroke="#e87400" stroke-width="0.5"/>
<circle cx="631.9" cy="578.8" r="2.75" fill="#ff8000" stroke="#e87400" stroke-width="0.5"/>
<circle cx="638.3" cy="576.7" r="2.75" fill="#ff8000" stroke="#e87400" stroke-width="0.5"/>
<circle cx="644.7" cy="571.4" r="2.75" fill="#ff8000" stroke="#e87400" stroke-width="0.5"/>
<circle cx="651.1" cy="577.5" r="2.75" fill="#ff8000" stroke="#e87400" stroke-width="0.5"/>
<circle cx="657.5" cy="577.6" r="2.75" fill="#ff8000" stroke="#e87400" stroke-width="0.5"/>
<circle cx="664.0" cy="575.2" r="2.75" fill="#ff8000" stroke="#e87400" stroke-width="0.5"/>
<circle cx="670.4" cy="570.7" r="2.75" fill="#ff8000" stroke="#e87400" stroke-width="0.5"/>
<circle cx="676.8" cy="576.9" r="2.75" fill="#ff8000" stroke="#e87400" stroke-width="0.5"/>
<polyline points="132.0,261.8 138.4,262.4 144.8,263.7 151.2,263.4 157.6,263.7 164.0,261.9 170.5,262.6 176.9,263.8 183.3,263.1 189.7,266.6 196.1,265.4 202.5,266.1 208.9,267.0 215.3,267.6 221.7,270.0 228.1,269.9 234.5,270.6 241.0,271.1 247.4,270.8 253.8,273.3 260.2,276.6 266.6,278.1 273.0,280.0 279.4,281.8 285.8,285.2 292.2,288.3 298.6,294.8 305.0,299.7 311.5,308.5 317.9,316.5 324.3,320.4 330.7,323.9 337.1,332.8 343.5,338.8 349.9,348.9 356.3,357.0 362.7,365.1 369.1,378.0 375.5,391.2 382.0,403.0 388.4,414.1 394.8,421.8 401.2,426.9 407.6,433.7 414.0,437.5 420.4,444.0 426.8,450.6 433.2,463.9 439.6,475.8 446.0,484.7 452.5,490.9 458.9,499.6 465.3,504.9 471.7,514.9 478.1,524.5 484.5,532.5 490.9,544.4 497.3,550.4 503.7,560.6 510.1,563.3 516.5,575.1 523.0,575.8 529.4,582.6 535.8,579.0 542.2,579.8 548.6,580.5 555.0,577.4 561.4,577.1 567.8,583.2 574.2,576.1 580.6,583.6 587.0,576.4 593.5,575.1 599.9,574.9 606.3,581.6 612.7,583.1 619.1,577.6 625.5,579.9 631.9,575.7 638.3,582.0 644.7,579.7 651.1,574.2 657.5,573.0 664.0,579.3 670.4,572.6 676.8,580.4" fill="none" stroke="#f5b57a" stroke-width="0.8"/>
<circle cx="132.0" cy="261.8" r="2.75" fill="#ff8000" stroke="#e87400" stroke-width="0.5"/>
<circle cx="138.4" cy="262.4" r="2.75" fill="#ff8000" stroke="#e87400" stroke-width="0.5"/>
<circle cx="144.8" cy="263.7" r="2.75" fill="#ff8000" stroke="#e87400" stroke-width="0.5"/>
<circle cx="151.2" cy="263.4" r="2.75" fill="#ff8000" stroke="#e87400" stroke-width="0.5"/>
<circle cx="157.6" cy="263.7" r="2.75" fill="#ff8000" stroke="#e87400" stroke-width="0.5"/>
<circle cx="164.0" cy="261.9" r="2.75" fill="#ff8000" stroke="#e87400" stroke-width="0.5"/>
<circle cx="170.5" cy="262.6" r="2.75" fill="#ff8000" stroke="#e87400" stroke-width="0.5"/>
<circle cx="176.9" cy="263.8" r="2.75" fill="#ff8000" stroke="#e87400" stroke-width="0.5"/>
<circle cx="183.3" cy="263.1" r="2.75" fill="#ff8000" stroke="#e87400" stroke-width="0.5"/>
<circle cx="189.7" cy="266.6" r="2.75" fill="#ff8000" stroke="#e87400" stroke-width="0.5"/>
<circle cx="196.1" cy="265.4" r="2.75" fill="#ff8000" stroke="#e87400" stroke-width="0.5"/>
<circle cx="202.5" cy="266.1" r="2.75" fill="#ff8000" stroke="#e87400" stroke-width="0.5"/>
<circle cx="208.9" cy="267.0" r="2.75" fill="#ff8000" stroke="#e87400" stroke-width="0.5"/>
<circle cx="215.3" cy="267.6" r="2.75" fill="#ff8000" stroke="#e87400" stroke-width="0.5"/>
<circle cx="221.7" cy="270.0" r="2.75" fill="#ff8000" stroke="#e87400" stroke-width="0.5"/>
<circle cx="228.1" cy="269.9" r="2.75" fill="#ff8000" stroke="#e87400" stroke-width="0.5"/>
<circle cx="234.5" cy="270.6" r="2.75" fill="#ff8000" stroke="#e87400" stroke-width="0.5"/>
<circle cx="241.0" cy="271.1" r="2.75" fill="#ff8000" stroke="#e87400" stroke-width="0.5"/>
<circle cx="247.4" cy="270.8" r="2.75" fill="#ff8000" stroke="#e87400" stroke-width="0.5"/>
<circle cx="253.8" cy="273.3" r="2.75" fill="#ff8000" stroke="#e87400" stroke-width="0.5"/>
<circle cx="260.2" cy="276.6" r="2.75" fill="#ff8000" stroke="#e87400" stroke-width="0.5"/>
<circle cx="266.6" cy="278.1" r="2.75" fill="#ff8000" stroke="#e87400" stroke-width="0.5"/>
<circle cx="273.0" cy="280.0" r="2.75" fill="#ff8000" stroke="#e87400" stroke-width="0.5"/>
<circle cx="279.4" cy="281.8" r="2.75" fill="#ff8000" stroke="#e87400" stroke-width="0.5"/>
<circle cx="285.8" cy="285.2" r="2.75" fill="#ff8000" stroke="#e87400" stroke-width="0.5"/>
<circle cx="292.2" cy="288.3" r="2.75" fill="#ff8000" stroke="#e87400" stroke-width="0.5"/>
<circle cx="298.6" cy="294.8" r="2.75" fill="#ff8000" stroke="#e87400" stroke-width="0.5"/>
<circle cx="305.0" cy="299.7" r="2.75" fill="#ff8000" stroke="#e87400" stroke-width="0.5"/>
<circle cx="311.5" cy="308.5" r="2.75" fill="#ff8000" stroke="#e87400" stroke-width="0.5"/>
<circle cx="317.9" cy="316.5" r="2.75" fill="#ff8000" stroke="#e87400" stroke-width="0.5"/>
<circle cx="324.3" cy="320.4" r="2.75" fill="#ff8000" stroke="#e87400" stroke-width="0.5"/>
<circle cx="330.7" cy="323.9" r="2.75" fill="#ff8000" stroke="#e87400" stroke-width="0.5"/>
<circle cx="337.1" cy="332.8" r="2.75" fill="#ff8000" stroke="#e87400" stroke-width="0.5"/>
<circle cx="343.5" cy="338.8" r="2.75" fill="#ff8000" stroke="#e87400" stroke-width="0.5"/>
<circle cx="349.9" cy="348.9" r="2.75" fill="#ff8000" stroke="#e87400" stroke-width="0.5"/>
<circle cx="356.3" cy="357.0" r="2.75" fill="#ff8000" stroke="#e87400" stroke-width="0.5"/>
<circle cx="362.7" cy="365.1" r="2.75" fill="#ff8000" stroke="#e87400" stroke-width="0.5"/>
<circle cx="369.1" cy="378.0" r="2.75" fill="#ff8000" stroke="#e87400" stroke-width="0.5"/>
<circle cx="375.5" cy="391.2" r="2.75" fill="#ff8000" stroke="#e87400" stroke-width="0.5"/>
<circle cx="382.0" cy="403.0" r="2.75" fill="#ff8000" stroke="#e87400" stroke-width="0.5"/>
<circle cx="388.4" cy="414.1" r="2.75" fill="#ff8000" stroke="#e87400" stroke-width="0.5"/>
<circle cx="394.8" cy="421.8" r="2.75" fill="#ff8000" stroke="#e87400" stroke-width="0.5"/>
<circle cx="401.2" cy="426.9" r="2.75" fill="#ff8000" stroke="#e87400" stroke-width="0.5"/>
<circle cx="407.6" cy="433.7" r="2.75" fill="#ff8000" stroke="#e87400" stroke-width="0.5"/>
<circle cx="414.0" cy="437.5" r="2.75" fill="#ff8000" stroke="#e87400" stroke-width="0.5"/>
<circle cx="420.4" cy="444.0" r="2.75" fill="#ff8000" stroke="#e87400" stroke-width="0.5"/>
<circle cx="426.8" cy="450.6" r="2.75" fill="#ff8000" stroke="#e87400" stroke-width="0.5"/>
<circle cx="433.2" cy="463.9" r="2.75" fill="#ff8000" stroke="#e87400" stroke-width="0.5"/>
<circle cx="439.6" cy="475.8" r="2.75" fill="#ff8000" stroke="#e87400" stroke-width="0.5"/>
<circle cx="446.0" cy="484.7" r="2.75" fill="#ff8000" stroke="#e87400" stroke-width="0.5"/>
<circle cx="452.5" cy="490.9" r="2.75" fill="#ff8000" stroke="#e87400" stroke-width="0.5"/>
<circle cx="458.9" cy="499.6" r="2.75" fill="#ff8000" stroke="#e87400" stroke-width="0.5"/>
<circle cx="465.3" cy="504.9" r="2.75" fill="#ff8000" stroke="#e87400" stroke-width="0.5"/>
<circle cx="471.7" cy="514.9" r="2.75" fill="#ff8000" stroke="#e87400" stroke-width="0.5"/>
<circle cx="478.1" cy="524.5" r="2.75" fill="#ff8000" stroke="#e87400" stroke-width="0.5"/>
<circle cx="484.5" cy="532.5" r="2.75" fill="#ff8000" stroke="#e87400" stroke-width="0.5"/>
<circle cx="490.9" cy="544.4" r="2.75" fill="#ff8000" stroke="#e87400" stroke-width="0.5"/>
<circle cx="497.3" cy="550.4" r="2.75" fill="#ff8000" stroke="#e87400" stroke-width="0.5"/>
<circle cx="503.7" cy="560.6" r="2.75" fill="#ff8000" stroke="#e87400" stroke-width="0.5"/>
<circle cx="510.1" cy="563.3" r="2.75" fill="#ff8000" stroke="#e87400" stroke-width="0.5"/>
<circle cx="516.5" cy="575.1" r="2.75" fill="#ff8000" stroke="#e87400" stroke-width="0.5"/>
<circle cx="523.0" cy="575.8" r="2.75" fill="#ff8000" stroke="#e87400" stroke-width="0.5"/>
<circle cx="529.4" cy="582.6" r="2.75" fill="#ff8000" stroke="#e87400" stroke-width="0.5"/>
<circle cx="535.8" cy="579.0" r="2.75" fill="#ff8000" stroke="#e87400" stroke-width="0.5"/>
<circle cx="542.2" cy="579.8" r="2.75" fill="#ff8000" stroke="#e87400" stroke-width="0.5"/>
<circle cx="548.6" cy="580.5" r="2.75" fill="#ff8000" stroke="#e87400" stroke-width="0.5"/>
<circle cx="555.0" cy="577.4" r="2.75" fill="#ff8000" stroke="#e87400" stroke-width="0.5"/>
<circle cx="561.4" cy="577.1" r="2.75" fill="#ff8000" stroke="#e87400" stroke-width="0.5"/>
<circle cx="567.8" cy="583.2" r="2.75" fill="#ff8000" stroke="#e87400" stroke-width="0.5"/>
<circle cx="574.2" cy="576.1" r="2.75" fill="#ff8000" stroke="#e87400" stroke-width="0.5"/>
<circle cx="580.6" cy="583.6" r="2.75" fill="#ff8000" stroke="#e87400" stroke-width="0.5"/>
<circle cx="587.0" cy="576.4" r="2.75" fill="#ff8000" stroke="#e87400" stroke-width="0.5"/>
<circle cx="593.5" cy="575.1" r="2.75" fill="#ff8000" stroke="#e87400" stroke-width="0.5"/>
<circle cx="599.9" cy="574.9" r="2.75" fill="#ff8000" stroke="#e87400" stroke-width="0.5"/>
<circle cx="606.3" cy="581.6" r="2.75" fill="#ff8000" stroke="#e87400" stroke-width="0.5"/>
<circle cx="612.7" cy="583.1" r="2.75" fill="#ff8000" stroke="#e87400" stroke-width="0.5"/>
<circle cx="619.1" cy="577.6" r="2.75" fill="#ff8000" stroke="#e87400" stroke-width="0.5"/>
<circle cx="625.5" cy="579.9" r="2.75" fill="#ff8000" stroke="#e87400" stroke-width="0.5"/>
<circle cx="631.9" cy="575.7" r="2.75" fill="#ff8000" stroke="#e87400" stroke-width="0.5"/>
<circle cx="638.3" cy="582.0" r="2.75" fill="#ff8000" stroke="#e87400" stroke-width="0.5"/>
<circle cx="644.7" cy="579.7" r="2.75" fill="#ff8000" stroke="#e87400" stroke-width="0.5"/>
<circle cx="651.1" cy="574.2" r="2.75" fill="#ff8000" stroke="#e87400" stroke-width="0.5"/>
<circle cx="657.5" cy="573.0" r="2.75" fill="#ff8000" stroke="#e87400" stroke-width="0.5"/>
<circle cx="664.0" cy="579.3" r="2.75" fill="#ff8000" stroke="#e87400" stroke-width="0.5"/>
<circle cx="670.4" cy="572.6" r="2.75" fill="#ff8000" stroke="#e87400" stroke-width="0.5"/>
<circle cx="676.8" cy="580.4" r="2.75" fill="#ff8000" stroke="#e87400" stroke-width="0.5"/>
<polyline points="132.0,270.4 138.4,270.6 144.8,271.9 151.2,271.5 157.6,272.5 164.0,271.7 170.5,274.2 176.9,273.6 183.3,276.0 189.7,275.1 196.1,277.8 202.5,279.1 208.9,278.2 215.3,278.0 221.7,279.7 228.1,280.7 234.5,279.9 241.0,281.1 247.4,283.9 253.8,285.7 260.2,287.1 266.6,287.4 273.0,290.7 279.4,291.7 285.8,296.3 292.2,297.6 298.6,303.0 305.0,310.4 311.5,317.5 317.9,320.3 324.3,323.7 330.7,330.3 337.1,337.8 343.5,344.7 349.9,354.4 356.3,361.0 362.7,372.6 369.1,384.7 375.5,395.5 382.0,405.0 388.4,415.8 394.8,423.4 401.2,429.8 407.6,437.5 414.0,443.4 420.4,448.1 426.8,464.0 433.2,474.2 439.6,484.0 446.0,493.1 452.5,499.5 458.9,509.4 465.3,516.9 471.7,523.8 478.1,534.2 484.5,544.1 490.9,551.2 497.3,560.2 503.7,563.1 510.1,574.0 516.5,573.9 523.0,575.7 529.4,580.6 535.8,576.2 542.2,581.4 548.6,584.5 555.0,582.9 561.4,581.4 567.8,577.0 574.2,581.6 580.6,577.3 587.0,582.6 593.5,577.3 599.9,581.6 606.3,579.2 612.7,579.3 619.1,582.0 625.5,576.9 631.9,576.8 638.3,584.3 644.7,578.1 651.1,583.0 657.5,583.2 664.0,579.1 670.4,575.6 676.8,574.9" fill="none" stroke="#f5b57a" stroke-width="0.8"/>
<circle cx="132.0" cy="270.4" r="2.75" fill="#ff8000" stroke="#e87400" stroke-width="0.5"/>
<circle cx="138.4" cy="270.6" r="2.75" fill="#ff8000" stroke="#e87400" stroke-width="0.5"/>
<circle cx="144.8" cy="271.9" r="2.75" fill="#ff8000" stroke="#e87400" stroke-width="0.5"/>
<circle cx="151.2" cy="271.5" r="2.75" fill="#ff8000" stroke="#e87400" stroke-width="0.5"/>
<circle cx="157.6" cy="272.5" r="2.75" fill="#ff8000" stroke="#e87400" stroke-width="0.5"/>
<circle cx="164.0" cy="271.7" r="2.75" fill="#ff8000" stroke="#e87400" stroke-width="0.5"/>
<circle cx="170.5" cy="274.2" r="2.75" fill="#ff8000" stroke="#e87400" stroke-width="0.5"/>
<circle cx="176.9" cy="273.6" r="2.75" fill="#ff8000" stroke="#e87400" stroke-width="0.5"/>
<circle cx="183.3" cy="276.0" r="2.75" fill="#ff8000" stroke="#e87400" stroke-width="0.5"/>
<circle cx="189.7" cy="275.1" r="2.75" fill="#ff8000" stroke="#e87400" stroke-width="0.5"/>
<circle cx="196.1" cy="277.8" r="2.75" fill="#ff8000" stroke="#e87400" stroke-width="0.5"/>
<circle cx="202.5" cy="279.1" r="2.75" fill="#ff8000" stroke="#e87400" stroke-width="0.5"/>
<circle cx="208.9" cy="278.2" r="2.75" fill="#ff8000" stroke="#e87400" stroke-width="0.5"/>
<circle cx="215.3" cy="278.0" r="2.75" fill="#ff8000" stroke="#e87400" stroke-width="0.5"/>
<circle cx="221.7" cy="279.7" r="2.75" fill="#ff8000" stroke="#e87400" stroke-width="0.5"/>
<circle cx="228.1" cy="280.7" r="2.75" fill="#ff8000" stroke="#e87400" stroke-width="0.5"/>
<circle cx="234.5" cy="279.9" r="2.75" fill="#ff8000" stroke="#e87400" stroke-width="0.5"/>
<circle cx="241.0" cy="281.1" r="2.75" fill="#ff8000" stroke="#e87400" stroke-width="0.5"/>
<circle cx="247.4" cy="283.9" r="2.75" fill="#ff8000" stroke="#e87400" stroke-width="0.5"/>
<circle cx="253.8" cy="285.7" r="2.75" fill="#ff8000" stroke="#e87400" stroke-width="0.5"/>
<circle cx="260.2" cy="287.1" r="2.75" fill="#ff8000" stroke="#e87400" stroke-width="0.5"/>
<circle cx="266.6" cy="287.4" r="2.75" fill="#ff8000" stroke="#e87400" stroke-width="0.5"/>
<circle cx="273.0" cy="290.7" r="2.75" fill="#ff8000" stroke="#e87400" stroke-width="0.5"/>
<circle cx="279.4" cy="291.7" r="2.75" fill="#ff8000" stroke="#e87400" stroke-width="0.5"/>
<circle cx="285.8" cy="296.3" r="2.75" fill="#ff8000" stroke="#e87400" stroke-width="0.5"/>
<circle cx="292.2" cy="297.6" r="2.75" fill="#ff8000" stroke="#e87400" stroke-width="0.5"/>
<circle cx="298.6" cy="303.0" r="2.75" fill="#ff8000" stroke="#e87400" stroke-width="0.5"/>
<circle cx="305.0" cy="310.4" r="2.75" fill="#ff8000" stroke="#e87400" stroke-width="0.5"/>
<circle cx="311.5" cy="317.5" r="2.75" fill="#ff8000" stroke="#e87400" stroke-width="0.5"/>
<circle cx="317.9" cy="320.3" r="2.75" fill="#ff8000" stroke="#e87400" stroke-width="0.5"/>
<circle cx="324.3" cy="323.7" r="2.75" fill="#ff8000" stroke="#e87400" stroke-width="0.5"/>
<circle cx="330.7" cy="330.3" r="2.75" fill="#ff8000" stroke="#e87400" stroke-width="0.5"/>
<circle cx="337.1" cy="337.8" r="2.75" fill="#ff8000" stroke="#e87400" stroke-width="0.5"/>
<circle cx="343.5" cy="344.7" r="2.75" fill="#ff8000" stroke="#e87400" stroke-width="0.5"/>
<circle cx="349.9" cy="354.4" r="2.75" fill="#ff8000" stroke="#e87400" stroke-width="0.5"/>
<circle cx="356.3" cy="361.0" r="2.75" fill="#ff8000" stroke="#e87400" stroke-width="0.5"/>
<circle cx="362.7" cy="372.6" r="2.75" fill="#ff8000" stroke="#e87400" stroke-width="0.5"/>
<circle cx="369.1" cy="384.7" r="2.75" fill="#ff8000" stroke="#e87400" stroke-width="0.5"/>
<circle cx="375.5" cy="395.5" r="2.75" fill="#ff8000" stroke="#e87400" stroke-width="0.5"/>
<circle cx="382.0" cy="405.0" r="2.75" fill="#ff8000" stroke="#e87400" stroke-width="0.5"/>
<circle cx="388.4" cy="415.8" r="2.75" fill="#ff8000" stroke="#e87400" stroke-width="0.5"/>
<circle cx="394.8" cy="423.4" r="2.75" fill="#ff8000" stroke="#e87400" stroke-width="0.5"/>
<circle cx="401.2" cy="429.8" r="2.75" fill="#ff8000" stroke="#e87400" stroke-width="0.5"/>
<circle cx="407.6" cy="437.5" r="2.75" fill="#ff8000" stroke="#e87400" stroke-width="0.5"/>
<circle cx="414.0" cy="443.4" r="2.75" fill="#ff8000" stroke="#e87400" stroke-width="0.5"/>
<circle cx="420.4" cy="448.1" r="2.75" fill="#ff8000" stroke="#e87400" stroke-width="0.5"/>
<circle cx="426.8" cy="464.0" r="2.75" fill="#ff8000" stroke="#e87400" stroke-width="0.5"/>
<circle cx="433.2" cy="474.2" r="2.75" fill="#ff8000" stroke="#e87400" stroke-width="0.5"/>
<circle cx="439.6" cy="484.0" r="2.75" fill="#ff8000" stroke="#e87400" stroke-width="0.5"/>
<circle cx="446.0" cy="493.1" r="2.75" fill="#ff8000" stroke="#e87400" stroke-width="0.5"/>
<circle cx="452.5" cy="499.5" r="2.75" fill="#ff8000" stroke="#e87400" stroke-width="0.5"/>
<circle cx="458.9" cy="509.4" r="2.75" fill="#ff8000" stroke="#e87400" stroke-width="0.5"/>
<circle cx="465.3" cy="516.9" r="2.75" fill="#ff8000" stroke="#e87400" stroke-width="0.5"/>
<circle cx="471.7" cy="523.8" r="2.75" fill="#ff8000" stroke="#e87400" stroke-width="0.5"/>
<circle cx="478.1" cy="534.2" r="2.75" fill="#ff8000" stroke="#e87400" stroke-width="0.5"/>
<circle cx="484.5" cy="544.1" r="2.75" fill="#ff8000" stroke="#e87400" stroke-width="0.5"/>
<circle cx="490.9" cy="551.2" r="2.75" fill="#ff8000" stroke="#e87400" stroke-width="0.5"/>
<circle cx="497.3" cy="560.2" r="2.75" fill="#ff8000" stroke="#e87400" stroke-width="0.5"/>
<circle cx="503.7" cy="563.1" r="2.75" fill="#ff8000" stroke="#e87400" stroke-width="0.5"/>
<circle cx="510.1" cy="574.0" r="2.75" fill="#ff8000" stroke="#e87400" stroke-width="0.5"/>
<circle cx="516.5" cy="573.9" r="2.75" fill="#ff8000" stroke="#e87400" stroke-width="0.5"/>
<circle cx="523.0" cy="575.7" r="2.75" fill="#ff8000" stroke="#e87400" stroke-width="0.5"/>
<circle cx="529.4" cy="580.6" r="2.75" fill="#ff8000" stroke="#e87400" stroke-width="0.5"/>
<circle cx="535.8" cy="576.2" r="2.75" fill="#ff8000" stroke="#e87400" stroke-width="0.5"/>
<circle cx="542.2" cy="581.4" r="2.75" fill="#ff8000" stroke="#e87400" stroke-width="0.5"/>
<circle cx="548.6" cy="584.5" r="2.75" fill="#ff8000" stroke="#e87400" stroke-width="0.5"/>
<circle cx="555.0" cy="582.9" r="2.75" fill="#ff8000" stroke="#e87400" stroke-width="0.5"/>
<circle cx="561.4" cy="581.4" r="2.75" fill="#ff8000" stroke="#e87400" stroke-width="0.5"/>
<circle cx="567.8" cy="577.0" r="2.75" fill="#ff8000" stroke="#e87400" stroke-width="0.5"/>
<circle cx="574.2" cy="581.6" r="2.75" fill="#ff8000" stroke="#e87400" stroke-width="0.5"/>
<circle cx="580.6" cy="577.3" r="2.75" fill="#ff8000" stroke="#e87400" stroke-width="0.5"/>
<circle cx="587.0" cy="582.6" r="2.75" fill="#ff8000" stroke="#e87400" stroke-width="0.5"/>
<circle cx="593.5" cy="577.3" r="2.75" fill="#ff8000" stroke="#e87400" stroke-width="0.5"/>
<circle cx="599.9" cy="581.6" r="2.75" fill="#ff8000" stroke="#e87400" stroke-width="0.5"/>
<circle cx="606.3" cy="579.2" r="2.75" fill="#ff8000" stroke="#e87400" stroke-width="0.5"/>
<circle cx="612.7" cy="579.3" r="2.75" fill="#ff8000" stroke="#e87400" stroke-width="0.5"/>
<circle cx="619.1" cy="582.0" r="2.75" fill="#ff8000" stroke="#e87400" stroke-width="0.5"/>
<circle cx="625.5" cy="576.9" r="2.75" fill="#ff8000" stroke="#e87400" stroke-width="0.5"/>
<circle cx="631.9" cy="576.8" r="2.75" fill="#ff8000" stroke="#e87400" stroke-width="0.5"/>
<circle cx="638.3" cy="584.3" r="2.75" fill="#ff8000" stroke="#e87400" stroke-width="0.5"/>
<circle cx="644.7" cy="578.1" r="2.75" fill="#ff8000" stroke="#e87400" stroke-width="0.5"/>
<circle cx="651.1" cy="583.0" r="2.75" fill="#ff8000" stroke="#e87400" stroke-width="0.5"/>
<circle cx="657.5" cy="583.2" r="2.75" fill="#ff8000" stroke="#e87400" stroke-width="0.5"/>
<circle cx="664.0" cy="579.1" r="2.75" fill="#ff8000" stroke="#e87400" stroke-width="0.5"/>
<circle cx="670.4" cy="575.6" r="2.75" fill="#ff8000" stroke="#e87400" stroke-width="0.5"/>
<circle cx="676.8" cy="574.9" r="2.75" fill="#ff8000" stroke="#e87400" stroke-width="0.5"/>
<polyline points="132.0,292.1 138.4,290.3 144.8,291.7 151.2,292.1 157.6,291.3 164.0,292.6 170.5,292.1 176.9,293.1 183.3,293.0 189.7,292.6 196.1,292.2 202.5,293.5 208.9,293.7 215.3,294.2 221.7,295.3 228.1,298.1 234.5,298.1 241.0,300.1 247.4,298.7 253.8,302.5 260.2,302.5 266.6,304.6 273.0,305.2 279.4,308.4 285.8,310.0 292.2,314.4 298.6,316.1 305.0,319.9 311.5,323.0 317.9,327.7 324.3,332.0 330.7,335.6 337.1,343.4 343.5,347.4 349.9,355.9 356.3,362.3 362.7,372.0 369.1,381.6 375.5,393.7 382.0,405.2 388.4,419.7 394.8,427.6 401.2,435.5 407.6,439.8 414.0,448.3 420.4,460.4 426.8,472.7 433.2,480.7 439.6,490.9 446.0,498.7 452.5,508.8 458.9,514.6 465.3,525.6 471.7,533.8 478.1,543.4 484.5,550.7 490.9,559.2 497.3,567.4 503.7,573.3 510.1,572.9 516.5,578.6 523.0,577.1 529.4,578.2 535.8,579.2 542.2,581.0 548.6,587.7 555.0,587.7 561.4,585.5 567.8,582.3 574.2,582.3 580.6,585.0 587.0,586.1 593.5,584.4 599.9,583.1 606.3,578.6 612.7,582.7 619.1,584.8 625.5,584.0 631.9,576.9 638.3,583.0 644.7,579.2 651.1,577.2 657.5,585.1 664.0,582.0 670.4,582.6 676.8,576.3" fill="none" stroke="#f5b57a" stroke-width="0.8"/>
<circle cx="132.0" cy="292.1" r="2.75" fill="#ff8000" stroke="#e87400" stroke-width="0.5"/>
<circle cx="138.4" cy="290.3" r="2.75" fill="#ff8000" stroke="#e87400" stroke-width="0.5"/>
<circle cx="144.8" cy="291.7" r="2.75" fill="#ff8000" stroke="#e87400" stroke-width="0.5"/>
<circle cx="151.2" cy="292.1" r="2.75" fill="#ff8000" stroke="#e87400" stroke-width="0.5"/>
<circle cx="157.6" cy="291.3" r="2.75" fill="#ff8000" stroke="#e87400" stroke-width="0.5"/>
<circle cx="164.0" cy="292.6" r="2.75" fill="#ff8000" stroke="#e87400" stroke-width="0.5"/>
<circle cx="170.5" cy="292.1" r="2.75" fill="#ff8000" stroke="#e87400" stroke-width="0.5"/>
<circle cx="176.9" cy="293.1" r="2.75" fill="#ff8000" stroke="#e87400" stroke-width="0.5"/>
<circle cx="183.3" cy="293.0" r="2.75" fill="#ff8000" stroke="#e87400" stroke-width="0.5"/>
<circle cx="189.7" cy="292.6" r="2.75" fill="#ff8000" stroke="#e87400" stroke-width="0.5"/>
<circle cx="196.1" cy="292.2" r="2.75" fill="#ff8000" stroke="#e87400" stroke-width="0.5"/>
<circle cx="202.5" cy="293.5" r="2.75" fill="#ff8000" stroke="#e87400" stroke-width="0.5"/>
<circle cx="208.9" cy="293.7" r="2.75" fill="#ff8000" stroke="#e87400" stroke-width="0.5"/>
<circle cx="215.3" cy="294.2" r="2.75" fill="#ff8000" stroke="#e87400" stroke-width="0.5"/>
<circle cx="221.7" cy="295.3" r="2.75" fill="#ff8000" stroke="#e87400" stroke-width="0.5"/>
<circle cx="228.1" cy="298.1" r="2.75" fill="#ff8000" stroke="#e87400" stroke-width="0.5"/>
<circle cx="234.5" cy="298.1" r="2.75" fill="#ff8000" stroke="#e87400" stroke-width="0.5"/>
<circle cx="241.0" cy="300.1" r="2.75" fill="#ff8000" stroke="#e87400" stroke-width="0.5"/>
<circle cx="247.4" cy="298.7" r="2.75" fill="#ff8000" stroke="#e87400" stroke-width="0.5"/>
<circle cx="253.8" cy="302.5" r="2.75" fill="#ff8000" stroke="#e87400" stroke-width="0.5"/>
<circle cx="260.2" cy="302.5" r="2.75" fill="#ff8000" stroke="#e87400" stroke-width="0.5"/>
<circle cx="266.6" cy="304.6" r="2.75" fill="#ff8000" stroke="#e87400" stroke-width="0.5"/>
<circle cx="273.0" cy="305.2" r="2.75" fill="#ff8000" stroke="#e87400" stroke-width="0.5"/>
<circle cx="279.4" cy="308.4" r="2.75" fill="#ff8000" stroke="#e87400" stroke-width="0.5"/>
<circle cx="285.8" cy="310.0" r="2.75" fill="#ff8000" stroke="#e87400" stroke-width="0.5"/>
<circle cx="292.2" cy="314.4" r="2.75" fill="#ff8000" stroke="#e87400" stroke-width="0.5"/>
<circle cx="298.6" cy="316.1" r="2.75" fill="#ff8000" stroke="#e87400" stroke-width="0.5"/>
<circle cx="305.0" cy="319.9" r="2.75" fill="#ff8000" stroke="#e87400" stroke-width="0.5"/>
<circle cx="311.5" cy="323.0" r="2.75" fill="#ff8000" stroke="#e87400" stroke-width="0.5"/>
<circle cx="317.9" cy="327.7" r="2.75" fill="#ff8000" stroke="#e87400" stroke-width="0.5"/>
<circle cx="324.3" cy="332.0" r="2.75" fill="#ff8000" stroke="#e87400" stroke-width="0.5"/>
<circle cx="330.7" cy="335.6" r="2.75" fill="#ff8000" stroke="#e87400" stroke-width="0.5"/>
<circle cx="337.1" cy="343.4" r="2.75" fill="#ff8000" stroke="#e87400" stroke-width="0.5"/>
<circle cx="343.5" cy="347.4" r="2.75" fill="#ff8000" stroke="#e87400" stroke-width="0.5"/>
<circle cx="349.9" cy="355.9" r="2.75" fill="#ff8000" stroke="#e87400" stroke-width="0.5"/>
<circle cx="356.3" cy="362.3" r="2.75" fill="#ff8000" stroke="#e87400" stroke-width="0.5"/>
<circle cx="362.7" cy="372.0" r="2.75" fill="#ff8000" stroke="#e87400" stroke-width="0.5"/>
<circle cx="369.1" cy="381.6" r="2.75" fill="#ff8000" stroke="#e87400" stroke-width="0.5"/>
<circle cx="375.5" cy="393.7" r="2.75" fill="#ff8000" stroke="#e87400" stroke-width="0.5"/>
<circle cx="382.0" cy="405.2" r="2.75" fill="#ff8000" stroke="#e87400" stroke-width="0.5"/>
<circle cx="388.4" cy="419.7" r="2.75" fill="#ff8000" stroke="#e87400" stroke-width="0.5"/>
<circle cx="394.8" cy="427.6" r="2.75" fill="#ff8000" stroke="#e87400" stroke-width="0.5"/>
<circle cx="401.2" cy="435.5" r="2.75" fill="#ff8000" stroke="#e87400" stroke-width="0.5"/>
<circle cx="407.6" cy="439.8" r="2.75" fill="#ff8000" stroke="#e87400" stroke-width="0.5"/>
<circle cx="414.0" cy="448.3" r="2.75" fill="#ff8000" stroke="#e87400" stroke-width="0.5"/>
<circle cx="420.4" cy="460.4" r="2.75" fill="#ff8000" stroke="#e87400" stroke-width="0.5"/>
<circle cx="426.8" cy="472.7" r="2.75" fill="#ff8000" stroke="#e87400" stroke-width="0.5"/>
<circle cx="433.2" cy="480.7" r="2.75" fill="#ff8000" stroke="#e87400" stroke-width="0.5"/>
<circle cx="439.6" cy="490.9" r="2.75" fill="#ff8000" stroke="#e87400" stroke-width="0.5"/>
<circle cx="446.0" cy="498.7" r="2.75" fill="#ff8000" stroke="#e87400" stroke-width="0.5"/>
<circle cx="452.5" cy="508.8" r="2.75" fill="#ff8000" stroke="#e87400" stroke-width="0.5"/>
<circle cx="458.9" cy="514.6" r="2.75" fill="#ff8000" stroke="#e87400" stroke-width="0.5"/>
<circle cx="465.3" cy="525.6" r="2.75" fill="#ff8000" stroke="#e87400" stroke-width="0.5"/>
<circle cx="471.7" cy="533.8" r="2.75" fill="#ff8000" stroke="#e87400" stroke-width="0.5"/>
<circle cx="478.1" cy="543.4" r="2.75" fill="#ff8000" stroke="#e87400" stroke-width="0.5"/>
<circle cx="484.5" cy="550.7" r="2.75" fill="#ff8000" stroke="#e87400" stroke-width="0.5"/>
<circle cx="490.9" cy="559.2" r="2.75" fill="#ff8000" stroke="#e87400" stroke-width="0.5"/>
<circle cx="497.3" cy="567.4" r="2.75" fill="#ff8000" stroke="#e87400" stroke-width="0.5"/>
<circle cx="503.7" cy="573.3" r="2.75" fill="#ff8000" stroke="#e87400" stroke-width="0.5"/>
<circle cx="510.1" cy="572.9" r="2.75" fill="#ff8000" stroke="#e87400" stroke-width="0.5"/>
<circle cx="516.5" cy="578.6" r="2.75" fill="#ff8000" stroke="#e87400" stroke-width="0.5"/>
<circle cx="523.0" cy="577.1" r="2.75" fill="#ff8000" stroke="#e87400" stroke-width="0.5"/>
<circle cx="529.4" cy="578.2" r="2.75" fill="#ff8000" stroke="#e87400" stroke-width="0.5"/>
<circle cx="535.8" cy="579.2" r="2.75" fill="#ff8000" stroke="#e87400" stroke-width="0.5"/>
<circle cx="542.2" cy="581.0" r="2.75" fill="#ff8000" stroke="#e87400" stroke-width="0.5"/>
<circle cx="548.6" cy="587.7" r="2.75" fill="#ff8000" stroke="#e87400" stroke-width="0.5"/>
<circle cx="555.0" cy="587.7" r="2.75" fill="#ff8000" stroke="#e87400" stroke-width="0.5"/>
<circle cx="561.4" cy="585.5" r="2.75" fill="#ff8000" stroke="#e87400" stroke-width="0.5"/>
<circle cx="567.8" cy="582.3" r="2.75" fill="#ff8000" stroke="#e87400" stroke-width="0.5"/>
<circle cx="574.2" cy="582.3" r="2.75" fill="#ff8000" stroke="#e87400" stroke-width="0.5"/>
<circle cx="580.6" cy="585.0" r="2.75" fill="#ff8000" stroke="#e87400" stroke-width="0.5"/>
<circle cx="587.0" cy="586.1" r="2.75" fill="#ff8000" stroke="#e87400" stroke-width="0.5"/>
<circle cx="593.5" cy="584.4" r="2.75" fill="#ff8000" stroke="#e87400" stroke-width="0.5"/>
<circle cx="599.9" cy="583.1" r="2.75" fill="#ff8000" stroke="#e87400" stroke-width="0.5"/>
<circle cx="606.3" cy="578.6" r="2.75" fill="#ff8000" stroke="#e87400" stroke-width="0.5"/>
<circle cx="612.7" cy="582.7" r="2.75" fill="#ff8000" stroke="#e87400" stroke-width="0.5"/>
<circle cx="619.1" cy="584.8" r="2.75" fill="#ff8000" stroke="#e87400" stroke-width="0.5"/>
<circle cx="625.5" cy="584.0" r="2.75" fill="#ff8000" stroke="#e87400" stroke-width="0.5"/>
<circle cx="631.9" cy="576.9" r="2.75" fill="#ff8000" stroke="#e87400" stroke-width="0.5"/>
<circle cx="638.3" cy="583.0" r="2.75" fill="#ff8000" stroke="#e87400" stroke-width="0.5"/>
<circle cx="644.7" cy="579.2" r="2.75" fill="#ff8000" stroke="#e87400" stroke-width="0.5"/>
<circle cx="651.1" cy="577.2" r="2.75" fill="#ff8000" stroke="#e87400" stroke-width="0.5"/>
<circle cx="657.5" cy="585.1" r="2.75" fill="#ff8000" stroke="#e87400" stroke-width="0.5"/>
<circle cx="664.0" cy="582.0" r="2.75" fill="#ff8000" stroke="#e87400" stroke-width="0.5"/>
<circle cx="670.4" cy="582.6" r="2.75" fill="#ff8000" stroke="#e87400" stroke-width="0.5"/>
<circle cx="676.8" cy="576.3" r="2.75" fill="#ff8000" stroke="#e87400" stroke-width="0.5"/>
<polyline points="132.0,320.9 138.4,321.6 144.8,322.0 151.2,322.0 157.6,322.6 164.0,323.0 170.5,322.8 176.9,322.6 183.3,323.9 189.7,324.1 196.1,324.6 202.5,324.0 208.9,326.8 215.3,326.6 221.7,328.8 228.1,326.9 234.5,329.8 241.0,329.8 247.4,328.9 253.8,331.5 260.2,330.8 266.6,331.7 273.0,333.4 279.4,334.7 285.8,337.3 292.2,340.4 298.6,341.7 305.0,343.7 311.5,344.8 317.9,348.5 324.3,351.5 330.7,355.5 337.1,360.5 343.5,364.7 349.9,368.7 356.3,373.0 362.7,380.2 369.1,387.8 375.5,396.8 382.0,410.6 388.4,425.2 394.8,433.3 401.2,439.2 407.6,448.9 414.0,458.0 420.4,468.7 426.8,480.6 433.2,489.1 439.6,499.2 446.0,508.2 452.5,516.3 458.9,524.5 465.3,534.5 471.7,545.5 478.1,553.5 484.5,561.1 490.9,567.1 497.3,573.0 503.7,581.0 510.1,579.4 516.5,581.6 523.0,583.7 529.4,577.6 535.8,583.8 542.2,577.3 548.6,584.9 555.0,578.4 561.4,579.2 567.8,585.9 574.2,579.8 580.6,578.3 587.0,584.8 593.5,581.9 599.9,584.6 606.3,579.4 612.7,580.3 619.1,584.8 625.5,580.1 631.9,584.8 638.3,576.7 644.7,583.0 651.1,576.2 657.5,579.7 664.0,574.3 670.4,575.9 676.8,583.5" fill="none" stroke="#f5b57a" stroke-width="0.8"/>
<circle cx="132.0" cy="320.9" r="2.75" fill="#ff8000" stroke="#e87400" stroke-width="0.5"/>
<circle cx="138.4" cy="321.6" r="2.75" fill="#ff8000" stroke="#e87400" stroke-width="0.5"/>
<circle cx="144.8" cy="322.0" r="2.75" fill="#ff8000" stroke="#e87400" stroke-width="0.5"/>
<circle cx="151.2" cy="322.0" r="2.75" fill="#ff8000" stroke="#e87400" stroke-width="0.5"/>
<circle cx="157.6" cy="322.6" r="2.75" fill="#ff8000" stroke="#e87400" stroke-width="0.5"/>
<circle cx="164.0" cy="323.0" r="2.75" fill="#ff8000" stroke="#e87400" stroke-width="0.5"/>
<circle cx="170.5" cy="322.8" r="2.75" fill="#ff8000" stroke="#e87400" stroke-width="0.5"/>
<circle cx="176.9" cy="322.6" r="2.75" fill="#ff8000" stroke="#e87400" stroke-width="0.5"/>
<circle cx="183.3" cy="323.9" r="2.75" fill="#ff8000" stroke="#e87400" stroke-width="0.5"/>
<circle cx="189.7" cy="324.1" r="2.75" fill="#ff8000" stroke="#e87400" stroke-width="0.5"/>
<circle cx="196.1" cy="324.6" r="2.75" fill="#ff8000" stroke="#e87400" stroke-width="0.5"/>
<circle cx="202.5" cy="324.0" r="2.75" fill="#ff8000" stroke="#e87400" stroke-width="0.5"/>
<circle cx="208.9" cy="326.8" r="2.75" fill="#ff8000" stroke="#e87400" stroke-width="0.5"/>
<circle cx="215.3" cy="326.6" r="2.75" fill="#ff8000" stroke="#e87400" stroke-width="0.5"/>
<circle cx="221.7" cy="328.8" r="2.75" fill="#ff8000" stroke="#e87400" stroke-width="0.5"/>
<circle cx="228.1" cy="326.9" r="2.75" fill="#ff8000" stroke="#e87400" stroke-width="0.5"/>
<circle cx="234.5" cy="329.8" r="2.75" fill="#ff8000" stroke="#e87400" stroke-width="0.5"/>
<circle cx="241.0" cy="329.8" r="2.75" fill="#ff8000" stroke="#e87400" stroke-width="0.5"/>
<circle cx="247.4" cy="328.9" r="2.75" fill="#ff8000" stroke="#e87400" stroke-width="0.5"/>
<circle cx="253.8" cy="331.5" r="2.75" fill="#ff8000" stroke="#e87400" stroke-width="0.5"/>
<circle cx="260.2" cy="330.8" r="2.75" fill="#ff8000" stroke="#e87400" stroke-width="0.5"/>
<circle cx="266.6" cy="331.7" r="2.75" fill="#ff8000" stroke="#e87400" stroke-width="0.5"/>
<circle cx="273.0" cy="333.4" r="2.75" fill="#ff8000" stroke="#e87400" stroke-width="0.5"/>
<circle cx="279.4" cy="334.7" r="2.75" fill="#ff8000" stroke="#e87400" stroke-width="0.5"/>
<circle cx="285.8" cy="337.3" r="2.75" fill="#ff8000" stroke="#e87400" stroke-width="0.5"/>
<circle cx="292.2" cy="340.4" r="2.75" fill="#ff8000" stroke="#e87400" stroke-width="0.5"/>
<circle cx="298.6" cy="341.7" r="2.75" fill="#ff8000" stroke="#e87400" stroke-width="0.5"/>
<circle cx="305.0" cy="343.7" r="2.75" fill="#ff8000" stroke="#e87400" stroke-width="0.5"/>
<circle cx="311.5" cy="344.8" r="2.75" fill="#ff8000" stroke="#e87400" stroke-width="0.5"/>
<circle cx="317.9" cy="348.5" r="2.75" fill="#ff8000" stroke="#e87400" stroke-width="0.5"/>
<circle cx="324.3" cy="351.5" r="2.75" fill="#ff8000" stroke="#e87400" stroke-width="0.5"/>
<circle cx="330.7" cy="355.5" r="2.75" fill="#ff8000" stroke="#e87400" stroke-width="0.5"/>
<circle cx="337.1" cy="360.5" r="2.75" fill="#ff8000" stroke="#e87400" stroke-width="0.5"/>
<circle cx="343.5" cy="364.7" r="2.75" fill="#ff8000" stroke="#e87400" stroke-width="0.5"/>
<circle cx="349.9" cy="368.7" r="2.75" fill="#ff8000" stroke="#e87400" stroke-width="0.5"/>
<circle cx="356.3" cy="373.0" r="2.75" fill="#ff8000" stroke="#e87400" stroke-width="0.5"/>
<circle cx="362.7" cy="380.2" r="2.75" fill="#ff8000" stroke="#e87400" stroke-width="0.5"/>
<circle cx="369.1" cy="387.8" r="2.75" fill="#ff8000" stroke="#e87400" stroke-width="0.5"/>
<circle cx="375.5" cy="396.8" r="2.75" fill="#ff8000" stroke="#e87400" stroke-width="0.5"/>
<circle cx="382.0" cy="410.6" r="2.75" fill="#ff8000" stroke="#e87400" stroke-width="0.5"/>
<circle cx="388.4" cy="425.2" r="2.75" fill="#ff8000" stroke="#e87400" stroke-width="0.5"/>
<circle cx="394.8" cy="433.3" r="2.75" fill="#ff8000" stroke="#e87400" stroke-width="0.5"/>
<circle cx="401.2" cy="439.2" r="2.75" fill="#ff8000" stroke="#e87400" stroke-width="0.5"/>
<circle cx="407.6" cy="448.9" r="2.75" fill="#ff8000" stroke="#e87400" stroke-width="0.5"/>
<circle cx="414.0" cy="458.0" r="2.75" fill="#ff8000" stroke="#e87400" stroke-width="0.5"/>
<circle cx="420.4" cy="468.7" r="2.75" fill="#ff8000" stroke="#e87400" stroke-width="0.5"/>
<circle cx="426.8" cy="480.6" r="2.75" fill="#ff8000" stroke="#e87400" stroke-width="0.5"/>
<circle cx="433.2" cy="489.1" r="2.75" fill="#ff8000" stroke="#e87400" stroke-width="0.5"/>
<circle cx="439.6" cy="499.2" r="2.75" fill="#ff8000" stroke="#e87400" stroke-width="0.5"/>
<circle cx="446.0" cy="508.2" r="2.75" fill="#ff8000" stroke="#e87400" stroke-width="0.5"/>
<circle cx="452.5" cy="516.3" r="2.75" fill="#ff8000" stroke="#e87400" stroke-width="0.5"/>
<circle cx="458.9" cy="524.5" r="2.75" fill="#ff8000" stroke="#e87400" stroke-width="0.5"/>
<circle cx="465.3" cy="534.5" r="2.75" fill="#ff8000" stroke="#e87400" stroke-width="0.5"/>
<circle cx="471.7" cy="545.5" r="2.75" fill="#ff8000" stroke="#e87400" stroke-width="0.5"/>
<circle cx="478.1" cy="553.5" r="2.75" fill="#ff8000" stroke="#e87400" stroke-width="0.5"/>
<circle cx="484.5" cy="561.1" r="2.75" fill="#ff8000" stroke="#e87400" stroke-width="0.5"/>
<circle cx="490.9" cy="567.1" r="2.75" fill="#ff8000" stroke="#e87400" stroke-width="0.5"/>
<circle cx="497.3" cy="573.0" r="2.75" fill="#ff8000" stroke="#e87400" stroke-width="0.5"/>
<circle cx="503.7" cy="581.0" r="2.75" fill="#ff8000" stroke="#e87400" stroke-width="0.5"/>
<circle cx="510.1" cy="579.4" r="2.75" fill="#ff8000" stroke="#e87400" stroke-width="0.5"/>
<circle cx="516.5" cy="581.6" r="2.75" fill="#ff8000" stroke="#e87400" stroke-width="0.5"/>
<circle cx="523.0" cy="583.7" r="2.75" fill="#ff8000" stroke="#e87400" stroke-width="0.5"/>
<circle cx="529.4" cy="577.6" r="2.75" fill="#ff8000" stroke="#e87400" stroke-width="0.5"/>
<circle cx="535.8" cy="583.8" r="2.75" fill="#ff8000" stroke="#e87400" stroke-width="0.5"/>
<circle cx="542.2" cy="577.3" r="2.75" fill="#ff8000" stroke="#e87400" stroke-width="0.5"/>
<circle cx="548.6" cy="584.9" r="2.75" fill="#ff8000" stroke="#e87400" stroke-width="0.5"/>
<circle cx="555.0" cy="578.4" r="2.75" fill="#ff8000" stroke="#e87400" stroke-width="0.5"/>
<circle cx="561.4" cy="579.2" r="2.75" fill="#ff8000" stroke="#e87400" stroke-width="0.5"/>
<circle cx="567.8" cy="585.9" r="2.75" fill="#ff8000" stroke="#e87400" stroke-width="0.5"/>
<circle cx="574.2" cy="579.8" r="2.75" fill="#ff8000" stroke="#e87400" stroke-width="0.5"/>
<circle cx="580.6" cy="578.3" r="2.75" fill="#ff8000" stroke="#e87400" stroke-width="0.5"/>
<circle cx="587.0" cy="584.8" r="2.75" fill="#ff8000" stroke="#e87400" stroke-width="0.5"/>
<circle cx="593.5" cy="581.9" r="2.75" fill="#ff8000" stroke="#e87400" stroke-width="0.5"/>
<circle cx="599.9" cy="584.6" r="2.75" fill="#ff8000" stroke="#e87400" stroke-width="0.5"/>
<circle cx="606.3" cy="579.4" r="2.75" fill="#ff8000" stroke="#e87400" stroke-width="0.5"/>
<circle cx="612.7" cy="580.3" r="2.75" fill="#ff8000" stroke="#e87400" stroke-width="0.5"/>
<circle cx="619.1" cy="584.8" r="2.75" fill="#ff8000" stroke="#e87400" stroke-width="0.5"/>
<circle cx="625.5" cy="580.1" r="2.75" fill="#ff8000" stroke="#e87400" stroke-width="0.5"/>
<circle cx="631.9" cy="584.8" r="2.75" fill="#ff8000" stroke="#e87400" stroke-width="0.5"/>
<circle cx="638.3" cy="576.7" r="2.75" fill="#ff8000" stroke="#e87400" stroke-width="0.5"/>
<circle cx="644.7" cy="583.0" r="2.75" fill="#ff8000" stroke="#e87400" stroke-width="0.5"/>
<circle cx="651.1" cy="576.2" r="2.75" fill="#ff8000" stroke="#e87400" stroke-width="0.5"/>
<circle cx="657.5" cy="579.7" r="2.75" fill="#ff8000" stroke="#e87400" stroke-width="0.5"/>
<circle cx="664.0" cy="574.3" r="2.75" fill="#ff8000" stroke="#e87400" stroke-width="0.5"/>
<circle cx="670.4" cy="575.9" r="2.75" fill="#ff8000" stroke="#e87400" stroke-width="0.5"/>
<circle cx="676.8" cy="583.5" r="2.75" fill="#ff8000" stroke="#e87400" stroke-width="0.5"/>
<polyline points="132.0,358.9 138.4,361.3 144.8,360.3 151.2,361.2 157.6,361.1 164.0,362.9 170.5,364.2 176.9,363.7 183.3,363.8 189.7,366.5 196.1,367.6 202.5,368.1 208.9,367.2 215.3,369.5 221.7,369.8 228.1,372.5 234.5,372.0 241.0,374.0 247.4,374.7 253.8,374.7 260.2,375.9 266.6,378.5 273.0,381.3 279.4,382.1 285.8,383.4 292.2,386.7 298.6,385.8 305.0,389.8 311.5,391.2 317.9,393.0 324.3,394.7 330.7,397.0 337.1,398.9 343.5,400.5 349.9,402.7 356.3,404.2 362.7,408.7 369.1,412.8 375.5,420.4 382.0,425.0 388.4,431.5 394.8,441.3 401.2,450.4 407.6,460.8 414.0,473.7 420.4,483.5 426.8,492.0 433.2,499.8 439.6,509.7 446.0,516.2 452.5,524.8 458.9,534.1 465.3,545.2 471.7,553.5 478.1,563.1 484.5,569.5 490.9,574.3 497.3,581.3 503.7,581.5 510.1,581.0 516.5,577.6 523.0,577.2 529.4,581.7 535.8,584.1 542.2,583.6 548.6,579.0 555.0,576.8 561.4,580.5 567.8,584.0 574.2,576.7 580.6,582.3 587.0,576.5 593.5,577.8 599.9,575.1 606.3,577.4 612.7,578.1 619.1,583.8 625.5,583.6 631.9,575.8 638.3,576.9 644.7,583.1 651.1,575.5 657.5,576.6 664.0,577.6 670.4,574.2 676.8,575.6" fill="none" stroke="#f5b57a" stroke-width="0.8"/>
<circle cx="132.0" cy="358.9" r="2.75" fill="#ff8000" stroke="#e87400" stroke-width="0.5"/>
<circle cx="138.4" cy="361.3" r="2.75" fill="#ff8000" stroke="#e87400" stroke-width="0.5"/>
<circle cx="144.8" cy="360.3" r="2.75" fill="#ff8000" stroke="#e87400" stroke-width="0.5"/>
<circle cx="151.2" cy="361.2" r="2.75" fill="#ff8000" stroke="#e87400" stroke-width="0.5"/>
<circle cx="157.6" cy="361.1" r="2.75" fill="#ff8000" stroke="#e87400" stroke-width="0.5"/>
<circle cx="164.0" cy="362.9" r="2.75" fill="#ff8000" stroke="#e87400" stroke-width="0.5"/>
<circle cx="170.5" cy="364.2" r="2.75" fill="#ff8000" stroke="#e87400" stroke-width="0.5"/>
<circle cx="176.9" cy="363.7" r="2.75" fill="#ff8000" stroke="#e87400" stroke-width="0.5"/>
<circle cx="183.3" cy="363.8" r="2.75" fill="#ff8000" stroke="#e87400" stroke-width="0.5"/>
<circle cx="189.7" cy="366.5" r="2.75" fill="#ff8000" stroke="#e87400" stroke-width="0.5"/>
<circle cx="196.1" cy="367.6" r="2.75" fill="#ff8000" stroke="#e87400" stroke-width="0.5"/>
<circle cx="202.5" cy="368.1" r="2.75" fill="#ff8000" stroke="#e87400" stroke-width="0.5"/>
<circle cx="208.9" cy="367.2" r="2.75" fill="#ff8000" stroke="#e87400" stroke-width="0.5"/>
<circle cx="215.3" cy="369.5" r="2.75" fill="#ff8000" stroke="#e87400" stroke-width="0.5"/>
<circle cx="221.7" cy="369.8" r="2.75" fill="#ff8000" stroke="#e87400" stroke-width="0.5"/>
<circle cx="228.1" cy="372.5" r="2.75" fill="#ff8000" stroke="#e87400" stroke-width="0.5"/>
<circle cx="234.5" cy="372.0" r="2.75" fill="#ff8000" stroke="#e87400" stroke-width="0.5"/>
<circle cx="241.0" cy="374.0" r="2.75" fill="#ff8000" stroke="#e87400" stroke-width="0.5"/>
<circle cx="247.4" cy="374.7" r="2.75" fill="#ff8000" stroke="#e87400" stroke-width="0.5"/>
<circle cx="253.8" cy="374.7" r="2.75" fill="#ff8000" stroke="#e87400" stroke-width="0.5"/>
<circle cx="260.2" cy="375.9" r="2.75" fill="#ff8000" stroke="#e87400" stroke-width="0.5"/>
<circle cx="266.6" cy="378.5" r="2.75" fill="#ff8000" stroke="#e87400" stroke-width="0.5"/>
<circle cx="273.0" cy="381.3" r="2.75" fill="#ff8000" stroke="#e87400" stroke-width="0.5"/>
<circle cx="279.4" cy="382.1" r="2.75" fill="#ff8000" stroke="#e87400" stroke-width="0.5"/>
<circle cx="285.8" cy="383.4" r="2.75" fill="#ff8000" stroke="#e87400" stroke-width="0.5"/>
<circle cx="292.2" cy="386.7" r="2.75" fill="#ff8000" stroke="#e87400" stroke-width="0.5"/>
<circle cx="298.6" cy="385.8" r="2.75" fill="#ff8000" stroke="#e87400" stroke-width="0.5"/>
<circle cx="305.0" cy="389.8" r="2.75" fill="#ff8000" stroke="#e87400" stroke-width="0.5"/>
<circle cx="311.5" cy="391.2" r="2.75" fill="#ff8000" stroke="#e87400" stroke-width="0.5"/>
<circle cx="317.9" cy="393.0" r="2.75" fill="#ff8000" stroke="#e87400" stroke-width="0.5"/>
<circle cx="324.3" cy="394.7" r="2.75" fill="#ff8000" stroke="#e87400" stroke-width="0.5"/>
<circle cx="330.7" cy="397.0" r="2.75" fill="#ff8000" stroke="#e87400" stroke-width="0.5"/>
<circle cx="337.1" cy="398.9" r="2.75" fill="#ff8000" stroke="#e87400" stroke-width="0.5"/>
<circle cx="343.5" cy="400.5" r="2.75" fill="#ff8000" stroke="#e87400" stroke-width="0.5"/>
<circle cx="349.9" cy="402.7" r="2.75" fill="#ff8000" stroke="#e87400" stroke-width="0.5"/>
<circle cx="356.3" cy="404.2" r="2.75" fill="#ff8000" stroke="#e87400" stroke-width="0.5"/>
<circle cx="362.7" cy="408.7" r="2.75" fill="#ff8000" stroke="#e87400" stroke-width="0.5"/>
<circle cx="369.1" cy="412.8" r="2.75" fill="#ff8000" stroke="#e87400" stroke-width="0.5"/>
<circle cx="375.5" cy="420.4" r="2.75" fill="#ff8000" stroke="#e87400" stroke-width="0.5"/>
<circle cx="382.0" cy="425.0" r="2.75" fill="#ff8000" stroke="#e87400" stroke-width="0.5"/>
<circle cx="388.4" cy="431.5" r="2.75" fill="#ff8000" stroke="#e87400" stroke-width="0.5"/>
<circle cx="394.8" cy="441.3" r="2.75" fill="#ff8000" stroke="#e87400" stroke-width="0.5"/>
<circle cx="401.2" cy="450.4" r="2.75" fill="#ff8000" stroke="#e87400" stroke-width="0.5"/>
<circle cx="407.6" cy="460.8" r="2.75" fill="#ff8000" stroke="#e87400" stroke-width="0.5"/>
<circle cx="414.0" cy="473.7" r="2.75" fill="#ff8000" stroke="#e87400" stroke-width="0.5"/>
<circle cx="420.4" cy="483.5" r="2.75" fill="#ff8000" stroke="#e87400" stroke-width="0.5"/>
<circle cx="426.8" cy="492.0" r="2.75" fill="#ff8000" stroke="#e87400" stroke-width="0.5"/>
<circle cx="433.2" cy="499.8" r="2.75" fill="#ff8000" stroke="#e87400" stroke-width="0.5"/>
<circle cx="439.6" cy="509.7" r="2.75" fill="#ff8000" stroke="#e87400" stroke-width="0.5"/>
<circle cx="446.0" cy="516.2" r="2.75" fill="#ff8000" stroke="#e87400" stroke-width="0.5"/>
<circle cx="452.5" cy="524.8" r="2.75" fill="#ff8000" stroke="#e87400" stroke-width="0.5"/>
<circle cx="458.9" cy="534.1" r="2.75" fill="#ff8000" stroke="#e87400" stroke-width="0.5"/>
<circle cx="465.3" cy="545.2" r="2.75" fill="#ff8000" stroke="#e87400" stroke-width="0.5"/>
<circle cx="471.7" cy="553.5" r="2.75" fill="#ff8000" stroke="#e87400" stroke-width="0.5"/>
<circle cx="478.1" cy="563.1" r="2.75" fill="#ff8000" stroke="#e87400" stroke-width="0.5"/>
<circle cx="484.5" cy="569.5" r="2.75" fill="#ff8000" stroke="#e87400" stroke-width="0.5"/>
<circle cx="490.9" cy="574.3" r="2.75" fill="#ff8000" stroke="#e87400" stroke-width="0.5"/>
<circle cx="497.3" cy="581.3" r="2.75" fill="#ff8000" stroke="#e87400" stroke-width="0.5"/>
<circle cx="503.7" cy="581.5" r="2.75" fill="#ff8000" stroke="#e87400" stroke-width="0.5"/>
<circle cx="510.1" cy="581.0" r="2.75" fill="#ff8000" stroke="#e87400" stroke-width="0.5"/>
<circle cx="516.5" cy="577.6" r="2.75" fill="#ff8000" stroke="#e87400" stroke-width="0.5"/>
<circle cx="523.0" cy="577.2" r="2.75" fill="#ff8000" stroke="#e87400" stroke-width="0.5"/>
<circle cx="529.4" cy="581.7" r="2.75" fill="#ff8000" stroke="#e87400" stroke-width="0.5"/>
<circle cx="535.8" cy="584.1" r="2.75" fill="#ff8000" stroke="#e87400" stroke-width="0.5"/>
<circle cx="542.2" cy="583.6" r="2.75" fill="#ff8000" stroke="#e87400" stroke-width="0.5"/>
<circle cx="548.6" cy="579.0" r="2.75" fill="#ff8000" stroke="#e87400" stroke-width="0.5"/>
<circle cx="555.0" cy="576.8" r="2.75" fill="#ff8000" stroke="#e87400" stroke-width="0.5"/>
<circle cx="561.4" cy="580.5" r="2.75" fill="#ff8000" stroke="#e87400" stroke-width="0.5"/>
<circle cx="567.8" cy="584.0" r="2.75" fill="#ff8000" stroke="#e87400" stroke-width="0.5"/>
<circle cx="574.2" cy="576.7" r="2.75" fill="#ff8000" stroke="#e87400" stroke-width="0.5"/>
<circle cx="580.6" cy="582.3" r="2.75" fill="#ff8000" stroke="#e87400" stroke-width="0.5"/>
<circle cx="587.0" cy="576.5" r="2.75" fill="#ff8000" stroke="#e87400" stroke-width="0.5"/>
<circle cx="593.5" cy="577.8" r="2.75" fill="#ff8000" stroke="#e87400" stroke-width="0.5"/>
<circle cx="599.9" cy="575.1" r="2.75" fill="#ff8000" stroke="#e87400" stroke-width="0.5"/>
<circle cx="606.3" cy="577.4" r="2.75" fill="#ff8000" stroke="#e87400" stroke-width="0.5"/>
<circle cx="612.7" cy="578.1" r="2.75" fill="#ff8000" stroke="#e87400" stroke-width="0.5"/>
<circle cx="619.1" cy="583.8" r="2.75" fill="#ff8000" stroke="#e87400" stroke-width="0.5"/>
<circle cx="625.5" cy="583.6" r="2.75" fill="#ff8000" stroke="#e87400" stroke-width="0.5"/>
<circle cx="631.9" cy="575.8" r="2.75" fill="#ff8000" stroke="#e87400" stroke-width="0.5"/>
<circle cx="638.3" cy="576.9" r="2.75" fill="#ff8000" stroke="#e87400" stroke-width="0.5"/>
<circle cx="644.7" cy="583.1" r="2.75" fill="#ff8000" stroke="#e87400" stroke-width="0.5"/>
<circle cx="651.1" cy="575.5" r="2.75" fill="#ff8000" stroke="#e87400" stroke-width="0.5"/>
<circle cx="657.5" cy="576.6" r="2.75" fill="#ff8000" stroke="#e87400" stroke-width="0.5"/>
<circle cx="664.0" cy="577.6" r="2.75" fill="#ff8000" stroke="#e87400" stroke-width="0.5"/>
<circle cx="670.4" cy="574.2" r="2.75" fill="#ff8000" stroke="#e87400" stroke-width="0.5"/>
<circle cx="676.8" cy="575.6" r="2.75" fill="#ff8000" stroke="#e87400" stroke-width="0.5"/>
<polyline points="132.0,425.7 138.4,427.2 144.8,430.4 151.2,430.0 157.6,432.3 164.0,436.6 170.5,435.4 176.9,436.4 183.3,438.1 189.7,441.1 196.1,440.4 202.5,440.7 208.9,443.6 215.3,443.9 221.7,445.5 228.1,447.8 234.5,450.1 241.0,450.6 247.4,452.4 253.8,455.5 260.2,455.9 266.6,456.9 273.0,459.6 279.4,460.2 285.8,462.8 292.2,462.0 298.6,465.7 305.0,467.3 311.5,469.1 317.9,473.5 324.3,475.2 330.7,478.7 337.1,481.8 343.5,486.9 349.9,491.1 356.3,491.6 362.7,491.4 369.1,492.6 375.5,493.9 382.0,497.5 388.4,502.0 394.8,506.7 401.2,510.1 407.6,515.1 414.0,520.1 420.4,522.8 426.8,525.9 433.2,528.9 439.6,534.2 446.0,540.7 452.5,546.0 458.9,552.1 465.3,553.1 471.7,559.0 478.1,566.2 484.5,572.8 490.9,575.9 497.3,577.3 503.7,573.2 510.1,575.2 516.5,572.3 523.0,575.6 529.4,576.3 535.8,579.6 542.2,577.7 548.6,576.8 555.0,575.1 561.4,576.9 567.8,573.9 574.2,579.7 580.6,579.2 587.0,579.7 593.5,572.9 599.9,578.2 606.3,579.0 612.7,576.5 619.1,580.6 625.5,580.6 631.9,579.1 638.3,579.9 644.7,578.3 651.1,580.6 657.5,573.2 664.0,579.0 670.4,579.0 676.8,578.1" fill="none" stroke="#f5b57a" stroke-width="0.8"/>
<circle cx="132.0" cy="425.7" r="2.75" fill="#ff8000" stroke="#e87400" stroke-width="0.5"/>
<circle cx="138.4" cy="427.2" r="2.75" fill="#ff8000" stroke="#e87400" stroke-width="0.5"/>
<circle cx="144.8" cy="430.4" r="2.75" fill="#ff8000" stroke="#e87400" stroke-width="0.5"/>
<circle cx="151.2" cy="430.0" r="2.75" fill="#ff8000" stroke="#e87400" stroke-width="0.5"/>
<circle cx="157.6" cy="432.3" r="2.75" fill="#ff8000" stroke="#e87400" stroke-width="0.5"/>
<circle cx="164.0" cy="436.6" r="2.75" fill="#ff8000" stroke="#e87400" stroke-width="0.5"/>
<circle cx="170.5" cy="435.4" r="2.75" fill="#ff8000" stroke="#e87400" stroke-width="0.5"/>
<circle cx="176.9" cy="436.4" r="2.75" fill="#ff8000" stroke="#e87400" stroke-width="0.5"/>
<circle cx="183.3" cy="438.1" r="2.75" fill="#ff8000" stroke="#e87400" stroke-width="0.5"/>
<circle cx="189.7" cy="441.1" r="2.75" fill="#ff8000" stroke="#e87400" stroke-width="0.5"/>
<circle cx="196.1" cy="440.4" r="2.75" fill="#ff8000" stroke="#e87400" stroke-width="0.5"/>
<circle cx="202.5" cy="440.7" r="2.75" fill="#ff8000" stroke="#e87400" stroke-width="0.5"/>
<circle cx="208.9" cy="443.6" r="2.75" fill="#ff8000" stroke="#e87400" stroke-width="0.5"/>
<circle cx="215.3" cy="443.9" r="2.75" fill="#ff8000" stroke="#e87400" stroke-width="0.5"/>
<circle cx="221.7" cy="445.5" r="2.75" fill="#ff8000" stroke="#e87400" stroke-width="0.5"/>
<circle cx="228.1" cy="447.8" r="2.75" fill="#ff8000" stroke="#e87400" stroke-width="0.5"/>
<circle cx="234.5" cy="450.1" r="2.75" fill="#ff8000" stroke="#e87400" stroke-width="0.5"/>
<circle cx="241.0" cy="450.6" r="2.75" fill="#ff8000" stroke="#e87400" stroke-width="0.5"/>
<circle cx="247.4" cy="452.4" r="2.75" fill="#ff8000" stroke="#e87400" stroke-width="0.5"/>
<circle cx="253.8" cy="455.5" r="2.75" fill="#ff8000" stroke="#e87400" stroke-width="0.5"/>
<circle cx="260.2" cy="455.9" r="2.75" fill="#ff8000" stroke="#e87400" stroke-width="0.5"/>
<circle cx="266.6" cy="456.9" r="2.75" fill="#ff8000" stroke="#e87400" stroke-width="0.5"/>
<circle cx="273.0" cy="459.6" r="2.75" fill="#ff8000" stroke="#e87400" stroke-width="0.5"/>
<circle cx="279.4" cy="460.2" r="2.75" fill="#ff8000" stroke="#e87400" stroke-width="0.5"/>
<circle cx="285.8" cy="462.8" r="2.75" fill="#ff8000" stroke="#e87400" stroke-width="0.5"/>
<circle cx="292.2" cy="462.0" r="2.75" fill="#ff8000" stroke="#e87400" stroke-width="0.5"/>
<circle cx="298.6" cy="465.7" r="2.75" fill="#ff8000" stroke="#e87400" stroke-width="0.5"/>
<circle cx="305.0" cy="467.3" r="2.75" fill="#ff8000" stroke="#e87400" stroke-width="0.5"/>
<circle cx="311.5" cy="469.1" r="2.75" fill="#ff8000" stroke="#e87400" stroke-width="0.5"/>
<circle cx="317.9" cy="473.5" r="2.75" fill="#ff8000" stroke="#e87400" stroke-width="0.5"/>
<circle cx="324.3" cy="475.2" r="2.75" fill="#ff8000" stroke="#e87400" stroke-width="0.5"/>
<circle cx="330.7" cy="478.7" r="2.75" fill="#ff8000" stroke="#e87400" stroke-width="0.5"/>
<circle cx="337.1" cy="481.8" r="2.75" fill="#ff8000" stroke="#e87400" stroke-width="0.5"/>
<circle cx="343.5" cy="486.9" r="2.75" fill="#ff8000" stroke="#e87400" stroke-width="0.5"/>
<circle cx="349.9" cy="491.1" r="2.75" fill="#ff8000" stroke="#e87400" stroke-width="0.5"/>
<circle cx="356.3" cy="491.6" r="2.75" fill="#ff8000" stroke="#e87400" stroke-width="0.5"/>
<circle cx="362.7" cy="491.4" r="2.75" fill="#ff8000" stroke="#e87400" stroke-width="0.5"/>
<circle cx="369.1" cy="492.6" r="2.75" fill="#ff8000" stroke="#e87400" stroke-width="0.5"/>
<circle cx="375.5" cy="493.9" r="2.75" fill="#ff8000" stroke="#e87400" stroke-width="0.5"/>
<circle cx="382.0" cy="497.5" r="2.75" fill="#ff8000" stroke="#e87400" stroke-width="0.5"/>
<circle cx="388.4" cy="502.0" r="2.75" fill="#ff8000" stroke="#e87400" stroke-width="0.5"/>
<circle cx="394.8" cy="506.7" r="2.75" fill="#ff8000" stroke="#e87400" stroke-width="0.5"/>
<circle cx="401.2" cy="510.1" r="2.75" fill="#ff8000" stroke="#e87400" stroke-width="0.5"/>
<circle cx="407.6" cy="515.1" r="2.75" fill="#ff8000" stroke="#e87400" stroke-width="0.5"/>
<circle cx="414.0" cy="520.1" r="2.75" fill="#ff8000" stroke="#e87400" stroke-width="0.5"/>
<circle cx="420.4" cy="522.8" r="2.75" fill="#ff8000" stroke="#e87400" stroke-width="0.5"/>
<circle cx="426.8" cy="525.9" r="2.75" fill="#ff8000" stroke="#e87400" stroke-width="0.5"/>
<circle cx="433.2" cy="528.9" r="2.75" fill="#ff8000" stroke="#e87400" stroke-width="0.5"/>
<circle cx="439.6" cy="534.2" r="2.75" fill="#ff8000" stroke="#e87400" stroke-width="0.5"/>
<circle cx="446.0" cy="540.7" r="2.75" fill="#ff8000" stroke="#e87400" stroke-width="0.5"/>
<circle cx="452.5" cy="546.0" r="2.75" fill="#ff8000" stroke="#e87400" stroke-width="0.5"/>
<circle cx="458.9" cy="552.1" r="2.75" fill="#ff8000" stroke="#e87400" stroke-width="0.5"/>
<circle cx="465.3" cy="553.1" r="2.75" fill="#ff8000" stroke="#e87400" stroke-width="0.5"/>
<circle cx="471.7" cy="559.0" r="2.75" fill="#ff8000" stroke="#e87400" stroke-width="0.5"/>
<circle cx="478.1" cy="566.2" r="2.75" fill="#ff8000" stroke="#e87400" stroke-width="0.5"/>
<circle cx="484.5" cy="572.8" r="2.75" fill="#ff8000" stroke="#e87400" stroke-width="0.5"/>
<circle cx="490.9" cy="575.9" r="2.75" fill="#ff8000" stroke="#e87400" stroke-width="0.5"/>
<circle cx="497.3" cy="577.3" r="2.75" fill="#ff8000" stroke="#e87400" stroke-width="0.5"/>
<circle cx="503.7" cy="573.2" r="2.75" fill="#ff8000" stroke="#e87400" stroke-width="0.5"/>
<circle cx="510.1" cy="575.2" r="2.75" fill="#ff8000" stroke="#e87400" stroke-width="0.5"/>
<circle cx="516.5" cy="572.3" r="2.75" fill="#ff8000" stroke="#e87400" stroke-width="0.5"/>
<circle cx="523.0" cy="575.6" r="2.75" fill="#ff8000" stroke="#e87400" stroke-width="0.5"/>
<circle cx="529.4" cy="576.3" r="2.75" fill="#ff8000" stroke="#e87400" stroke-width="0.5"/>
<circle cx="535.8" cy="579.6" r="2.75" fill="#ff8000" stroke="#e87400" stroke-width="0.5"/>
<circle cx="542.2" cy="577.7" r="2.75" fill="#ff8000" stroke="#e87400" stroke-width="0.5"/>
<circle cx="548.6" cy="576.8" r="2.75" fill="#ff8000" stroke="#e87400" stroke-width="0.5"/>
<circle cx="555.0" cy="575.1" r="2.75" fill="#ff8000" stroke="#e87400" stroke-width="0.5"/>
<circle cx="561.4" cy="576.9" r="2.75" fill="#ff8000" stroke="#e87400" stroke-width="0.5"/>
<circle cx="567.8" cy="573.9" r="2.75" fill="#ff8000" stroke="#e87400" stroke-width="0.5"/>
<circle cx="574.2" cy="579.7" r="2.75" fill="#ff8000" stroke="#e87400" stroke-width="0.5"/>
<circle cx="580.6" cy="579.2" r="2.75" fill="#ff8000" stroke="#e87400" stroke-width="0.5"/>
<circle cx="587.0" cy="579.7" r="2.75" fill="#ff8000" stroke="#e87400" stroke-width="0.5"/>
<circle cx="593.5" cy="572.9" r="2.75" fill="#ff8000" stroke="#e87400" stroke-width="0.5"/>
<circle cx="599.9" cy="578.2" r="2.75" fill="#ff8000" stroke="#e87400" stroke-width="0.5"/>
<circle cx="606.3" cy="579.0" r="2.75" fill="#ff8000" stroke="#e87400" stroke-width="0.5"/>
<circle cx="612.7" cy="576.5" r="2.75" fill="#ff8000" stroke="#e87400" stroke-width="0.5"/>
<circle cx="619.1" cy="580.6" r="2.75" fill="#ff8000" stroke="#e87400" stroke-width="0.5"/>
<circle cx="625.5" cy="580.6" r="2.75" fill="#ff8000" stroke="#e87400" stroke-width="0.5"/>
<circle cx="631.9" cy="579.1" r="2.75" fill="#ff8000" stroke="#e87400" stroke-width="0.5"/>
<circle cx="638.3" cy="579.9" r="2.75" fill="#ff8000" stroke="#e87400" stroke-width="0.5"/>
<circle cx="644.7" cy="578.3" r="2.75" fill="#ff8000" stroke="#e87400" stroke-width="0.5"/>
<circle cx="651.1" cy="580.6" r="2.75" fill="#ff8000" stroke="#e87400" stroke-width="0.5"/>
<circle cx="657.5" cy="573.2" r="2.75" fill="#ff8000" stroke="#e87400" stroke-width="0.5"/>
<circle cx="664.0" cy="579.0" r="2.75" fill="#ff8000" stroke="#e87400" stroke-width="0.5"/>
<circle cx="670.4" cy="579.0" r="2.75" fill="#ff8000" stroke="#e87400" stroke-width="0.5"/>
<circle cx="676.8" cy="578.1" r="2.75" fill="#ff8000" stroke="#e87400" stroke-width="0.5"/>
<polyline points="356.3,559.8 362.7,559.2 369.1,560.6 375.5,562.2 382.0,563.3 388.4,568.5 394.8,573.0 401.2,576.1 407.6,573.3 414.0,560.9 420.4,544.0 426.8,524.3 433.2,504.2 439.6,475.7 446.0,458.1 452.5,440.6 458.9,420.9 465.3,402.8 471.7,385.9 478.1,368.7 484.5,350.1 490.9,339.1 497.3,316.5 503.7,312.6 510.1,297.4 516.5,283.5 523.0,268.9 529.4,257.2 535.8,247.2 542.2,238.7 548.6,233.1 555.0,226.4 561.4,220.2 567.8,213.5 574.2,207.7 580.6,200.5 587.0,196.1 593.5,192.1 599.9,187.8 606.3,183.8 612.7,179.6 619.1,176.0 625.5,173.1 631.9,170.0 638.3,168.0 644.7,165.0 651.1,163.9 657.5,162.4 664.0,162.6 670.4,161.3 676.8,160.2 683.2,159.0 689.6,158.4 696.0,157.4 702.4,157.6 708.8,157.8 715.2,156.3 721.6,155.5 728.0,155.3 734.5,155.2 740.9,155.7 747.3,155.2 753.7,154.3 760.1,153.6 766.5,153.4 772.9,153.4 779.3,154.2 785.7,153.6 792.1,154.3 798.5,154.0 805.0,153.7 811.4,153.0 817.8,153.4 824.2,152.2 830.6,152.0 837.0,152.6" fill="none" stroke="#7777ff" stroke-width="0.9"/>
<circle cx="356.3" cy="559.8" r="2.85" fill="#0000ee"/>
<circle cx="362.7" cy="559.2" r="2.85" fill="#0000ee"/>
<circle cx="369.1" cy="560.6" r="2.85" fill="#0000ee"/>
<circle cx="375.5" cy="562.2" r="2.85" fill="#0000ee"/>
<circle cx="382.0" cy="563.3" r="2.85" fill="#0000ee"/>
<circle cx="388.4" cy="568.5" r="2.85" fill="#0000ee"/>
<circle cx="394.8" cy="573.0" r="2.85" fill="#0000ee"/>
<circle cx="401.2" cy="576.1" r="2.85" fill="#0000ee"/>
<circle cx="407.6" cy="573.3" r="2.85" fill="#0000ee"/>
<circle cx="414.0" cy="560.9" r="2.85" fill="#0000ee"/>
<circle cx="420.4" cy="544.0" r="2.85" fill="#0000ee"/>
<circle cx="426.8" cy="524.3" r="2.85" fill="#0000ee"/>
<circle cx="433.2" cy="504.2" r="2.85" fill="#0000ee"/>
<circle cx="439.6" cy="475.7" r="2.85" fill="#0000ee"/>
<circle cx="446.0" cy="458.1" r="2.85" fill="#0000ee"/>
<circle cx="452.5" cy="440.6" r="2.85" fill="#0000ee"/>
<circle cx="458.9" cy="420.9" r="2.85" fill="#0000ee"/>
<circle cx="465.3" cy="402.8" r="2.85" fill="#0000ee"/>
<circle cx="471.7" cy="385.9" r="2.85" fill="#0000ee"/>
<circle cx="478.1" cy="368.7" r="2.85" fill="#0000ee"/>
<circle cx="484.5" cy="350.1" r="2.85" fill="#0000ee"/>
<circle cx="490.9" cy="339.1" r="2.85" fill="#0000ee"/>
<circle cx="497.3" cy="316.5" r="2.85" fill="#0000ee"/>
<circle cx="503.7" cy="312.6" r="2.85" fill="#0000ee"/>
<circle cx="510.1" cy="297.4" r="2.85" fill="#0000ee"/>
<circle cx="516.5" cy="283.5" r="2.85" fill="#0000ee"/>
<circle cx="523.0" cy="268.9" r="2.85" fill="#0000ee"/>
<circle cx="529.4" cy="257.2" r="2.85" fill="#0000ee"/>
<circle cx="535.8" cy="247.2" r="2.85" fill="#0000ee"/>
<circle cx="542.2" cy="238.7" r="2.85" fill="#0000ee"/>
<circle cx="548.6" cy="233.1" r="2.85" fill="#0000ee"/>
<circle cx="555.0" cy="226.4" r="2.85" fill="#0000ee"/>
<circle cx="561.4" cy="220.2" r="2.85" fill="#0000ee"/>
<circle cx="567.8" cy="213.5" r="2.85" fill="#0000ee"/>
<circle cx="574.2" cy="207.7" r="2.85" fill="#0000ee"/>
<circle cx="580.6" cy="200.5" r="2.85" fill="#0000ee"/>
<circle cx="587.0" cy="196.1" r="2.85" fill="#0000ee"/>
<circle cx="593.5" cy="192.1" r="2.85" fill="#0000ee"/>
<circle cx="599.9" cy="187.8" r="2.85" fill="#0000ee"/>
<circle cx="606.3" cy="183.8" r="2.85" fill="#0000ee"/>
<circle cx="612.7" cy="179.6" r="2.85" fill="#0000ee"/>
<circle cx="619.1" cy="176.0" r="2.85" fill="#0000ee"/>
<circle cx="625.5" cy="173.1" r="2.85" fill="#0000ee"/>
<circle cx="631.9" cy="170.0" r="2.85" fill="#0000ee"/>
<circle cx="638.3" cy="168.0" r="2.85" fill="#0000ee"/>
<circle cx="644.7" cy="165.0" r="2.85" fill="#0000ee"/>
<circle cx="651.1" cy="163.9" r="2.85" fill="#0000ee"/>
<circle cx="657.5" cy="162.4" r="2.85" fill="#0000ee"/>
<circle cx="664.0" cy="162.6" r="2.85" fill="#0000ee"/>
<circle cx="670.4" cy="161.3" r="2.85" fill="#0000ee"/>
<circle cx="676.8" cy="160.2" r="2.85" fill="#0000ee"/>
<circle cx="683.2" cy="159.0" r="2.85" fill="#0000ee"/>
<circle cx="689.6" cy="158.4" r="2.85" fill="#0000ee"/>
<circle cx="696.0" cy="157.4" r="2.85" fill="#0000ee"/>
<circle cx="702.4" cy="157.6" r="2.85" fill="#0000ee"/>
<circle cx="708.8" cy="157.8" r="2.85" fill="#0000ee"/>
<circle cx="715.2" cy="156.3" r="2.85" fill="#0000ee"/>
<circle cx="721.6" cy="155.5" r="2.85" fill="#0000ee"/>
<circle cx="728.0" cy="155.3" r="2.85" fill="#0000ee"/>
<circle cx="734.5" cy="155.2" r="2.85" fill="#0000ee"/>
<circle cx="740.9" cy="155.7" r="2.85" fill="#0000ee"/>
<circle cx="747.3" cy="155.2" r="2.85" fill="#0000ee"/>
<circle cx="753.7" cy="154.3" r="2.85" fill="#0000ee"/>
<circle cx="760.1" cy="153.6" r="2.85" fill="#0000ee"/>
<circle cx="766.5" cy="153.4" r="2.85" fill="#0000ee"/>
<circle cx="772.9" cy="153.4" r="2.85" fill="#0000ee"/>
<circle cx="779.3" cy="154.2" r="2.85" fill="#0000ee"/>
<circle cx="785.7" cy="153.6" r="2.85" fill="#0000ee"/>
<circle cx="792.1" cy="154.3" r="2.85" fill="#0000ee"/>
<circle cx="798.5" cy="154.0" r="2.85" fill="#0000ee"/>
<circle cx="805.0" cy="153.7" r="2.85" fill="#0000ee"/>
<circle cx="811.4" cy="153.0" r="2.85" fill="#0000ee"/>
<circle cx="817.8" cy="153.4" r="2.85" fill="#0000ee"/>
<circle cx="824.2" cy="152.2" r="2.85" fill="#0000ee"/>
<circle cx="830.6" cy="152.0" r="2.85" fill="#0000ee"/>
<circle cx="837.0" cy="152.6" r="2.85" fill="#0000ee"/>
<polyline points="356.3,566.1 362.7,566.2 369.1,566.8 375.5,567.0 382.0,569.0 388.4,569.3 394.8,570.2 401.2,571.0 407.6,571.3 414.0,572.9 420.4,573.5 426.8,575.3 433.2,572.1 439.6,555.2 446.0,537.1 452.5,522.5 458.9,508.2 465.3,493.3 471.7,479.6 478.1,465.1 484.5,446.7 490.9,427.9 497.3,409.7 503.7,399.2 510.1,386.7 516.5,374.1 523.0,365.0 529.4,355.9 535.8,346.8 542.2,336.6 548.6,326.5 555.0,315.5 561.4,305.3 567.8,296.5 574.2,285.9 580.6,275.5 587.0,265.8 593.5,254.9 599.9,248.0 606.3,241.4 612.7,233.9 619.1,226.3 625.5,219.4 631.9,211.9 638.3,205.8 644.7,201.7 651.1,196.5 657.5,193.4 664.0,189.4 670.4,186.0 676.8,183.1 683.2,179.7 689.6,178.0 696.0,175.9 702.4,173.8 708.8,171.8 715.2,171.5 721.6,169.6 728.0,167.4 734.5,166.8 740.9,167.0 747.3,164.8 753.7,164.2 760.1,164.4 766.5,164.1 772.9,163.3 779.3,163.1 785.7,161.5 792.1,161.2 798.5,162.2 805.0,161.5 811.4,160.0 817.8,159.7 824.2,159.8 830.6,160.6 837.0,159.3" fill="none" stroke="#7777ff" stroke-width="0.9"/>
<circle cx="356.3" cy="566.1" r="2.85" fill="#0000ee"/>
<circle cx="362.7" cy="566.2" r="2.85" fill="#0000ee"/>
<circle cx="369.1" cy="566.8" r="2.85" fill="#0000ee"/>
<circle cx="375.5" cy="567.0" r="2.85" fill="#0000ee"/>
<circle cx="382.0" cy="569.0" r="2.85" fill="#0000ee"/>
<circle cx="388.4" cy="569.3" r="2.85" fill="#0000ee"/>
<circle cx="394.8" cy="570.2" r="2.85" fill="#0000ee"/>
<circle cx="401.2" cy="571.0" r="2.85" fill="#0000ee"/>
<circle cx="407.6" cy="571.3" r="2.85" fill="#0000ee"/>
<circle cx="414.0" cy="572.9" r="2.85" fill="#0000ee"/>
<circle cx="420.4" cy="573.5" r="2.85" fill="#0000ee"/>
<circle cx="426.8" cy="575.3" r="2.85" fill="#0000ee"/>
<circle cx="433.2" cy="572.1" r="2.85" fill="#0000ee"/>
<circle cx="439.6" cy="555.2" r="2.85" fill="#0000ee"/>
<circle cx="446.0" cy="537.1" r="2.85" fill="#0000ee"/>
<circle cx="452.5" cy="522.5" r="2.85" fill="#0000ee"/>
<circle cx="458.9" cy="508.2" r="2.85" fill="#0000ee"/>
<circle cx="465.3" cy="493.3" r="2.85" fill="#0000ee"/>
<circle cx="471.7" cy="479.6" r="2.85" fill="#0000ee"/>
<circle cx="478.1" cy="465.1" r="2.85" fill="#0000ee"/>
<circle cx="484.5" cy="446.7" r="2.85" fill="#0000ee"/>
<circle cx="490.9" cy="427.9" r="2.85" fill="#0000ee"/>
<circle cx="497.3" cy="409.7" r="2.85" fill="#0000ee"/>
<circle cx="503.7" cy="399.2" r="2.85" fill="#0000ee"/>
<circle cx="510.1" cy="386.7" r="2.85" fill="#0000ee"/>
<circle cx="516.5" cy="374.1" r="2.85" fill="#0000ee"/>
<circle cx="523.0" cy="365.0" r="2.85" fill="#0000ee"/>
<circle cx="529.4" cy="355.9" r="2.85" fill="#0000ee"/>
<circle cx="535.8" cy="346.8" r="2.85" fill="#0000ee"/>
<circle cx="542.2" cy="336.6" r="2.85" fill="#0000ee"/>
<circle cx="548.6" cy="326.5" r="2.85" fill="#0000ee"/>
<circle cx="555.0" cy="315.5" r="2.85" fill="#0000ee"/>
<circle cx="561.4" cy="305.3" r="2.85" fill="#0000ee"/>
<circle cx="567.8" cy="296.5" r="2.85" fill="#0000ee"/>
<circle cx="574.2" cy="285.9" r="2.85" fill="#0000ee"/>
<circle cx="580.6" cy="275.5" r="2.85" fill="#0000ee"/>
<circle cx="587.0" cy="265.8" r="2.85" fill="#0000ee"/>
<circle cx="593.5" cy="254.9" r="2.85" fill="#0000ee"/>
<circle cx="599.9" cy="248.0" r="2.85" fill="#0000ee"/>
<circle cx="606.3" cy="241.4" r="2.85" fill="#0000ee"/>
<circle cx="612.7" cy="233.9" r="2.85" fill="#0000ee"/>
<circle cx="619.1" cy="226.3" r="2.85" fill="#0000ee"/>
<circle cx="625.5" cy="219.4" r="2.85" fill="#0000ee"/>
<circle cx="631.9" cy="211.9" r="2.85" fill="#0000ee"/>
<circle cx="638.3" cy="205.8" r="2.85" fill="#0000ee"/>
<circle cx="644.7" cy="201.7" r="2.85" fill="#0000ee"/>
<circle cx="651.1" cy="196.5" r="2.85" fill="#0000ee"/>
<circle cx="657.5" cy="193.4" r="2.85" fill="#0000ee"/>
<circle cx="664.0" cy="189.4" r="2.85" fill="#0000ee"/>
<circle cx="670.4" cy="186.0" r="2.85" fill="#0000ee"/>
<circle cx="676.8" cy="183.1" r="2.85" fill="#0000ee"/>
<circle cx="683.2" cy="179.7" r="2.85" fill="#0000ee"/>
<circle cx="689.6" cy="178.0" r="2.85" fill="#0000ee"/>
<circle cx="696.0" cy="175.9" r="2.85" fill="#0000ee"/>
<circle cx="702.4" cy="173.8" r="2.85" fill="#0000ee"/>
<circle cx="708.8" cy="171.8" r="2.85" fill="#0000ee"/>
<circle cx="715.2" cy="171.5" r="2.85" fill="#0000ee"/>
<circle cx="721.6" cy="169.6" r="2.85" fill="#0000ee"/>
<circle cx="728.0" cy="167.4" r="2.85" fill="#0000ee"/>
<circle cx="734.5" cy="166.8" r="2.85" fill="#0000ee"/>
<circle cx="740.9" cy="167.0" r="2.85" fill="#0000ee"/>
<circle cx="747.3" cy="164.8" r="2.85" fill="#0000ee"/>
<circle cx="753.7" cy="164.2" r="2.85" fill="#0000ee"/>
<circle cx="760.1" cy="164.4" r="2.85" fill="#0000ee"/>
<circle cx="766.5" cy="164.1" r="2.85" fill="#0000ee"/>
<circle cx="772.9" cy="163.3" r="2.85" fill="#0000ee"/>
<circle cx="779.3" cy="163.1" r="2.85" fill="#0000ee"/>
<circle cx="785.7" cy="161.5" r="2.85" fill="#0000ee"/>
<circle cx="792.1" cy="161.2" r="2.85" fill="#0000ee"/>
<circle cx="798.5" cy="162.2" r="2.85" fill="#0000ee"/>
<circle cx="805.0" cy="161.5" r="2.85" fill="#0000ee"/>
<circle cx="811.4" cy="160.0" r="2.85" fill="#0000ee"/>
<circle cx="817.8" cy="159.7" r="2.85" fill="#0000ee"/>
<circle cx="824.2" cy="159.8" r="2.85" fill="#0000ee"/>
<circle cx="830.6" cy="160.6" r="2.85" fill="#0000ee"/>
<circle cx="837.0" cy="159.3" r="2.85" fill="#0000ee"/>
<polyline points="356.3,572.3 362.7,573.5 369.1,573.7 375.5,574.9 382.0,574.6 388.4,575.1 394.8,575.6 401.2,577.6 407.6,577.7 414.0,580.3 420.4,581.0 426.8,581.3 433.2,580.7 439.6,562.6 446.0,545.9 452.5,529.4 458.9,516.8 465.3,504.1 471.7,491.3 478.1,475.7 484.5,461.4 490.9,444.0 497.3,427.6 503.7,412.9 510.1,400.9 516.5,388.7 523.0,377.9 529.4,366.7 535.8,356.7 542.2,347.5 548.6,337.1 555.0,327.3 561.4,316.8 567.8,308.2 574.2,297.4 580.6,289.1 587.0,279.4 593.5,269.3 599.9,259.9 606.3,252.8 612.7,244.6 619.1,238.1 625.5,230.7 631.9,225.2 638.3,218.1 644.7,212.3 651.1,206.6 657.5,203.1 664.0,199.0 670.4,195.6 676.8,191.0 683.2,188.7 689.6,185.8 696.0,183.7 702.4,180.5 708.8,179.5 715.2,178.4 721.6,176.3 728.0,173.8 734.5,172.9 740.9,172.0 747.3,172.0 753.7,171.1 760.1,170.7 766.5,170.3 772.9,170.0 779.3,170.0 785.7,169.8 792.1,170.0 798.5,169.4 805.0,169.3 811.4,169.3 817.8,169.0 824.2,168.7 830.6,167.4 837.0,168.3" fill="none" stroke="#7777ff" stroke-width="0.9"/>
<circle cx="356.3" cy="572.3" r="2.85" fill="#0000ee"/>
<circle cx="362.7" cy="573.5" r="2.85" fill="#0000ee"/>
<circle cx="369.1" cy="573.7" r="2.85" fill="#0000ee"/>
<circle cx="375.5" cy="574.9" r="2.85" fill="#0000ee"/>
<circle cx="382.0" cy="574.6" r="2.85" fill="#0000ee"/>
<circle cx="388.4" cy="575.1" r="2.85" fill="#0000ee"/>
<circle cx="394.8" cy="575.6" r="2.85" fill="#0000ee"/>
<circle cx="401.2" cy="577.6" r="2.85" fill="#0000ee"/>
<circle cx="407.6" cy="577.7" r="2.85" fill="#0000ee"/>
<circle cx="414.0" cy="580.3" r="2.85" fill="#0000ee"/>
<circle cx="420.4" cy="581.0" r="2.85" fill="#0000ee"/>
<circle cx="426.8" cy="581.3" r="2.85" fill="#0000ee"/>
<circle cx="433.2" cy="580.7" r="2.85" fill="#0000ee"/>
<circle cx="439.6" cy="562.6" r="2.85" fill="#0000ee"/>
<circle cx="446.0" cy="545.9" r="2.85" fill="#0000ee"/>
<circle cx="452.5" cy="529.4" r="2.85" fill="#0000ee"/>
<circle cx="458.9" cy="516.8" r="2.85" fill="#0000ee"/>
<circle cx="465.3" cy="504.1" r="2.85" fill="#0000ee"/>
<circle cx="471.7" cy="491.3" r="2.85" fill="#0000ee"/>
<circle cx="478.1" cy="475.7" r="2.85" fill="#0000ee"/>
<circle cx="484.5" cy="461.4" r="2.85" fill="#0000ee"/>
<circle cx="490.9" cy="444.0" r="2.85" fill="#0000ee"/>
<circle cx="497.3" cy="427.6" r="2.85" fill="#0000ee"/>
<circle cx="503.7" cy="412.9" r="2.85" fill="#0000ee"/>
<circle cx="510.1" cy="400.9" r="2.85" fill="#0000ee"/>
<circle cx="516.5" cy="388.7" r="2.85" fill="#0000ee"/>
<circle cx="523.0" cy="377.9" r="2.85" fill="#0000ee"/>
<circle cx="529.4" cy="366.7" r="2.85" fill="#0000ee"/>
<circle cx="535.8" cy="356.7" r="2.85" fill="#0000ee"/>
<circle cx="542.2" cy="347.5" r="2.85" fill="#0000ee"/>
<circle cx="548.6" cy="337.1" r="2.85" fill="#0000ee"/>
<circle cx="555.0" cy="327.3" r="2.85" fill="#0000ee"/>
<circle cx="561.4" cy="316.8" r="2.85" fill="#0000ee"/>
<circle cx="567.8" cy="308.2" r="2.85" fill="#0000ee"/>
<circle cx="574.2" cy="297.4" r="2.85" fill="#0000ee"/>
<circle cx="580.6" cy="289.1" r="2.85" fill="#0000ee"/>
<circle cx="587.0" cy="279.4" r="2.85" fill="#0000ee"/>
<circle cx="593.5" cy="269.3" r="2.85" fill="#0000ee"/>
<circle cx="599.9" cy="259.9" r="2.85" fill="#0000ee"/>
<circle cx="606.3" cy="252.8" r="2.85" fill="#0000ee"/>
<circle cx="612.7" cy="244.6" r="2.85" fill="#0000ee"/>
<circle cx="619.1" cy="238.1" r="2.85" fill="#0000ee"/>
<circle cx="625.5" cy="230.7" r="2.85" fill="#0000ee"/>
<circle cx="631.9" cy="225.2" r="2.85" fill="#0000ee"/>
<circle cx="638.3" cy="218.1" r="2.85" fill="#0000ee"/>
<circle cx="644.7" cy="212.3" r="2.85" fill="#0000ee"/>
<circle cx="651.1" cy="206.6" r="2.85" fill="#0000ee"/>
<circle cx="657.5" cy="203.1" r="2.85" fill="#0000ee"/>
<circle cx="664.0" cy="199.0" r="2.85" fill="#0000ee"/>
<circle cx="670.4" cy="195.6" r="2.85" fill="#0000ee"/>
<circle cx="676.8" cy="191.0" r="2.85" fill="#0000ee"/>
<circle cx="683.2" cy="188.7" r="2.85" fill="#0000ee"/>
<circle cx="689.6" cy="185.8" r="2.85" fill="#0000ee"/>
<circle cx="696.0" cy="183.7" r="2.85" fill="#0000ee"/>
<circle cx="702.4" cy="180.5" r="2.85" fill="#0000ee"/>
<circle cx="708.8" cy="179.5" r="2.85" fill="#0000ee"/>
<circle cx="715.2" cy="178.4" r="2.85" fill="#0000ee"/>
<circle cx="721.6" cy="176.3" r="2.85" fill="#0000ee"/>
<circle cx="728.0" cy="173.8" r="2.85" fill="#0000ee"/>
<circle cx="734.5" cy="172.9" r="2.85" fill="#0000ee"/>
<circle cx="740.9" cy="172.0" r="2.85" fill="#0000ee"/>
<circle cx="747.3" cy="172.0" r="2.85" fill="#0000ee"/>
<circle cx="753.7" cy="171.1" r="2.85" fill="#0000ee"/>
<circle cx="760.1" cy="170.7" r="2.85" fill="#0000ee"/>
<circle cx="766.5" cy="170.3" r="2.85" fill="#0000ee"/>
<circle cx="772.9" cy="170.0" r="2.85" fill="#0000ee"/>
<circle cx="779.3" cy="170.0" r="2.85" fill="#0000ee"/>
<circle cx="785.7" cy="169.8" r="2.85" fill="#0000ee"/>
<circle cx="792.1" cy="170.0" r="2.85" fill="#0000ee"/>
<circle cx="798.5" cy="169.4" r="2.85" fill="#0000ee"/>
<circle cx="805.0" cy="169.3" r="2.85" fill="#0000ee"/>
<circle cx="811.4" cy="169.3" r="2.85" fill="#0000ee"/>
<circle cx="817.8" cy="169.0" r="2.85" fill="#0000ee"/>
<circle cx="824.2" cy="168.7" r="2.85" fill="#0000ee"/>
<circle cx="830.6" cy="167.4" r="2.85" fill="#0000ee"/>
<circle cx="837.0" cy="168.3" r="2.85" fill="#0000ee"/>
<polyline points="356.3,590.6 362.7,590.7 369.1,592.1 375.5,591.7 382.0,593.7 388.4,593.6 394.8,594.7 401.2,594.8 407.6,596.0 414.0,597.3 420.4,598.4 426.8,599.1 433.2,598.2 439.6,581.9 446.0,562.1 452.5,545.7 458.9,530.7 465.3,518.0 471.7,505.4 478.1,491.1 484.5,475.8 490.9,460.0 497.3,444.4 503.7,427.9 510.1,415.9 516.5,404.8 523.0,392.7 529.4,381.2 535.8,371.8 542.2,361.7 548.6,351.7 555.0,342.0 561.4,331.9 567.8,321.6 574.2,313.7 580.6,303.7 587.0,295.1 593.5,285.9 599.9,277.2 606.3,269.1 612.7,259.0 619.1,250.8 625.5,244.9 631.9,238.9 638.3,233.7 644.7,227.0 651.1,223.2 657.5,218.5 664.0,214.6 670.4,208.9 676.8,206.0 683.2,203.7 689.6,202.2 696.0,198.4 702.4,197.0 708.8,196.7 715.2,196.0 721.6,193.6 728.0,193.0 734.5,192.3 740.9,191.2 747.3,190.2 753.7,189.3 760.1,188.0 766.5,187.6 772.9,186.8 779.3,187.4 785.7,186.1 792.1,185.7 798.5,186.4 805.0,185.4 811.4,184.9 817.8,184.6 824.2,184.0 830.6,183.7 837.0,182.7" fill="none" stroke="#7777ff" stroke-width="0.9"/>
<circle cx="356.3" cy="590.6" r="2.85" fill="#0000ee"/>
<circle cx="362.7" cy="590.7" r="2.85" fill="#0000ee"/>
<circle cx="369.1" cy="592.1" r="2.85" fill="#0000ee"/>
<circle cx="375.5" cy="591.7" r="2.85" fill="#0000ee"/>
<circle cx="382.0" cy="593.7" r="2.85" fill="#0000ee"/>
<circle cx="388.4" cy="593.6" r="2.85" fill="#0000ee"/>
<circle cx="394.8" cy="594.7" r="2.85" fill="#0000ee"/>
<circle cx="401.2" cy="594.8" r="2.85" fill="#0000ee"/>
<circle cx="407.6" cy="596.0" r="2.85" fill="#0000ee"/>
<circle cx="414.0" cy="597.3" r="2.85" fill="#0000ee"/>
<circle cx="420.4" cy="598.4" r="2.85" fill="#0000ee"/>
<circle cx="426.8" cy="599.1" r="2.85" fill="#0000ee"/>
<circle cx="433.2" cy="598.2" r="2.85" fill="#0000ee"/>
<circle cx="439.6" cy="581.9" r="2.85" fill="#0000ee"/>
<circle cx="446.0" cy="562.1" r="2.85" fill="#0000ee"/>
<circle cx="452.5" cy="545.7" r="2.85" fill="#0000ee"/>
<circle cx="458.9" cy="530.7" r="2.85" fill="#0000ee"/>
<circle cx="465.3" cy="518.0" r="2.85" fill="#0000ee"/>
<circle cx="471.7" cy="505.4" r="2.85" fill="#0000ee"/>
<circle cx="478.1" cy="491.1" r="2.85" fill="#0000ee"/>
<circle cx="484.5" cy="475.8" r="2.85" fill="#0000ee"/>
<circle cx="490.9" cy="460.0" r="2.85" fill="#0000ee"/>
<circle cx="497.3" cy="444.4" r="2.85" fill="#0000ee"/>
<circle cx="503.7" cy="427.9" r="2.85" fill="#0000ee"/>
<circle cx="510.1" cy="415.9" r="2.85" fill="#0000ee"/>
<circle cx="516.5" cy="404.8" r="2.85" fill="#0000ee"/>
<circle cx="523.0" cy="392.7" r="2.85" fill="#0000ee"/>
<circle cx="529.4" cy="381.2" r="2.85" fill="#0000ee"/>
<circle cx="535.8" cy="371.8" r="2.85" fill="#0000ee"/>
<circle cx="542.2" cy="361.7" r="2.85" fill="#0000ee"/>
<circle cx="548.6" cy="351.7" r="2.85" fill="#0000ee"/>
<circle cx="555.0" cy="342.0" r="2.85" fill="#0000ee"/>
<circle cx="561.4" cy="331.9" r="2.85" fill="#0000ee"/>
<circle cx="567.8" cy="321.6" r="2.85" fill="#0000ee"/>
<circle cx="574.2" cy="313.7" r="2.85" fill="#0000ee"/>
<circle cx="580.6" cy="303.7" r="2.85" fill="#0000ee"/>
<circle cx="587.0" cy="295.1" r="2.85" fill="#0000ee"/>
<circle cx="593.5" cy="285.9" r="2.85" fill="#0000ee"/>
<circle cx="599.9" cy="277.2" r="2.85" fill="#0000ee"/>
<circle cx="606.3" cy="269.1" r="2.85" fill="#0000ee"/>
<circle cx="612.7" cy="259.0" r="2.85" fill="#0000ee"/>
<circle cx="619.1" cy="250.8" r="2.85" fill="#0000ee"/>
<circle cx="625.5" cy="244.9" r="2.85" fill="#0000ee"/>
<circle cx="631.9" cy="238.9" r="2.85" fill="#0000ee"/>
<circle cx="638.3" cy="233.7" r="2.85" fill="#0000ee"/>
<circle cx="644.7" cy="227.0" r="2.85" fill="#0000ee"/>
<circle cx="651.1" cy="223.2" r="2.85" fill="#0000ee"/>
<circle cx="657.5" cy="218.5" r="2.85" fill="#0000ee"/>
<circle cx="664.0" cy="214.6" r="2.85" fill="#0000ee"/>
<circle cx="670.4" cy="208.9" r="2.85" fill="#0000ee"/>
<circle cx="676.8" cy="206.0" r="2.85" fill="#0000ee"/>
<circle cx="683.2" cy="203.7" r="2.85" fill="#0000ee"/>
<circle cx="689.6" cy="202.2" r="2.85" fill="#0000ee"/>
<circle cx="696.0" cy="198.4" r="2.85" fill="#0000ee"/>
<circle cx="702.4" cy="197.0" r="2.85" fill="#0000ee"/>
<circle cx="708.8" cy="196.7" r="2.85" fill="#0000ee"/>
<circle cx="715.2" cy="196.0" r="2.85" fill="#0000ee"/>
<circle cx="721.6" cy="193.6" r="2.85" fill="#0000ee"/>
<circle cx="728.0" cy="193.0" r="2.85" fill="#0000ee"/>
<circle cx="734.5" cy="192.3" r="2.85" fill="#0000ee"/>
<circle cx="740.9" cy="191.2" r="2.85" fill="#0000ee"/>
<circle cx="747.3" cy="190.2" r="2.85" fill="#0000ee"/>
<circle cx="753.7" cy="189.3" r="2.85" fill="#0000ee"/>
<circle cx="760.1" cy="188.0" r="2.85" fill="#0000ee"/>
<circle cx="766.5" cy="187.6" r="2.85" fill="#0000ee"/>
<circle cx="772.9" cy="186.8" r="2.85" fill="#0000ee"/>
<circle cx="779.3" cy="187.4" r="2.85" fill="#0000ee"/>
<circle cx="785.7" cy="186.1" r="2.85" fill="#0000ee"/>
<circle cx="792.1" cy="185.7" r="2.85" fill="#0000ee"/>
<circle cx="798.5" cy="186.4" r="2.85" fill="#0000ee"/>
<circle cx="805.0" cy="185.4" r="2.85" fill="#0000ee"/>
<circle cx="811.4" cy="184.9" r="2.85" fill="#0000ee"/>
<circle cx="817.8" cy="184.6" r="2.85" fill="#0000ee"/>
<circle cx="824.2" cy="184.0" r="2.85" fill="#0000ee"/>
<circle cx="830.6" cy="183.7" r="2.85" fill="#0000ee"/>
<circle cx="837.0" cy="182.7" r="2.85" fill="#0000ee"/>
<polyline points="356.3,595.4 362.7,596.1 369.1,596.7 375.5,598.0 382.0,598.4 388.4,599.1 394.8,600.4 401.2,601.9 407.6,602.4 414.0,602.6 420.4,604.3 426.8,604.3 433.2,603.1 439.6,591.8 446.0,573.4 452.5,556.8 458.9,541.1 465.3,527.8 471.7,514.4 478.1,504.5 484.5,490.1 490.9,477.5 497.3,463.3 503.7,451.6 510.1,436.6 516.5,423.6 523.0,409.4 529.4,395.2 535.8,385.4 542.2,376.0 548.6,367.3 555.0,359.5 561.4,350.3 567.8,343.1 574.2,334.9 580.6,327.0 587.0,318.5 593.5,310.8 599.9,303.0 606.3,296.7 612.7,287.2 619.1,279.1 625.5,270.4 631.9,263.9 638.3,257.7 644.7,251.8 651.1,248.7 657.5,243.4 664.0,240.6 670.4,235.8 676.8,233.7 683.2,230.1 689.6,228.4 696.0,224.9 702.4,223.3 708.8,222.6 715.2,220.9 721.6,220.2 728.0,220.1 734.5,218.3 740.9,217.5 747.3,217.1 753.7,215.4 760.1,214.9 766.5,214.5 772.9,214.3 779.3,213.8 785.7,213.8 792.1,213.1 798.5,213.3 805.0,211.5 811.4,212.0 817.8,211.8 824.2,210.4 830.6,209.6 837.0,209.9" fill="none" stroke="#7777ff" stroke-width="0.9"/>
<circle cx="356.3" cy="595.4" r="2.85" fill="#0000ee"/>
<circle cx="362.7" cy="596.1" r="2.85" fill="#0000ee"/>
<circle cx="369.1" cy="596.7" r="2.85" fill="#0000ee"/>
<circle cx="375.5" cy="598.0" r="2.85" fill="#0000ee"/>
<circle cx="382.0" cy="598.4" r="2.85" fill="#0000ee"/>
<circle cx="388.4" cy="599.1" r="2.85" fill="#0000ee"/>
<circle cx="394.8" cy="600.4" r="2.85" fill="#0000ee"/>
<circle cx="401.2" cy="601.9" r="2.85" fill="#0000ee"/>
<circle cx="407.6" cy="602.4" r="2.85" fill="#0000ee"/>
<circle cx="414.0" cy="602.6" r="2.85" fill="#0000ee"/>
<circle cx="420.4" cy="604.3" r="2.85" fill="#0000ee"/>
<circle cx="426.8" cy="604.3" r="2.85" fill="#0000ee"/>
<circle cx="433.2" cy="603.1" r="2.85" fill="#0000ee"/>
<circle cx="439.6" cy="591.8" r="2.85" fill="#0000ee"/>
<circle cx="446.0" cy="573.4" r="2.85" fill="#0000ee"/>
<circle cx="452.5" cy="556.8" r="2.85" fill="#0000ee"/>
<circle cx="458.9" cy="541.1" r="2.85" fill="#0000ee"/>
<circle cx="465.3" cy="527.8" r="2.85" fill="#0000ee"/>
<circle cx="471.7" cy="514.4" r="2.85" fill="#0000ee"/>
<circle cx="478.1" cy="504.5" r="2.85" fill="#0000ee"/>
<circle cx="484.5" cy="490.1" r="2.85" fill="#0000ee"/>
<circle cx="490.9" cy="477.5" r="2.85" fill="#0000ee"/>
<circle cx="497.3" cy="463.3" r="2.85" fill="#0000ee"/>
<circle cx="503.7" cy="451.6" r="2.85" fill="#0000ee"/>
<circle cx="510.1" cy="436.6" r="2.85" fill="#0000ee"/>
<circle cx="516.5" cy="423.6" r="2.85" fill="#0000ee"/>
<circle cx="523.0" cy="409.4" r="2.85" fill="#0000ee"/>
<circle cx="529.4" cy="395.2" r="2.85" fill="#0000ee"/>
<circle cx="535.8" cy="385.4" r="2.85" fill="#0000ee"/>
<circle cx="542.2" cy="376.0" r="2.85" fill="#0000ee"/>
<circle cx="548.6" cy="367.3" r="2.85" fill="#0000ee"/>
<circle cx="555.0" cy="359.5" r="2.85" fill="#0000ee"/>
<circle cx="561.4" cy="350.3" r="2.85" fill="#0000ee"/>
<circle cx="567.8" cy="343.1" r="2.85" fill="#0000ee"/>
<circle cx="574.2" cy="334.9" r="2.85" fill="#0000ee"/>
<circle cx="580.6" cy="327.0" r="2.85" fill="#0000ee"/>
<circle cx="587.0" cy="318.5" r="2.85" fill="#0000ee"/>
<circle cx="593.5" cy="310.8" r="2.85" fill="#0000ee"/>
<circle cx="599.9" cy="303.0" r="2.85" fill="#0000ee"/>
<circle cx="606.3" cy="296.7" r="2.85" fill="#0000ee"/>
<circle cx="612.7" cy="287.2" r="2.85" fill="#0000ee"/>
<circle cx="619.1" cy="279.1" r="2.85" fill="#0000ee"/>
<circle cx="625.5" cy="270.4" r="2.85" fill="#0000ee"/>
<circle cx="631.9" cy="263.9" r="2.85" fill="#0000ee"/>
<circle cx="638.3" cy="257.7" r="2.85" fill="#0000ee"/>
<circle cx="644.7" cy="251.8" r="2.85" fill="#0000ee"/>
<circle cx="651.1" cy="248.7" r="2.85" fill="#0000ee"/>
<circle cx="657.5" cy="243.4" r="2.85" fill="#0000ee"/>
<circle cx="664.0" cy="240.6" r="2.85" fill="#0000ee"/>
<circle cx="670.4" cy="235.8" r="2.85" fill="#0000ee"/>
<circle cx="676.8" cy="233.7" r="2.85" fill="#0000ee"/>
<circle cx="683.2" cy="230.1" r="2.85" fill="#0000ee"/>
<circle cx="689.6" cy="228.4" r="2.85" fill="#0000ee"/>
<circle cx="696.0" cy="224.9" r="2.85" fill="#0000ee"/>
<circle cx="702.4" cy="223.3" r="2.85" fill="#0000ee"/>
<circle cx="708.8" cy="222.6" r="2.85" fill="#0000ee"/>
<circle cx="715.2" cy="220.9" r="2.85" fill="#0000ee"/>
<circle cx="721.6" cy="220.2" r="2.85" fill="#0000ee"/>
<circle cx="728.0" cy="220.1" r="2.85" fill="#0000ee"/>
<circle cx="734.5" cy="218.3" r="2.85" fill="#0000ee"/>
<circle cx="740.9" cy="217.5" r="2.85" fill="#0000ee"/>
<circle cx="747.3" cy="217.1" r="2.85" fill="#0000ee"/>
<circle cx="753.7" cy="215.4" r="2.85" fill="#0000ee"/>
<circle cx="760.1" cy="214.9" r="2.85" fill="#0000ee"/>
<circle cx="766.5" cy="214.5" r="2.85" fill="#0000ee"/>
<circle cx="772.9" cy="214.3" r="2.85" fill="#0000ee"/>
<circle cx="779.3" cy="213.8" r="2.85" fill="#0000ee"/>
<circle cx="785.7" cy="213.8" r="2.85" fill="#0000ee"/>
<circle cx="792.1" cy="213.1" r="2.85" fill="#0000ee"/>
<circle cx="798.5" cy="213.3" r="2.85" fill="#0000ee"/>
<circle cx="805.0" cy="211.5" r="2.85" fill="#0000ee"/>
<circle cx="811.4" cy="212.0" r="2.85" fill="#0000ee"/>
<circle cx="817.8" cy="211.8" r="2.85" fill="#0000ee"/>
<circle cx="824.2" cy="210.4" r="2.85" fill="#0000ee"/>
<circle cx="830.6" cy="209.6" r="2.85" fill="#0000ee"/>
<circle cx="837.0" cy="209.9" r="2.85" fill="#0000ee"/>
<polyline points="356.3,600.5 362.7,601.7 369.1,602.9 375.5,602.6 382.0,603.4 388.4,604.7 394.8,604.9 401.2,605.7 407.6,606.7 414.0,606.8 420.4,607.3 426.8,608.5 433.2,608.1 439.6,603.1 446.0,584.8 452.5,567.8 458.9,552.7 465.3,539.9 471.7,526.7 478.1,515.0 484.5,501.5 490.9,486.2 497.3,471.7 503.7,460.3 510.1,446.4 516.5,432.6 523.0,419.2 529.4,406.9 535.8,395.3 542.2,384.8 548.6,374.9 555.0,365.7 561.4,355.2 567.8,345.9 574.2,335.1 580.6,326.7 587.0,320.5 593.5,314.4 599.9,309.2 606.3,304.0 612.7,300.0 619.1,297.7 625.5,293.2 631.9,290.5 638.3,288.1 644.7,287.0 651.1,285.3 657.5,283.1 664.0,282.4 670.4,281.6 676.8,280.4 683.2,279.0 689.6,278.5 696.0,277.8 702.4,277.0 708.8,275.4 715.2,275.7 721.6,275.1 728.0,274.0 734.5,273.4 740.9,271.8 747.3,271.8 753.7,269.9 760.1,269.4 766.5,269.4 772.9,269.3 779.3,267.3 785.7,266.9 792.1,266.0 798.5,266.1 805.0,265.0 811.4,264.5 817.8,264.7 824.2,263.9 830.6,263.8 837.0,262.4" fill="none" stroke="#7777ff" stroke-width="0.9"/>
<circle cx="356.3" cy="600.5" r="2.85" fill="#0000ee"/>
<circle cx="362.7" cy="601.7" r="2.85" fill="#0000ee"/>
<circle cx="369.1" cy="602.9" r="2.85" fill="#0000ee"/>
<circle cx="375.5" cy="602.6" r="2.85" fill="#0000ee"/>
<circle cx="382.0" cy="603.4" r="2.85" fill="#0000ee"/>
<circle cx="388.4" cy="604.7" r="2.85" fill="#0000ee"/>
<circle cx="394.8" cy="604.9" r="2.85" fill="#0000ee"/>
<circle cx="401.2" cy="605.7" r="2.85" fill="#0000ee"/>
<circle cx="407.6" cy="606.7" r="2.85" fill="#0000ee"/>
<circle cx="414.0" cy="606.8" r="2.85" fill="#0000ee"/>
<circle cx="420.4" cy="607.3" r="2.85" fill="#0000ee"/>
<circle cx="426.8" cy="608.5" r="2.85" fill="#0000ee"/>
<circle cx="433.2" cy="608.1" r="2.85" fill="#0000ee"/>
<circle cx="439.6" cy="603.1" r="2.85" fill="#0000ee"/>
<circle cx="446.0" cy="584.8" r="2.85" fill="#0000ee"/>
<circle cx="452.5" cy="567.8" r="2.85" fill="#0000ee"/>
<circle cx="458.9" cy="552.7" r="2.85" fill="#0000ee"/>
<circle cx="465.3" cy="539.9" r="2.85" fill="#0000ee"/>
<circle cx="471.7" cy="526.7" r="2.85" fill="#0000ee"/>
<circle cx="478.1" cy="515.0" r="2.85" fill="#0000ee"/>
<circle cx="484.5" cy="501.5" r="2.85" fill="#0000ee"/>
<circle cx="490.9" cy="486.2" r="2.85" fill="#0000ee"/>
<circle cx="497.3" cy="471.7" r="2.85" fill="#0000ee"/>
<circle cx="503.7" cy="460.3" r="2.85" fill="#0000ee"/>
<circle cx="510.1" cy="446.4" r="2.85" fill="#0000ee"/>
<circle cx="516.5" cy="432.6" r="2.85" fill="#0000ee"/>
<circle cx="523.0" cy="419.2" r="2.85" fill="#0000ee"/>
<circle cx="529.4" cy="406.9" r="2.85" fill="#0000ee"/>
<circle cx="535.8" cy="395.3" r="2.85" fill="#0000ee"/>
<circle cx="542.2" cy="384.8" r="2.85" fill="#0000ee"/>
<circle cx="548.6" cy="374.9" r="2.85" fill="#0000ee"/>
<circle cx="555.0" cy="365.7" r="2.85" fill="#0000ee"/>
<circle cx="561.4" cy="355.2" r="2.85" fill="#0000ee"/>
<circle cx="567.8" cy="345.9" r="2.85" fill="#0000ee"/>
<circle cx="574.2" cy="335.1" r="2.85" fill="#0000ee"/>
<circle cx="580.6" cy="326.7" r="2.85" fill="#0000ee"/>
<circle cx="587.0" cy="320.5" r="2.85" fill="#0000ee"/>
<circle cx="593.5" cy="314.4" r="2.85" fill="#0000ee"/>
<circle cx="599.9" cy="309.2" r="2.85" fill="#0000ee"/>
<circle cx="606.3" cy="304.0" r="2.85" fill="#0000ee"/>
<circle cx="612.7" cy="300.0" r="2.85" fill="#0000ee"/>
<circle cx="619.1" cy="297.7" r="2.85" fill="#0000ee"/>
<circle cx="625.5" cy="293.2" r="2.85" fill="#0000ee"/>
<circle cx="631.9" cy="290.5" r="2.85" fill="#0000ee"/>
<circle cx="638.3" cy="288.1" r="2.85" fill="#0000ee"/>
<circle cx="644.7" cy="287.0" r="2.85" fill="#0000ee"/>
<circle cx="651.1" cy="285.3" r="2.85" fill="#0000ee"/>
<circle cx="657.5" cy="283.1" r="2.85" fill="#0000ee"/>
<circle cx="664.0" cy="282.4" r="2.85" fill="#0000ee"/>
<circle cx="670.4" cy="281.6" r="2.85" fill="#0000ee"/>
<circle cx="676.8" cy="280.4" r="2.85" fill="#0000ee"/>
<circle cx="683.2" cy="279.0" r="2.85" fill="#0000ee"/>
<circle cx="689.6" cy="278.5" r="2.85" fill="#0000ee"/>
<circle cx="696.0" cy="277.8" r="2.85" fill="#0000ee"/>
<circle cx="702.4" cy="277.0" r="2.85" fill="#0000ee"/>
<circle cx="708.8" cy="275.4" r="2.85" fill="#0000ee"/>
<circle cx="715.2" cy="275.7" r="2.85" fill="#0000ee"/>
<circle cx="721.6" cy="275.1" r="2.85" fill="#0000ee"/>
<circle cx="728.0" cy="274.0" r="2.85" fill="#0000ee"/>
<circle cx="734.5" cy="273.4" r="2.85" fill="#0000ee"/>
<circle cx="740.9" cy="271.8" r="2.85" fill="#0000ee"/>
<circle cx="747.3" cy="271.8" r="2.85" fill="#0000ee"/>
<circle cx="753.7" cy="269.9" r="2.85" fill="#0000ee"/>
<circle cx="760.1" cy="269.4" r="2.85" fill="#0000ee"/>
<circle cx="766.5" cy="269.4" r="2.85" fill="#0000ee"/>
<circle cx="772.9" cy="269.3" r="2.85" fill="#0000ee"/>
<circle cx="779.3" cy="267.3" r="2.85" fill="#0000ee"/>
<circle cx="785.7" cy="266.9" r="2.85" fill="#0000ee"/>
<circle cx="792.1" cy="266.0" r="2.85" fill="#0000ee"/>
<circle cx="798.5" cy="266.1" r="2.85" fill="#0000ee"/>
<circle cx="805.0" cy="265.0" r="2.85" fill="#0000ee"/>
<circle cx="811.4" cy="264.5" r="2.85" fill="#0000ee"/>
<circle cx="817.8" cy="264.7" r="2.85" fill="#0000ee"/>
<circle cx="824.2" cy="263.9" r="2.85" fill="#0000ee"/>
<circle cx="830.6" cy="263.8" r="2.85" fill="#0000ee"/>
<circle cx="837.0" cy="262.4" r="2.85" fill="#0000ee"/>
<polyline points="356.3,605.3 362.7,604.9 369.1,606.9 375.5,606.4 382.0,607.3 388.4,608.0 394.8,609.2 401.2,609.1 407.6,610.5 414.0,610.5 420.4,610.5 426.8,612.0 433.2,609.7 439.6,601.3 446.0,584.8 452.5,568.4 458.9,553.6 465.3,532.1 471.7,514.7 478.1,503.7 484.5,493.9 490.9,480.6 497.3,475.9 503.7,467.9 510.1,460.5 516.5,452.3 523.0,446.8 529.4,441.0 535.8,437.8 542.2,434.7 548.6,432.0 555.0,428.5 561.4,426.1 567.8,423.3 574.2,422.3 580.6,419.1 587.0,417.2 593.5,415.9 599.9,414.1 606.3,412.6 612.7,409.4 619.1,407.8 625.5,405.7 631.9,405.1 638.3,403.6 644.7,402.3 651.1,401.8 657.5,400.2 664.0,399.2 670.4,398.0 676.8,395.6 683.2,395.6 689.6,393.8 696.0,392.3 702.4,392.7 708.8,390.4 715.2,389.3 721.6,388.8 728.0,387.8 734.5,388.0 740.9,386.9 747.3,385.2 753.7,384.4 760.1,383.9 766.5,382.6 772.9,381.0 779.3,379.5 785.7,377.7 792.1,377.1 798.5,376.9 805.0,376.0 811.4,375.5 817.8,374.8 824.2,374.0 830.6,371.8 837.0,371.0" fill="none" stroke="#7777ff" stroke-width="0.9"/>
<circle cx="356.3" cy="605.3" r="2.85" fill="#0000ee"/>
<circle cx="362.7" cy="604.9" r="2.85" fill="#0000ee"/>
<circle cx="369.1" cy="606.9" r="2.85" fill="#0000ee"/>
<circle cx="375.5" cy="606.4" r="2.85" fill="#0000ee"/>
<circle cx="382.0" cy="607.3" r="2.85" fill="#0000ee"/>
<circle cx="388.4" cy="608.0" r="2.85" fill="#0000ee"/>
<circle cx="394.8" cy="609.2" r="2.85" fill="#0000ee"/>
<circle cx="401.2" cy="609.1" r="2.85" fill="#0000ee"/>
<circle cx="407.6" cy="610.5" r="2.85" fill="#0000ee"/>
<circle cx="414.0" cy="610.5" r="2.85" fill="#0000ee"/>
<circle cx="420.4" cy="610.5" r="2.85" fill="#0000ee"/>
<circle cx="426.8" cy="612.0" r="2.85" fill="#0000ee"/>
<circle cx="433.2" cy="609.7" r="2.85" fill="#0000ee"/>
<circle cx="439.6" cy="601.3" r="2.85" fill="#0000ee"/>
<circle cx="446.0" cy="584.8" r="2.85" fill="#0000ee"/>
<circle cx="452.5" cy="568.4" r="2.85" fill="#0000ee"/>
<circle cx="458.9" cy="553.6" r="2.85" fill="#0000ee"/>
<circle cx="465.3" cy="532.1" r="2.85" fill="#0000ee"/>
<circle cx="471.7" cy="514.7" r="2.85" fill="#0000ee"/>
<circle cx="478.1" cy="503.7" r="2.85" fill="#0000ee"/>
<circle cx="484.5" cy="493.9" r="2.85" fill="#0000ee"/>
<circle cx="490.9" cy="480.6" r="2.85" fill="#0000ee"/>
<circle cx="497.3" cy="475.9" r="2.85" fill="#0000ee"/>
<circle cx="503.7" cy="467.9" r="2.85" fill="#0000ee"/>
<circle cx="510.1" cy="460.5" r="2.85" fill="#0000ee"/>
<circle cx="516.5" cy="452.3" r="2.85" fill="#0000ee"/>
<circle cx="523.0" cy="446.8" r="2.85" fill="#0000ee"/>
<circle cx="529.4" cy="441.0" r="2.85" fill="#0000ee"/>
<circle cx="535.8" cy="437.8" r="2.85" fill="#0000ee"/>
<circle cx="542.2" cy="434.7" r="2.85" fill="#0000ee"/>
<circle cx="548.6" cy="432.0" r="2.85" fill="#0000ee"/>
<circle cx="555.0" cy="428.5" r="2.85" fill="#0000ee"/>
<circle cx="561.4" cy="426.1" r="2.85" fill="#0000ee"/>
<circle cx="567.8" cy="423.3" r="2.85" fill="#0000ee"/>
<circle cx="574.2" cy="422.3" r="2.85" fill="#0000ee"/>
<circle cx="580.6" cy="419.1" r="2.85" fill="#0000ee"/>
<circle cx="587.0" cy="417.2" r="2.85" fill="#0000ee"/>
<circle cx="593.5" cy="415.9" r="2.85" fill="#0000ee"/>
<circle cx="599.9" cy="414.1" r="2.85" fill="#0000ee"/>
<circle cx="606.3" cy="412.6" r="2.85" fill="#0000ee"/>
<circle cx="612.7" cy="409.4" r="2.85" fill="#0000ee"/>
<circle cx="619.1" cy="407.8" r="2.85" fill="#0000ee"/>
<circle cx="625.5" cy="405.7" r="2.85" fill="#0000ee"/>
<circle cx="631.9" cy="405.1" r="2.85" fill="#0000ee"/>
<circle cx="638.3" cy="403.6" r="2.85" fill="#0000ee"/>
<circle cx="644.7" cy="402.3" r="2.85" fill="#0000ee"/>
<circle cx="651.1" cy="401.8" r="2.85" fill="#0000ee"/>
<circle cx="657.5" cy="400.2" r="2.85" fill="#0000ee"/>
<circle cx="664.0" cy="399.2" r="2.85" fill="#0000ee"/>
<circle cx="670.4" cy="398.0" r="2.85" fill="#0000ee"/>
<circle cx="676.8" cy="395.6" r="2.85" fill="#0000ee"/>
<circle cx="683.2" cy="395.6" r="2.85" fill="#0000ee"/>
<circle cx="689.6" cy="393.8" r="2.85" fill="#0000ee"/>
<circle cx="696.0" cy="392.3" r="2.85" fill="#0000ee"/>
<circle cx="702.4" cy="392.7" r="2.85" fill="#0000ee"/>
<circle cx="708.8" cy="390.4" r="2.85" fill="#0000ee"/>
<circle cx="715.2" cy="389.3" r="2.85" fill="#0000ee"/>
<circle cx="721.6" cy="388.8" r="2.85" fill="#0000ee"/>
<circle cx="728.0" cy="387.8" r="2.85" fill="#0000ee"/>
<circle cx="734.5" cy="388.0" r="2.85" fill="#0000ee"/>
<circle cx="740.9" cy="386.9" r="2.85" fill="#0000ee"/>
<circle cx="747.3" cy="385.2" r="2.85" fill="#0000ee"/>
<circle cx="753.7" cy="384.4" r="2.85" fill="#0000ee"/>
<circle cx="760.1" cy="383.9" r="2.85" fill="#0000ee"/>
<circle cx="766.5" cy="382.6" r="2.85" fill="#0000ee"/>
<circle cx="772.9" cy="381.0" r="2.85" fill="#0000ee"/>
<circle cx="779.3" cy="379.5" r="2.85" fill="#0000ee"/>
<circle cx="785.7" cy="377.7" r="2.85" fill="#0000ee"/>
<circle cx="792.1" cy="377.1" r="2.85" fill="#0000ee"/>
<circle cx="798.5" cy="376.9" r="2.85" fill="#0000ee"/>
<circle cx="805.0" cy="376.0" r="2.85" fill="#0000ee"/>
<circle cx="811.4" cy="375.5" r="2.85" fill="#0000ee"/>
<circle cx="817.8" cy="374.8" r="2.85" fill="#0000ee"/>
<circle cx="824.2" cy="374.0" r="2.85" fill="#0000ee"/>
<circle cx="830.6" cy="371.8" r="2.85" fill="#0000ee"/>
<circle cx="837.0" cy="371.0" r="2.85" fill="#0000ee"/>
<circle cx="356.3" cy="575.4" r="2.6" fill="#e4e4ee" stroke="#2020f0" stroke-width="1.2"/>
<circle cx="356.3" cy="580.7" r="2.6" fill="#e4e4ee" stroke="#2020f0" stroke-width="1.2"/>
<circle cx="356.3" cy="607.3" r="2.6" fill="#e4e4ee" stroke="#2020f0" stroke-width="1.2"/>
<circle cx="362.7" cy="577.6" r="2.6" fill="#e4e4ee" stroke="#2020f0" stroke-width="1.2"/>
<circle cx="362.7" cy="581.9" r="2.6" fill="#e4e4ee" stroke="#2020f0" stroke-width="1.2"/>
<circle cx="362.7" cy="606.7" r="2.6" fill="#e4e4ee" stroke="#2020f0" stroke-width="1.2"/>
<circle cx="369.1" cy="576.4" r="2.6" fill="#e4e4ee" stroke="#2020f0" stroke-width="1.2"/>
<circle cx="369.1" cy="582.0" r="2.6" fill="#e4e4ee" stroke="#2020f0" stroke-width="1.2"/>
<circle cx="369.1" cy="608.7" r="2.6" fill="#e4e4ee" stroke="#2020f0" stroke-width="1.2"/>
<circle cx="375.5" cy="579.2" r="2.6" fill="#e4e4ee" stroke="#2020f0" stroke-width="1.2"/>
<circle cx="375.5" cy="584.7" r="2.6" fill="#e4e4ee" stroke="#2020f0" stroke-width="1.2"/>
<circle cx="375.5" cy="608.3" r="2.6" fill="#e4e4ee" stroke="#2020f0" stroke-width="1.2"/>
<circle cx="382.0" cy="578.9" r="2.6" fill="#e4e4ee" stroke="#2020f0" stroke-width="1.2"/>
<circle cx="382.0" cy="583.1" r="2.6" fill="#e4e4ee" stroke="#2020f0" stroke-width="1.2"/>
<circle cx="382.0" cy="610.4" r="2.6" fill="#e4e4ee" stroke="#2020f0" stroke-width="1.2"/>
<circle cx="388.4" cy="578.4" r="2.6" fill="#e4e4ee" stroke="#2020f0" stroke-width="1.2"/>
<circle cx="388.4" cy="583.4" r="2.6" fill="#e4e4ee" stroke="#2020f0" stroke-width="1.2"/>
<circle cx="388.4" cy="610.3" r="2.6" fill="#e4e4ee" stroke="#2020f0" stroke-width="1.2"/>
<circle cx="394.8" cy="578.4" r="2.6" fill="#e4e4ee" stroke="#2020f0" stroke-width="1.2"/>
<circle cx="394.8" cy="584.8" r="2.6" fill="#e4e4ee" stroke="#2020f0" stroke-width="1.2"/>
<circle cx="394.8" cy="609.2" r="2.6" fill="#e4e4ee" stroke="#2020f0" stroke-width="1.2"/>
<circle cx="401.2" cy="579.9" r="2.6" fill="#e4e4ee" stroke="#2020f0" stroke-width="1.2"/>
<circle cx="401.2" cy="586.2" r="2.6" fill="#e4e4ee" stroke="#2020f0" stroke-width="1.2"/>
<circle cx="401.2" cy="612.0" r="2.6" fill="#e4e4ee" stroke="#2020f0" stroke-width="1.2"/>
<circle cx="407.6" cy="579.3" r="2.6" fill="#e4e4ee" stroke="#2020f0" stroke-width="1.2"/>
<circle cx="407.6" cy="587.6" r="2.6" fill="#e4e4ee" stroke="#2020f0" stroke-width="1.2"/>
<circle cx="407.6" cy="610.5" r="2.6" fill="#e4e4ee" stroke="#2020f0" stroke-width="1.2"/>
<circle cx="414.0" cy="580.4" r="2.6" fill="#e4e4ee" stroke="#2020f0" stroke-width="1.2"/>
<circle cx="414.0" cy="587.6" r="2.6" fill="#e4e4ee" stroke="#2020f0" stroke-width="1.2"/>
<circle cx="414.0" cy="611.7" r="2.6" fill="#e4e4ee" stroke="#2020f0" stroke-width="1.2"/>
<circle cx="420.4" cy="581.3" r="2.6" fill="#e4e4ee" stroke="#2020f0" stroke-width="1.2"/>
<circle cx="420.4" cy="588.0" r="2.6" fill="#e4e4ee" stroke="#2020f0" stroke-width="1.2"/>
<circle cx="420.4" cy="612.0" r="2.6" fill="#e4e4ee" stroke="#2020f0" stroke-width="1.2"/>
<circle cx="426.8" cy="583.3" r="2.6" fill="#e4e4ee" stroke="#2020f0" stroke-width="1.2"/>
<circle cx="426.8" cy="587.5" r="2.6" fill="#e4e4ee" stroke="#2020f0" stroke-width="1.2"/>
<circle cx="426.8" cy="614.4" r="2.6" fill="#e4e4ee" stroke="#2020f0" stroke-width="1.2"/>
<circle cx="433.2" cy="583.9" r="2.6" fill="#e4e4ee" stroke="#2020f0" stroke-width="1.2"/>
<circle cx="433.2" cy="589.1" r="2.6" fill="#e4e4ee" stroke="#2020f0" stroke-width="1.2"/>
<circle cx="433.2" cy="612.5" r="2.6" fill="#e4e4ee" stroke="#2020f0" stroke-width="1.2"/>
<polyline points="356.3,466.5 362.7,468.5 369.1,470.6 375.5,474.6 382.0,480.6 388.4,489.4 394.8,497.0 401.2,510.8 407.6,525.0 414.0,542.5 420.4,556.2 426.8,569.2 433.2,578.1 439.6,591.0 446.0,601.2 452.5,603.5 458.9,603.4 465.3,601.3 471.7,598.5 478.1,596.8 484.5,594.3 490.9,589.7 497.3,585.6 503.7,583.2 510.1,582.0 516.5,580.8 523.0,579.6 529.4,578.4 535.8,577.2 542.2,576.6 548.6,576.2 555.0,575.8 561.4,575.5 567.8,575.1 574.2,574.4 580.6,573.3 587.0,572.2 593.5,571.0 599.9,569.9 606.3,568.8 612.7,567.7 619.1,566.4 625.5,565.0 631.9,563.6 638.3,562.1 644.7,560.7 651.1,559.2 657.5,557.8 664.0,556.4 670.4,554.9 676.8,553.4 683.2,551.9 689.6,550.4 696.0,549.0 702.4,547.7 708.8,546.4 715.2,545.0 721.6,543.7 728.0,542.4 734.5,541.0 740.9,539.6 747.3,538.1 753.7,536.7 760.1,535.2 766.5,533.8 772.9,532.3 779.3,531.0 785.7,530.0 792.1,528.9 798.5,527.8 805.0,526.8 811.4,525.7 817.8,525.1 824.2,524.5 830.6,523.9 837.0,523.4" fill="none" stroke="#7777ff" stroke-width="0.9"/>
<circle cx="356.3" cy="466.5" r="3.7" fill="#0000ee"/>
<circle cx="362.7" cy="468.5" r="3.7" fill="#0000ee"/>
<circle cx="369.1" cy="470.6" r="3.7" fill="#0000ee"/>
<circle cx="375.5" cy="474.6" r="3.7" fill="#0000ee"/>
<circle cx="382.0" cy="480.6" r="3.7" fill="#0000ee"/>
<circle cx="388.4" cy="489.4" r="3.7" fill="#0000ee"/>
<circle cx="394.8" cy="497.0" r="3.7" fill="#0000ee"/>
<circle cx="401.2" cy="510.8" r="3.7" fill="#0000ee"/>
<circle cx="407.6" cy="525.0" r="3.7" fill="#0000ee"/>
<circle cx="414.0" cy="542.5" r="3.7" fill="#0000ee"/>
<circle cx="420.4" cy="556.2" r="3.7" fill="#0000ee"/>
<circle cx="426.8" cy="569.2" r="3.7" fill="#0000ee"/>
<circle cx="433.2" cy="578.1" r="3.7" fill="#0000ee"/>
<circle cx="439.6" cy="591.0" r="3.7" fill="#0000ee"/>
<circle cx="446.0" cy="601.2" r="3.7" fill="#0000ee"/>
<circle cx="452.5" cy="603.5" r="3.7" fill="#0000ee"/>
<circle cx="458.9" cy="603.4" r="3.7" fill="#0000ee"/>
<circle cx="465.3" cy="601.3" r="3.7" fill="#0000ee"/>
<circle cx="471.7" cy="598.5" r="3.7" fill="#0000ee"/>
<circle cx="478.1" cy="596.8" r="3.7" fill="#0000ee"/>
<circle cx="484.5" cy="594.3" r="3.7" fill="#0000ee"/>
<circle cx="490.9" cy="589.7" r="3.7" fill="#0000ee"/>
<circle cx="497.3" cy="585.6" r="3.7" fill="#0000ee"/>
<circle cx="503.7" cy="583.2" r="3.7" fill="#0000ee"/>
<circle cx="510.1" cy="582.0" r="3.7" fill="#0000ee"/>
<circle cx="516.5" cy="580.8" r="3.7" fill="#0000ee"/>
<circle cx="523.0" cy="579.6" r="3.7" fill="#0000ee"/>
<circle cx="529.4" cy="578.4" r="3.7" fill="#0000ee"/>
<circle cx="535.8" cy="577.2" r="3.7" fill="#0000ee"/>
<circle cx="542.2" cy="576.6" r="3.7" fill="#0000ee"/>
<circle cx="548.6" cy="576.2" r="3.7" fill="#0000ee"/>
<circle cx="555.0" cy="575.8" r="3.7" fill="#0000ee"/>
<circle cx="561.4" cy="575.5" r="3.7" fill="#0000ee"/>
<circle cx="567.8" cy="575.1" r="3.7" fill="#0000ee"/>
<circle cx="574.2" cy="574.4" r="3.7" fill="#0000ee"/>
<circle cx="580.6" cy="573.3" r="3.7" fill="#0000ee"/>
<circle cx="587.0" cy="572.2" r="3.7" fill="#0000ee"/>
<circle cx="593.5" cy="571.0" r="3.7" fill="#0000ee"/>
<circle cx="599.9" cy="569.9" r="3.7" fill="#0000ee"/>
<circle cx="606.3" cy="568.8" r="3.7" fill="#0000ee"/>
<circle cx="612.7" cy="567.7" r="3.7" fill="#0000ee"/>
<circle cx="619.1" cy="566.4" r="3.7" fill="#0000ee"/>
<circle cx="625.5" cy="565.0" r="3.7" fill="#0000ee"/>
<circle cx="631.9" cy="563.6" r="3.7" fill="#0000ee"/>
<circle cx="638.3" cy="562.1" r="3.7" fill="#0000ee"/>
<circle cx="644.7" cy="560.7" r="3.7" fill="#0000ee"/>
<circle cx="651.1" cy="559.2" r="3.7" fill="#0000ee"/>
<circle cx="657.5" cy="557.8" r="3.7" fill="#0000ee"/>
<circle cx="664.0" cy="556.4" r="3.7" fill="#0000ee"/>
<circle cx="670.4" cy="554.9" r="3.7" fill="#0000ee"/>
<circle cx="676.8" cy="553.4" r="3.7" fill="#0000ee"/>
<circle cx="683.2" cy="551.9" r="3.7" fill="#0000ee"/>
<circle cx="689.6" cy="550.4" r="3.7" fill="#0000ee"/>
<circle cx="696.0" cy="549.0" r="3.7" fill="#0000ee"/>
<circle cx="702.4" cy="547.7" r="3.7" fill="#0000ee"/>
<circle cx="708.8" cy="546.4" r="3.7" fill="#0000ee"/>
<circle cx="715.2" cy="545.0" r="3.7" fill="#0000ee"/>
<circle cx="721.6" cy="543.7" r="3.7" fill="#0000ee"/>
<circle cx="728.0" cy="542.4" r="3.7" fill="#0000ee"/>
<circle cx="734.5" cy="541.0" r="3.7" fill="#0000ee"/>
<circle cx="740.9" cy="539.6" r="3.7" fill="#0000ee"/>
<circle cx="747.3" cy="538.1" r="3.7" fill="#0000ee"/>
<circle cx="753.7" cy="536.7" r="3.7" fill="#0000ee"/>
<circle cx="760.1" cy="535.2" r="3.7" fill="#0000ee"/>
<circle cx="766.5" cy="533.8" r="3.7" fill="#0000ee"/>
<circle cx="772.9" cy="532.3" r="3.7" fill="#0000ee"/>
<circle cx="779.3" cy="531.0" r="3.7" fill="#0000ee"/>
<circle cx="785.7" cy="530.0" r="3.7" fill="#0000ee"/>
<circle cx="792.1" cy="528.9" r="3.7" fill="#0000ee"/>
<circle cx="798.5" cy="527.8" r="3.7" fill="#0000ee"/>
<circle cx="805.0" cy="526.8" r="3.7" fill="#0000ee"/>
<circle cx="811.4" cy="525.7" r="3.7" fill="#0000ee"/>
<circle cx="817.8" cy="525.1" r="3.7" fill="#0000ee"/>
<circle cx="824.2" cy="524.5" r="3.7" fill="#0000ee"/>
<circle cx="830.6" cy="523.9" r="3.7" fill="#0000ee"/>
<circle cx="837.0" cy="523.4" r="3.7" fill="#0000ee"/></g>
<rect x="132.0" y="77.0" width="705.0" height="567.3" fill="none" stroke="#222" stroke-width="1.8"/>
<line x1="117.5" y1="644.30" x2="132.0" y2="644.30" stroke="#222" stroke-width="1.8"/>
<text x="108.5" y="654.9" font-family="'Liberation Serif','Times New Roman',serif" font-size="26.5" text-anchor="end" fill="#000">10<tspan font-size="15" dy="-14.1">-14</tspan></text>
<line x1="124.5" y1="627.22" x2="132.0" y2="627.22" stroke="#222" stroke-width="1.5"/>
<line x1="124.5" y1="617.23" x2="132.0" y2="617.23" stroke="#222" stroke-width="1.5"/>
<line x1="124.5" y1="610.15" x2="132.0" y2="610.15" stroke="#222" stroke-width="1.5"/>
<line x1="124.5" y1="604.65" x2="132.0" y2="604.65" stroke="#222" stroke-width="1.5"/>
<line x1="124.5" y1="600.16" x2="132.0" y2="600.16" stroke="#222" stroke-width="1.5"/>
<line x1="124.5" y1="596.36" x2="132.0" y2="596.36" stroke="#222" stroke-width="1.5"/>
<line x1="124.5" y1="593.07" x2="132.0" y2="593.07" stroke="#222" stroke-width="1.5"/>
<line x1="124.5" y1="590.17" x2="132.0" y2="590.17" stroke="#222" stroke-width="1.5"/>
<line x1="117.5" y1="587.57" x2="132.0" y2="587.57" stroke="#222" stroke-width="1.8"/>
<text x="108.5" y="598.2" font-family="'Liberation Serif','Times New Roman',serif" font-size="26.5" text-anchor="end" fill="#000">10<tspan font-size="15" dy="-14.1">-13</tspan></text>
<line x1="124.5" y1="570.49" x2="132.0" y2="570.49" stroke="#222" stroke-width="1.5"/>
<line x1="124.5" y1="560.50" x2="132.0" y2="560.50" stroke="#222" stroke-width="1.5"/>
<line x1="124.5" y1="553.42" x2="132.0" y2="553.42" stroke="#222" stroke-width="1.5"/>
<line x1="124.5" y1="547.92" x2="132.0" y2="547.92" stroke="#222" stroke-width="1.5"/>
<line x1="124.5" y1="543.43" x2="132.0" y2="543.43" stroke="#222" stroke-width="1.5"/>
<line x1="124.5" y1="539.63" x2="132.0" y2="539.63" stroke="#222" stroke-width="1.5"/>
<line x1="124.5" y1="536.34" x2="132.0" y2="536.34" stroke="#222" stroke-width="1.5"/>
<line x1="124.5" y1="533.44" x2="132.0" y2="533.44" stroke="#222" stroke-width="1.5"/>
<line x1="117.5" y1="530.84" x2="132.0" y2="530.84" stroke="#222" stroke-width="1.8"/>
<text x="108.5" y="541.4" font-family="'Liberation Serif','Times New Roman',serif" font-size="26.5" text-anchor="end" fill="#000">10<tspan font-size="15" dy="-14.1">-12</tspan></text>
<line x1="124.5" y1="513.76" x2="132.0" y2="513.76" stroke="#222" stroke-width="1.5"/>
<line x1="124.5" y1="503.77" x2="132.0" y2="503.77" stroke="#222" stroke-width="1.5"/>
<line x1="124.5" y1="496.69" x2="132.0" y2="496.69" stroke="#222" stroke-width="1.5"/>
<line x1="124.5" y1="491.19" x2="132.0" y2="491.19" stroke="#222" stroke-width="1.5"/>
<line x1="124.5" y1="486.70" x2="132.0" y2="486.70" stroke="#222" stroke-width="1.5"/>
<line x1="124.5" y1="482.90" x2="132.0" y2="482.90" stroke="#222" stroke-width="1.5"/>
<line x1="124.5" y1="479.61" x2="132.0" y2="479.61" stroke="#222" stroke-width="1.5"/>
<line x1="124.5" y1="476.71" x2="132.0" y2="476.71" stroke="#222" stroke-width="1.5"/>
<line x1="117.5" y1="474.11" x2="132.0" y2="474.11" stroke="#222" stroke-width="1.8"/>
<text x="108.5" y="484.7" font-family="'Liberation Serif','Times New Roman',serif" font-size="26.5" text-anchor="end" fill="#000">10<tspan font-size="15" dy="-14.1">-11</tspan></text>
<line x1="124.5" y1="457.03" x2="132.0" y2="457.03" stroke="#222" stroke-width="1.5"/>
<line x1="124.5" y1="447.04" x2="132.0" y2="447.04" stroke="#222" stroke-width="1.5"/>
<line x1="124.5" y1="439.96" x2="132.0" y2="439.96" stroke="#222" stroke-width="1.5"/>
<line x1="124.5" y1="434.46" x2="132.0" y2="434.46" stroke="#222" stroke-width="1.5"/>
<line x1="124.5" y1="429.97" x2="132.0" y2="429.97" stroke="#222" stroke-width="1.5"/>
<line x1="124.5" y1="426.17" x2="132.0" y2="426.17" stroke="#222" stroke-width="1.5"/>
<line x1="124.5" y1="422.88" x2="132.0" y2="422.88" stroke="#222" stroke-width="1.5"/>
<line x1="124.5" y1="419.98" x2="132.0" y2="419.98" stroke="#222" stroke-width="1.5"/>
<line x1="117.5" y1="417.38" x2="132.0" y2="417.38" stroke="#222" stroke-width="1.8"/>
<text x="108.5" y="428.0" font-family="'Liberation Serif','Times New Roman',serif" font-size="26.5" text-anchor="end" fill="#000">10<tspan font-size="15" dy="-14.1">-10</tspan></text>
<line x1="124.5" y1="400.30" x2="132.0" y2="400.30" stroke="#222" stroke-width="1.5"/>
<line x1="124.5" y1="390.31" x2="132.0" y2="390.31" stroke="#222" stroke-width="1.5"/>
<line x1="124.5" y1="383.23" x2="132.0" y2="383.23" stroke="#222" stroke-width="1.5"/>
<line x1="124.5" y1="377.73" x2="132.0" y2="377.73" stroke="#222" stroke-width="1.5"/>
<line x1="124.5" y1="373.24" x2="132.0" y2="373.24" stroke="#222" stroke-width="1.5"/>
<line x1="124.5" y1="369.44" x2="132.0" y2="369.44" stroke="#222" stroke-width="1.5"/>
<line x1="124.5" y1="366.15" x2="132.0" y2="366.15" stroke="#222" stroke-width="1.5"/>
<line x1="124.5" y1="363.25" x2="132.0" y2="363.25" stroke="#222" stroke-width="1.5"/>
<line x1="117.5" y1="360.65" x2="132.0" y2="360.65" stroke="#222" stroke-width="1.8"/>
<text x="108.5" y="371.2" font-family="'Liberation Serif','Times New Roman',serif" font-size="26.5" text-anchor="end" fill="#000">10<tspan font-size="15" dy="-14.1">-9</tspan></text>
<line x1="124.5" y1="343.57" x2="132.0" y2="343.57" stroke="#222" stroke-width="1.5"/>
<line x1="124.5" y1="333.58" x2="132.0" y2="333.58" stroke="#222" stroke-width="1.5"/>
<line x1="124.5" y1="326.50" x2="132.0" y2="326.50" stroke="#222" stroke-width="1.5"/>
<line x1="124.5" y1="321.00" x2="132.0" y2="321.00" stroke="#222" stroke-width="1.5"/>
<line x1="124.5" y1="316.51" x2="132.0" y2="316.51" stroke="#222" stroke-width="1.5"/>
<line x1="124.5" y1="312.71" x2="132.0" y2="312.71" stroke="#222" stroke-width="1.5"/>
<line x1="124.5" y1="309.42" x2="132.0" y2="309.42" stroke="#222" stroke-width="1.5"/>
<line x1="124.5" y1="306.52" x2="132.0" y2="306.52" stroke="#222" stroke-width="1.5"/>
<line x1="117.5" y1="303.92" x2="132.0" y2="303.92" stroke="#222" stroke-width="1.8"/>
<text x="108.5" y="314.5" font-family="'Liberation Serif','Times New Roman',serif" font-size="26.5" text-anchor="end" fill="#000">10<tspan font-size="15" dy="-14.1">-8</tspan></text>
<line x1="124.5" y1="286.84" x2="132.0" y2="286.84" stroke="#222" stroke-width="1.5"/>
<line x1="124.5" y1="276.85" x2="132.0" y2="276.85" stroke="#222" stroke-width="1.5"/>
<line x1="124.5" y1="269.77" x2="132.0" y2="269.77" stroke="#222" stroke-width="1.5"/>
<line x1="124.5" y1="264.27" x2="132.0" y2="264.27" stroke="#222" stroke-width="1.5"/>
<line x1="124.5" y1="259.78" x2="132.0" y2="259.78" stroke="#222" stroke-width="1.5"/>
<line x1="124.5" y1="255.98" x2="132.0" y2="255.98" stroke="#222" stroke-width="1.5"/>
<line x1="124.5" y1="252.69" x2="132.0" y2="252.69" stroke="#222" stroke-width="1.5"/>
<line x1="124.5" y1="249.79" x2="132.0" y2="249.79" stroke="#222" stroke-width="1.5"/>
<line x1="117.5" y1="247.19" x2="132.0" y2="247.19" stroke="#222" stroke-width="1.8"/>
<text x="108.5" y="257.8" font-family="'Liberation Serif','Times New Roman',serif" font-size="26.5" text-anchor="end" fill="#000">10<tspan font-size="15" dy="-14.1">-7</tspan></text>
<line x1="124.5" y1="230.11" x2="132.0" y2="230.11" stroke="#222" stroke-width="1.5"/>
<line x1="124.5" y1="220.12" x2="132.0" y2="220.12" stroke="#222" stroke-width="1.5"/>
<line x1="124.5" y1="213.04" x2="132.0" y2="213.04" stroke="#222" stroke-width="1.5"/>
<line x1="124.5" y1="207.54" x2="132.0" y2="207.54" stroke="#222" stroke-width="1.5"/>
<line x1="124.5" y1="203.05" x2="132.0" y2="203.05" stroke="#222" stroke-width="1.5"/>
<line x1="124.5" y1="199.25" x2="132.0" y2="199.25" stroke="#222" stroke-width="1.5"/>
<line x1="124.5" y1="195.96" x2="132.0" y2="195.96" stroke="#222" stroke-width="1.5"/>
<line x1="124.5" y1="193.06" x2="132.0" y2="193.06" stroke="#222" stroke-width="1.5"/>
<line x1="117.5" y1="190.46" x2="132.0" y2="190.46" stroke="#222" stroke-width="1.8"/>
<text x="108.5" y="201.1" font-family="'Liberation Serif','Times New Roman',serif" font-size="26.5" text-anchor="end" fill="#000">10<tspan font-size="15" dy="-14.1">-6</tspan></text>
<line x1="124.5" y1="173.38" x2="132.0" y2="173.38" stroke="#222" stroke-width="1.5"/>
<line x1="124.5" y1="163.39" x2="132.0" y2="163.39" stroke="#222" stroke-width="1.5"/>
<line x1="124.5" y1="156.31" x2="132.0" y2="156.31" stroke="#222" stroke-width="1.5"/>
<line x1="124.5" y1="150.81" x2="132.0" y2="150.81" stroke="#222" stroke-width="1.5"/>
<line x1="124.5" y1="146.32" x2="132.0" y2="146.32" stroke="#222" stroke-width="1.5"/>
<line x1="124.5" y1="142.52" x2="132.0" y2="142.52" stroke="#222" stroke-width="1.5"/>
<line x1="124.5" y1="139.23" x2="132.0" y2="139.23" stroke="#222" stroke-width="1.5"/>
<line x1="124.5" y1="136.33" x2="132.0" y2="136.33" stroke="#222" stroke-width="1.5"/>
<line x1="117.5" y1="133.73" x2="132.0" y2="133.73" stroke="#222" stroke-width="1.8"/>
<text x="108.5" y="144.3" font-family="'Liberation Serif','Times New Roman',serif" font-size="26.5" text-anchor="end" fill="#000">10<tspan font-size="15" dy="-14.1">-5</tspan></text>
<line x1="124.5" y1="116.65" x2="132.0" y2="116.65" stroke="#222" stroke-width="1.5"/>
<line x1="124.5" y1="106.66" x2="132.0" y2="106.66" stroke="#222" stroke-width="1.5"/>
<line x1="124.5" y1="99.58" x2="132.0" y2="99.58" stroke="#222" stroke-width="1.5"/>
<line x1="124.5" y1="94.08" x2="132.0" y2="94.08" stroke="#222" stroke-width="1.5"/>
<line x1="124.5" y1="89.59" x2="132.0" y2="89.59" stroke="#222" stroke-width="1.5"/>
<line x1="124.5" y1="85.79" x2="132.0" y2="85.79" stroke="#222" stroke-width="1.5"/>
<line x1="124.5" y1="82.50" x2="132.0" y2="82.50" stroke="#222" stroke-width="1.5"/>
<line x1="124.5" y1="79.60" x2="132.0" y2="79.60" stroke="#222" stroke-width="1.5"/>
<line x1="117.5" y1="77.00" x2="132.0" y2="77.00" stroke="#222" stroke-width="1.8"/>
<text x="108.5" y="87.6" font-family="'Liberation Serif','Times New Roman',serif" font-size="26.5" text-anchor="end" fill="#000">10<tspan font-size="15" dy="-14.1">-4</tspan></text>
<line x1="132.00" y1="644.3" x2="132.00" y2="658.8" stroke="#222" stroke-width="1.8"/>
<text x="132.0" y="688.6" font-family="'Liberation Serif','Times New Roman',serif" font-size="25.5" text-anchor="middle" fill="#000">-12</text>
<line x1="164.05" y1="644.3" x2="164.05" y2="651.8" stroke="#222" stroke-width="1.8"/>
<line x1="196.09" y1="644.3" x2="196.09" y2="658.8" stroke="#222" stroke-width="1.8"/>
<text x="196.1" y="688.6" font-family="'Liberation Serif','Times New Roman',serif" font-size="25.5" text-anchor="middle" fill="#000">-10</text>
<line x1="228.14" y1="644.3" x2="228.14" y2="651.8" stroke="#222" stroke-width="1.8"/>
<line x1="260.18" y1="644.3" x2="260.18" y2="658.8" stroke="#222" stroke-width="1.8"/>
<text x="260.2" y="688.6" font-family="'Liberation Serif','Times New Roman',serif" font-size="25.5" text-anchor="middle" fill="#000">-8</text>
<line x1="292.23" y1="644.3" x2="292.23" y2="651.8" stroke="#222" stroke-width="1.8"/>
<line x1="324.27" y1="644.3" x2="324.27" y2="658.8" stroke="#222" stroke-width="1.8"/>
<text x="324.3" y="688.6" font-family="'Liberation Serif','Times New Roman',serif" font-size="25.5" text-anchor="middle" fill="#000">-6</text>
<line x1="356.32" y1="644.3" x2="356.32" y2="651.8" stroke="#222" stroke-width="1.8"/>
<line x1="388.36" y1="644.3" x2="388.36" y2="658.8" stroke="#222" stroke-width="1.8"/>
<text x="388.4" y="688.6" font-family="'Liberation Serif','Times New Roman',serif" font-size="25.5" text-anchor="middle" fill="#000">-4</text>
<line x1="420.41" y1="644.3" x2="420.41" y2="651.8" stroke="#222" stroke-width="1.8"/>
<line x1="452.45" y1="644.3" x2="452.45" y2="658.8" stroke="#222" stroke-width="1.8"/>
<text x="452.5" y="688.6" font-family="'Liberation Serif','Times New Roman',serif" font-size="25.5" text-anchor="middle" fill="#000">-2</text>
<line x1="484.50" y1="644.3" x2="484.50" y2="651.8" stroke="#222" stroke-width="1.8"/>
<line x1="516.55" y1="644.3" x2="516.55" y2="658.8" stroke="#222" stroke-width="1.8"/>
<text x="516.5" y="688.6" font-family="'Liberation Serif','Times New Roman',serif" font-size="25.5" text-anchor="middle" fill="#000">0</text>
<line x1="548.59" y1="644.3" x2="548.59" y2="651.8" stroke="#222" stroke-width="1.8"/>
<line x1="580.64" y1="644.3" x2="580.64" y2="658.8" stroke="#222" stroke-width="1.8"/>
<text x="580.6" y="688.6" font-family="'Liberation Serif','Times New Roman',serif" font-size="25.5" text-anchor="middle" fill="#000">2</text>
<line x1="612.68" y1="644.3" x2="612.68" y2="651.8" stroke="#222" stroke-width="1.8"/>
<line x1="644.73" y1="644.3" x2="644.73" y2="658.8" stroke="#222" stroke-width="1.8"/>
<text x="644.7" y="688.6" font-family="'Liberation Serif','Times New Roman',serif" font-size="25.5" text-anchor="middle" fill="#000">4</text>
<line x1="676.77" y1="644.3" x2="676.77" y2="651.8" stroke="#222" stroke-width="1.8"/>
<line x1="708.82" y1="644.3" x2="708.82" y2="658.8" stroke="#222" stroke-width="1.8"/>
<text x="708.8" y="688.6" font-family="'Liberation Serif','Times New Roman',serif" font-size="25.5" text-anchor="middle" fill="#000">6</text>
<line x1="740.86" y1="644.3" x2="740.86" y2="651.8" stroke="#222" stroke-width="1.8"/>
<line x1="772.91" y1="644.3" x2="772.91" y2="658.8" stroke="#222" stroke-width="1.8"/>
<text x="772.9" y="688.6" font-family="'Liberation Serif','Times New Roman',serif" font-size="25.5" text-anchor="middle" fill="#000">8</text>
<line x1="804.95" y1="644.3" x2="804.95" y2="651.8" stroke="#222" stroke-width="1.8"/>
<line x1="837.00" y1="644.3" x2="837.00" y2="658.8" stroke="#222" stroke-width="1.8"/>
<text x="837.0" y="688.6" font-family="'Liberation Serif','Times New Roman',serif" font-size="25.5" text-anchor="middle" fill="#000">10</text>
<text x="442" y="739.7" font-family="'Liberation Serif','Times New Roman',serif" font-size="31" fill="#000"><tspan font-style="italic">V</tspan><tspan font-style="italic" font-size="21" dy="10">PG</tspan><tspan dy="-10"> (V)</tspan></text>
<text transform="translate(25,481) rotate(-90)" textLength="229" lengthAdjust="spacing" font-family="'Liberation Serif','Times New Roman',serif" font-size="31" fill="#000"><tspan font-style="italic">I</tspan><tspan font-style="italic" font-size="24" dy="10">ds</tspan><tspan dy="-10"> , |</tspan><tspan font-style="italic">I</tspan><tspan font-style="italic" font-size="22" dy="10">pg</tspan><tspan dy="-10">|, |</tspan><tspan font-style="italic">I</tspan><tspan font-style="italic" font-size="22" dy="10">cg</tspan><tspan dy="-10">| (A)</tspan></text>
<text x="91.5" y="25.6" font-family="'Liberation Serif','Times New Roman',serif" font-size="37" font-weight="bold" fill="#000">a</text>
<line x1="134.4" y1="96" x2="183.3" y2="96" stroke="#f0b98a" stroke-width="1.6"/>
<circle cx="158.9" cy="96" r="3.4" fill="#ff8000"/>
<text x="187.3" y="98.9" textLength="263" lengthAdjust="spacing" font-family="'Liberation Serif','Times New Roman',serif" font-size="22.2" fill="#000"><tspan font-style="italic">I</tspan><tspan font-style="italic" font-size="15.5" dy="5">ds </tspan><tspan dy="-5">, with </tspan><tspan font-style="italic">V</tspan><tspan font-style="italic" font-size="15.5" dy="5">CG</tspan><tspan dy="-5"> from 0 to -15V</tspan></text>
<line x1="500" y1="94" x2="549.3" y2="94" stroke="#4848c8" stroke-width="1.7"/>
<circle cx="524.6" cy="94" r="3.4" fill="#0000ee"/>
<text x="551.6" y="97.7" textLength="255.5" lengthAdjust="spacing" font-family="'Liberation Serif','Times New Roman',serif" font-size="22.2" fill="#000"><tspan font-style="italic">I</tspan><tspan font-style="italic" font-size="15.5" dy="5">ds </tspan><tspan dy="-5">, with </tspan><tspan font-style="italic">V</tspan><tspan font-style="italic" font-size="15.5" dy="5">CG</tspan><tspan dy="-5"> from 0 to 15V</tspan></text>
<text x="135.0" y="229.0" font-family="'Liberation Serif','Times New Roman',serif" font-size="24.0" font-weight="bold" fill="#f07a20"><tspan font-style="italic">V</tspan><tspan font-style="italic" font-size="16.3" dy="5.5">CG</tspan><tspan dy="-5.5" dx="3">= -15V</tspan></text>
<text x="135.0" y="414.0" font-family="'Liberation Serif','Times New Roman',serif" font-size="24.0" font-weight="bold" fill="#f07a20"><tspan font-style="italic">V</tspan><tspan font-style="italic" font-size="16.3" dy="5.5">CG</tspan><tspan dy="-5.5" dx="3">= 0V</tspan></text>
<text x="721.0" y="138.9" font-family="'Liberation Serif','Times New Roman',serif" font-size="24.0" font-weight="bold" fill="#1010dd"><tspan font-style="italic">V</tspan><tspan font-style="italic" font-size="16.3" dy="5.5">CG</tspan><tspan dy="-5.5" dx="3">= 15V</tspan></text>
<text x="733.0" y="509.3" font-family="'Liberation Serif','Times New Roman',serif" font-size="24.0" font-weight="bold" fill="#1010dd"><tspan font-style="italic">V</tspan><tspan font-style="italic" font-size="16.3" dy="5.5">CG</tspan><tspan dy="-5.5" dx="3">= 0V</tspan></text>
<text x="527" y="625" textLength="260.5" lengthAdjust="spacing" font-family="'Liberation Serif','Times New Roman',serif" font-size="23.5" fill="#000">Leakage current, |<tspan font-style="italic">I</tspan><tspan font-style="italic" font-size="16" dy="5">cg</tspan><tspan dy="-5">|, |</tspan><tspan font-style="italic">I</tspan><tspan font-style="italic" font-size="16" dy="5">pg</tspan><tspan dy="-5">|</tspan></text>
<text x="309.5" y="147" textLength="102" lengthAdjust="spacingAndGlyphs" font-family="'DejaVu Sans',sans-serif" font-size="24.5" fill="#000" stroke="#000" stroke-width="0.9">V<tspan font-size="15.5" dy="6.5">DS</tspan><tspan dy="-6.5"> = 1V</tspan></text>
<rect x="279.9" y="153.9" width="43.4" height="29.6" fill="#ffff00"/>
<rect x="389.7" y="153.9" width="42.5" height="29.6" fill="#ffff00"/>
<text x="286" y="175" font-family="'Liberation Sans',Arial,sans-serif" font-size="21" font-weight="bold" fill="#000">S</text>
<text x="412.5" y="175" font-family="'Liberation Sans',Arial,sans-serif" font-size="21" font-weight="bold" fill="#000">D</text>
<rect x="300.2" y="178.9" width="110.7" height="5.6" fill="#00a651"/>
<rect x="275.6" y="183.7" width="163.1" height="7.9" fill="#c6d9f1"/>
<rect x="275.6" y="191.6" width="163.1" height="21.2" fill="#d9d9d9"/>
<rect x="296.3" y="192.7" width="40.2" height="14" fill="#6f0a7a"/>
<rect x="375.4" y="192.7" width="41.3" height="14" fill="#6f0a7a"/>
<rect x="275.6" y="213.9" width="163.1" height="15.9" fill="#595959"/>
<line x1="320" y1="206" x2="466.5" y2="206" stroke="#000" stroke-width="4.8"/>
<circle cx="320.1" cy="206.0" r="5.5" fill="#000"/>
<circle cx="394.2" cy="206.0" r="5.5" fill="#000"/>
<circle cx="466.3" cy="206.0" r="5.2" fill="#000"/>
<circle cx="360.2" cy="226.6" r="5.5" fill="#000"/>
<line x1="360.2" y1="226" x2="360.2" y2="253" stroke="#000" stroke-width="4.6"/>
<line x1="344" y1="253.2" x2="377.4" y2="253.2" stroke="#000" stroke-width="5"/>
<line x1="352.3" y1="263.2" x2="368.5" y2="263.2" stroke="#000" stroke-width="5.5"/>
<line x1="360.2" y1="263" x2="360.2" y2="287" stroke="#000" stroke-width="4.6"/>
<path d="M352.6 287.6 L367.8 287.6 L360.2 297.8 Z" fill="#fff" stroke="#000" stroke-width="3.1" stroke-linejoin="miter"/>
<text x="380.5" y="262.4" font-family="'Liberation Sans',Arial,sans-serif" font-size="25" font-weight="bold" fill="#000">V<tspan font-size="15.5" dy="7.2">CG</tspan></text>
<line x1="466.6" y1="206" x2="466.6" y2="232" stroke="#000" stroke-width="4.6"/>
<line x1="450.2" y1="232.5" x2="483.1" y2="232.5" stroke="#000" stroke-width="5"/>
<line x1="462.9" y1="242.5" x2="474" y2="242.5" stroke="#000" stroke-width="6.5"/>
<line x1="466.6" y1="242" x2="466.6" y2="266.5" stroke="#000" stroke-width="4.6"/>
<path d="M459 267.2 L474 267.2 L466.4 277.2 Z" fill="#fff" stroke="#000" stroke-width="3.1"/>
<line x1="452" y1="253.5" x2="478.5" y2="223.5" stroke="#000" stroke-width="3.6"/>
<path d="M483.5 218 L474.5 222 L480 227.5 Z" fill="#000" stroke="#000" stroke-width="1.5"/>
<text x="478.5" y="256" font-family="'Liberation Sans',Arial,sans-serif" font-size="25" font-weight="bold" fill="#000">V<tspan font-size="15.5" dy="7.2">PG</tspan></text>
</svg>
</body></html>
